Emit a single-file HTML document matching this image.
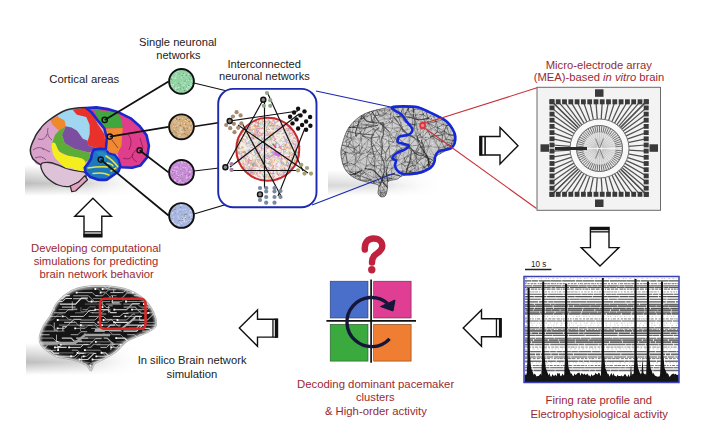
<!DOCTYPE html><html><head><meta charset="utf-8"><style>html,body{margin:0;padding:0;background:#fff;width:723px;height:438px;overflow:hidden}svg{display:block}</style></head><body><svg width="723" height="438" viewBox="0 0 723 438">
<defs>
<radialGradient id="shad" cx="50%" cy="50%" r="50%"><stop offset="0" stop-color="#b8b8b8"/><stop offset="0.6" stop-color="#d4d4d4"/><stop offset="1" stop-color="#ffffff" stop-opacity="0"/></radialGradient>
<linearGradient id="shadL" x1="0" x2="1" y1="0" y2="0"><stop offset="0" stop-color="#ffffff" stop-opacity="0"/><stop offset="0.25" stop-color="#c8c8c8"/><stop offset="1" stop-color="#e8e8e8" stop-opacity="0"/></linearGradient>
<radialGradient id="gbg" cx="0.45" cy="0.4" r="0.6"><stop offset="0" stop-color="#fff" stop-opacity="0.25"/><stop offset="0.7" stop-color="#fff" stop-opacity="0"/><stop offset="1" stop-color="#000" stop-opacity="0.25"/></radialGradient>
<linearGradient id="shadH" x1="0" x2="1" y1="0" y2="0"><stop offset="0" stop-color="#c0c0c0"/><stop offset="0.35" stop-color="#d8d8d8"/><stop offset="1" stop-color="#ffffff" stop-opacity="0"/></linearGradient>
<filter id="blur3" x="-20%" y="-50%" width="140%" height="200%"><feGaussianBlur stdDeviation="2.5"/></filter>
<linearGradient id="shadH2" x1="0" x2="1" y1="0" y2="0"><stop offset="0" stop-color="#d4d4d4"/><stop offset="0.5" stop-color="#dedede"/><stop offset="1" stop-color="#ffffff" stop-opacity="0"/></linearGradient>
<filter id="blur4" x="-20%" y="-80%" width="140%" height="260%"><feGaussianBlur stdDeviation="3.5"/></filter>
<filter id="blur1" x="-10%" y="-10%" width="120%" height="120%"><feGaussianBlur stdDeviation="1.2"/></filter>
<linearGradient id="vg" x1="0" x2="0" y1="0" y2="1"><stop offset="0" stop-color="#fff" stop-opacity="0"/><stop offset="0.6" stop-color="#fff" stop-opacity="1"/><stop offset="1" stop-color="#fff" stop-opacity="0"/></linearGradient>
<linearGradient id="hg" x1="0" x2="1" y1="0" y2="0"><stop offset="0" stop-color="#bdbdbd"/><stop offset="0.5" stop-color="#d6d6d6"/><stop offset="1" stop-color="#ffffff" stop-opacity="0"/></linearGradient>
<mask id="mv" maskContentUnits="objectBoundingBox"><rect width="1" height="1" fill="url(#vg)"/></mask>
</defs>
<rect width="723" height="438" fill="#ffffff"/>
<rect x="25" y="165" width="125" height="31" fill="url(#hg)" mask="url(#mv)"/>
<path d="M30.3,150.0 C30.6,146.4 33.1,141.3 34.8,137.7 C36.5,134.1 38.3,131.4 40.6,128.5 C42.9,125.6 45.9,122.8 48.5,120.5 C51.1,118.2 53.6,116.5 56.5,114.8 C59.4,113.1 62.7,111.4 65.7,110.3 C68.8,109.2 71.4,108.5 74.8,108.0 C78.2,107.5 82.5,107.7 86.1,107.6 C89.7,107.5 92.8,107.0 96.4,107.2 C100.0,107.4 104.0,107.9 107.8,108.8 C111.6,109.7 115.4,110.8 119.2,112.4 C123.0,114.0 127.3,115.9 130.7,118.2 C134.1,120.5 137.2,123.3 139.8,126.2 C142.5,129.1 145.1,132.2 146.6,135.4 C148.1,138.7 148.8,142.0 148.9,145.7 C149.0,149.4 148.5,154.1 147.1,157.4 C145.7,160.7 142.8,163.9 140.3,165.6 C137.8,167.3 135.2,167.4 132.0,167.7 C128.8,168.0 123.3,166.7 121.0,167.5 C118.7,168.3 120.0,170.8 118.4,172.5 C116.8,174.2 113.8,176.4 111.5,178.0 C109.2,179.6 107.2,181.6 104.7,182.0 C102.2,182.4 99.2,181.8 96.4,180.7 C93.7,179.6 90.3,177.0 88.2,175.2 C86.1,173.4 91.7,171.5 84.0,170.0 C76.3,168.5 50.5,167.8 42.0,166.0 C33.5,164.2 35.0,161.7 33.0,159.0 C31.1,156.3 30.0,153.6 30.3,150.0Z" fill="#d8a2ca"/>
<path d="M41.2,164.0 C42.3,162.4 46.3,162.3 49.2,162.5 C52.1,162.7 55.5,164.1 58.4,165.1 C61.3,166.1 63.8,167.6 66.4,168.5 C69.1,169.4 71.4,169.8 74.3,170.4 C77.2,171.0 81.6,171.1 83.6,171.8 C85.6,172.5 86.0,173.3 86.2,174.4 C86.4,175.5 86.2,177.1 84.9,178.4 C83.6,179.7 80.7,181.0 78.3,182.3 C75.9,183.6 73.6,185.9 70.3,186.3 C67.0,186.8 62.1,186.3 58.4,185.0 C54.6,183.7 50.4,180.6 47.8,178.4 C45.2,176.2 43.7,174.2 42.6,171.8 C41.5,169.4 40.1,165.6 41.2,164.0Z" fill="#ddc2d8" stroke="#2a2a2a" stroke-width="1.3"/>
<path d="M70.3,186.0 L71.7,191.6 L75.6,191.0 L87.5,179.7 L84.9,175.7 L78.3,182.3Z" fill="#e4a0bf" stroke="#2a2a2a" stroke-width="1.2" stroke-linejoin="round" />
<path d="M50.3,120.0 L57.7,116.0 L64.5,120.5 L65.7,126.3 L58.8,130.8 L52.5,124.5Z" fill="#f0892c" stroke="none" stroke-width="0" stroke-linejoin="round" />
<path d="M57.7,116.0 C57.9,114.3 63.2,111.3 65.7,110.3 C68.2,109.2 70.7,109.0 72.6,109.7 C74.5,110.5 74.7,113.6 77.0,114.8 C79.3,116.0 84.2,115.3 86.3,117.0 C88.4,118.7 89.1,122.1 89.7,125.0 C90.3,127.9 90.1,131.7 89.7,134.2 C89.3,136.7 88.6,139.2 87.4,140.0 C86.2,140.8 84.5,140.3 82.8,138.8 C81.1,137.3 78.9,132.7 77.0,130.8 C75.1,128.9 73.1,128.0 71.4,127.4 C69.7,126.8 68.0,128.6 66.8,127.4 C65.6,126.2 66.0,122.4 64.5,120.5 C63.0,118.6 57.5,117.7 57.7,116.0Z" fill="#a0d6ef"/>
<path d="M72.6,109.7 L85.1,107.4 L87.4,108.0 L94.2,117.0 L97.7,124.0 L104.5,134.2 L105.7,145.7 L104.5,150.0 L97.7,148.0 L88.5,145.7 L87.4,142.2 L89.7,134.2 L89.7,125.0 L86.3,117.0 L77.0,114.8Z" fill="#e8312b" stroke="none" stroke-width="0" stroke-linejoin="round" />
<path d="M65.7,126.3 L71.4,127.4 L77.0,130.8 L82.8,138.8 L87.4,140.5 L88.5,145.7 L97.7,148.0 L93.0,150.0 L89.3,152.8 L74.2,148.7 L64.7,143.2 L62.0,135.0Z" fill="#7c4e9f" stroke="none" stroke-width="0" stroke-linejoin="round" />
<path d="M55.0,135.0 L58.8,130.8 L65.7,126.3 L62.0,135.0 L64.7,143.2 L74.2,148.7 L89.3,152.8 L92.0,157.0 L90.7,159.7 L85.2,161.7 L81.1,158.3 L67.4,155.5 L59.2,151.4 L55.0,143.2 L51.6,144.6Z" fill="#5bad35" stroke="none" stroke-width="0" stroke-linejoin="round" />
<path d="M51.6,144.6 C51.8,142.5 53.7,142.1 55.0,143.2 C56.3,144.3 57.1,149.3 59.2,151.4 C61.3,153.5 63.8,154.3 67.4,155.5 C71.1,156.7 78.1,157.2 81.1,158.3 C84.1,159.5 84.8,160.4 85.2,162.4 C85.7,164.4 84.9,169.2 83.8,170.6 C82.7,172.0 80.5,171.0 78.4,170.6 C76.4,170.2 73.6,168.3 71.5,167.9 C69.4,167.5 68.0,168.8 66.0,167.9 C64.0,167.0 61.2,164.5 59.2,162.4 C57.2,160.3 55.0,158.5 53.7,155.5 C52.4,152.5 51.4,146.7 51.6,144.6Z" fill="#f5ee1f"/>
<path d="M33,150 Q40,145 44,150" fill="none" stroke="#6a3a60" stroke-width="0.7"/>
<path d="M38,139 Q45,141 47,134" fill="none" stroke="#6a3a60" stroke-width="0.7"/>
<path d="M35,158 Q42,155 46,160" fill="none" stroke="#6a3a60" stroke-width="0.7"/>
<path d="M48,128 Q46,136 52,140" fill="none" stroke="#6a3a60" stroke-width="0.7"/>
<path d="M42,148 L50,152" fill="none" stroke="#6a3a60" stroke-width="0.7"/>
<path d="M86.1,108 L96.4,107.4 L107.8,109.1 L119.2,112.6 L130.7,118.3 L139.8,126.3 L146.6,135.4 L148.9,145.7 L147.1,157.4 L140.3,165.6 L132,167.7 L121,167.2 L117.5,154 L108.8,152.6 L106.7,137.7 L104.4,128.5 L98.7,121.7 L91.8,112.6Z" fill="#e13d8d"/>
<path d="M94.1,109.7 L117.0,112.6 L121.5,119.4 L122.7,127.4 L110.1,128.5 L104.4,127.4 L98.7,120.5Z" fill="#3fa73d" stroke="none" stroke-width="0" stroke-linejoin="round" />
<path d="M105.5,128.5 L122.7,128.0 L121.5,145.7 L119.2,150.0 L117.5,154.0 L108.8,152.6 L106.7,137.7Z" fill="#ef8a30" stroke="none" stroke-width="0" stroke-linejoin="round" />
<path d="M127,133 Q134,140 129,150" fill="none" stroke="#7a1848" stroke-width="0.7"/>
<path d="M136,150 Q128,157 137,162" fill="none" stroke="#7a1848" stroke-width="0.7"/>
<path d="M123,158 Q131,161 133,154" fill="none" stroke="#7a1848" stroke-width="0.7"/>
<path d="M140,138 L143,148" fill="none" stroke="#7a1848" stroke-width="0.7"/>
<path d="M112,140 L118,148" fill="none" stroke="#7a1848" stroke-width="0.7"/>
<path d="M93.9,149.6 C95.3,148.8 98.2,148.5 100.3,148.7 C102.4,148.8 105.3,149.8 106.7,150.5 C108.1,151.2 107.1,152.4 108.5,153.2 C109.9,153.9 113.2,153.9 114.9,155.0 C116.6,156.1 117.6,157.8 118.5,159.6 C119.4,161.4 120.4,164.0 120.4,166.0 C120.4,168.0 119.9,169.8 118.5,171.5 C117.1,173.2 114.1,174.6 112.1,176.0 C110.1,177.4 109.0,179.1 106.7,179.7 C104.4,180.3 101.2,180.1 98.4,179.7 C95.7,179.2 92.3,178.2 90.2,177.0 C88.1,175.8 86.6,173.9 85.7,172.4 C84.8,170.9 84.4,169.2 84.7,167.8 C85.0,166.4 86.4,165.7 87.5,164.2 C88.6,162.7 90.3,160.5 91.1,158.7 C91.8,156.9 91.5,154.7 92.0,153.2 C92.5,151.7 92.5,150.3 93.9,149.6Z" fill="#1d78c0"/>
<path d="M96,152 Q104,150 108,156 L104,162 Z" fill="#2a8ec8" opacity="0.8"/>
<path d="M93,173.5 Q103,172 109,175" fill="none" stroke="#e8e438" stroke-width="1.5" stroke-linecap="round"/>
<path d="M88,168 Q100,166 107.5,167" fill="none" stroke="#e8e438" stroke-width="1.5" stroke-linecap="round"/>
<path d="M106,156 Q113,160 118,167" fill="none" stroke="#e8e438" stroke-width="1.5" stroke-linecap="round"/>
<path d="M107,163 Q112,164 113,166" fill="none" stroke="#e8e438" stroke-width="1.5" stroke-linecap="round"/>
<path d="M111,171 L116,168" fill="none" stroke="#e8e438" stroke-width="1.5" stroke-linecap="round"/>
<path d="M86.1,108 L96.4,107.4 L107.8,109.1 L119.2,112.6 L130.7,118.3 L139.8,126.3 L146.6,135.4 L148.9,145.7 L147.1,157.4 L140.3,165.6 L132,167.7 L121,167.2 L120.4,166 L118.5,171.5 L112.1,176 L106.7,179.7 L98.4,179.7 L90.2,177 L85.7,172.4 L84.7,167.8 L87.5,164.2 L91.1,158.7 L92,153.2 L93.9,149.6 L100.3,148.7 L106,149.2 L106.7,137.7 L104.4,128.5 L98.7,121.7 L91.8,112.6Z" fill="none" stroke="#1a28cc" stroke-width="2.6" stroke-linejoin="round"/>
<path d="M106.7,150.5 L108.5,153.2 L114.9,155 L118.5,159.6 L120.4,166" fill="none" stroke="#1a28cc" stroke-width="2.2"/>
<path d="M86.1,107.6 C80,107.8 70,108.6 65.7,110.3 C60,112.5 52,118 48.5,120.5 C44,124 42,126 40.6,128.5 C37,133 35,136 34.8,137.7 C32,143 30.5,147 30.3,150 C30,154 32,157 33,159 C36,162 39,164 41.4,165.1" fill="none" stroke="#2a2a2a" stroke-width="1.5"/>
<line x1="104.7" y1="119.9" x2="168.5" y2="81.4" stroke="#111" stroke-width="1.8"/>
<line x1="109.8" y1="136.6" x2="168.5" y2="126.8" stroke="#111" stroke-width="1.8"/>
<line x1="139.6" y1="150.3" x2="168.5" y2="172.4" stroke="#111" stroke-width="1.8"/>
<line x1="100.7" y1="159.6" x2="168.5" y2="215.5" stroke="#111" stroke-width="1.8"/>
<circle cx="104.7" cy="119.9" r="2.6" fill="none" stroke="#111" stroke-width="1.4"/>
<circle cx="109.8" cy="136.6" r="2.6" fill="none" stroke="#111" stroke-width="1.4"/>
<circle cx="139.6" cy="150.3" r="2.6" fill="none" stroke="#111" stroke-width="1.4"/>
<circle cx="100.7" cy="159.6" r="2.6" fill="none" stroke="#111" stroke-width="1.4"/>
<line x1="194" y1="83" x2="263.3" y2="99.7" stroke="#111" stroke-width="1.1"/>
<line x1="194" y1="126.5" x2="229.7" y2="121" stroke="#111" stroke-width="1.6"/>
<line x1="194" y1="171" x2="225.4" y2="167.2" stroke="#111" stroke-width="1.1"/>
<line x1="194" y1="214" x2="260" y2="194.4" stroke="#111" stroke-width="1.1"/>
<circle cx="181.5" cy="81.4" r="12.4" fill="#8fd4a2"/>
<path d="M179.5 85.4h1.2v1h-1.2zM179.7 83.5h1.2v1h-1.2zM174.1 85.5h1.2v1h-1.2zM178.3 91.2h1.2v1h-1.2zM170.9 79.7h1.2v1h-1.2zM184.6 80.6h1.2v1h-1.2zM188.9 78.7h1.2v1h-1.2zM180 88.4h1.2v1h-1.2zM182.7 87.4h1.2v1h-1.2zM188.2 85.1h1.2v1h-1.2zM180.6 85.7h1.2v1h-1.2zM178.5 73.7h1.2v1h-1.2zM189.7 75.4h1.2v1h-1.2zM177.9 82.8h1.2v1h-1.2zM170.6 78.8h1.2v1h-1.2zM192.1 83.1h1.2v1h-1.2zM172 82.7h1.2v1h-1.2zM192.6 83h1.2v1h-1.2zM181.8 75.1h1.2v1h-1.2zM182.7 73.1h1.2v1h-1.2zM185.1 71.6h1.2v1h-1.2zM184.1 90.1h1.2v1h-1.2zM185.8 74.7h1.2v1h-1.2zM176.4 89.1h1.2v1h-1.2zM186.7 86.3h1.2v1h-1.2zM183 77.3h1.2v1h-1.2zM192.8 82.4h1.2v1h-1.2z" fill="#555" opacity="0.5"/>
<path d="M191.4 84.5h1.2v1h-1.2zM182.2 84.7h1.2v1h-1.2zM184.6 82.9h1.2v1h-1.2zM189.6 84.5h1.2v1h-1.2zM175.5 75h1.2v1h-1.2zM175.1 78h1.2v1h-1.2zM191.7 84.5h1.2v1h-1.2zM177.8 91.1h1.2v1h-1.2zM188.4 86.6h1.2v1h-1.2zM175.6 87.5h1.2v1h-1.2zM173.2 77.8h1.2v1h-1.2zM178.3 74.6h1.2v1h-1.2zM170.7 83.8h1.2v1h-1.2zM182.1 78.2h1.2v1h-1.2zM173 84.2h1.2v1h-1.2zM187 86.4h1.2v1h-1.2zM186.1 88h1.2v1h-1.2zM171.9 76.6h1.2v1h-1.2zM177.8 87.1h1.2v1h-1.2zM174.7 77.7h1.2v1h-1.2zM190.5 85.3h1.2v1h-1.2zM174.6 72.3h1.2v1h-1.2zM175.1 90.5h1.2v1h-1.2zM183.4 84.8h1.2v1h-1.2zM181.6 88.6h1.2v1h-1.2zM180.8 85.6h1.2v1h-1.2zM185.5 76.8h1.2v1h-1.2zM191 80.6h1.2v1h-1.2zM185.8 80.2h1.2v1h-1.2zM186.9 89h1.2v1h-1.2zM172.7 82.2h1.2v1h-1.2zM175.6 87.7h1.2v1h-1.2zM175.9 73.2h1.2v1h-1.2zM183.6 74.5h1.2v1h-1.2zM175.2 86.3h1.2v1h-1.2zM184.3 82.5h1.2v1h-1.2zM181.7 81.5h1.2v1h-1.2zM175 87.8h1.2v1h-1.2zM175.2 76.7h1.2v1h-1.2zM188.2 72.1h1.2v1h-1.2zM175.1 82.2h1.2v1h-1.2zM186.9 85.4h1.2v1h-1.2zM175.3 88.7h1.2v1h-1.2zM187.8 74.1h1.2v1h-1.2zM170.6 80.1h1.2v1h-1.2zM178.9 86.2h1.2v1h-1.2zM183.2 76.5h1.2v1h-1.2zM180.3 82.9h1.2v1h-1.2zM183.5 73.7h1.2v1h-1.2zM177.5 70.9h1.2v1h-1.2zM185 72.3h1.2v1h-1.2zM188.2 79.5h1.2v1h-1.2zM187.8 86.1h1.2v1h-1.2zM181.5 73.4h1.2v1h-1.2zM173.1 85.1h1.2v1h-1.2zM185.1 70.6h1.2v1h-1.2zM171.8 83.7h1.2v1h-1.2zM180.8 76.7h1.2v1h-1.2zM190.2 82.9h1.2v1h-1.2zM190.8 80.2h1.2v1h-1.2zM186.2 88.5h1.2v1h-1.2zM189.5 87.4h1.2v1h-1.2zM171.7 85.7h1.2v1h-1.2z" fill="#ffffff" opacity="0.5"/>
<circle cx="181.5" cy="81.4" r="12.4" fill="none" stroke="#111" stroke-width="1.9"/>
<circle cx="181.5" cy="126.8" r="12.4" fill="#d4ad7c"/>
<path d="M186.7 127.7h1.2v1h-1.2zM176.1 117.9h1.2v1h-1.2zM171.8 132.1h1.2v1h-1.2zM184.6 130.1h1.2v1h-1.2zM185.2 133.8h1.2v1h-1.2zM183.6 128.8h1.2v1h-1.2zM179.8 136.8h1.2v1h-1.2zM173.1 129.9h1.2v1h-1.2zM175.8 126.5h1.2v1h-1.2zM176.5 130.8h1.2v1h-1.2zM181.7 129.9h1.2v1h-1.2zM185 123.7h1.2v1h-1.2zM183.7 132.9h1.2v1h-1.2zM174.5 131.5h1.2v1h-1.2zM179.8 125.1h1.2v1h-1.2zM183 127.2h1.2v1h-1.2zM181.7 134.5h1.2v1h-1.2zM171.1 123.7h1.2v1h-1.2zM175.7 135.6h1.2v1h-1.2zM179 127.9h1.2v1h-1.2zM187.3 117.8h1.2v1h-1.2zM190.3 125.2h1.2v1h-1.2zM192.5 124.1h1.2v1h-1.2zM175.7 132.2h1.2v1h-1.2zM176.2 118.7h1.2v1h-1.2zM187.3 134.7h1.2v1h-1.2zM187.9 135h1.2v1h-1.2zM188.6 121.1h1.2v1h-1.2zM179 119h1.2v1h-1.2zM185.6 119h1.2v1h-1.2zM183.5 128h1.2v1h-1.2zM173 123.5h1.2v1h-1.2z" fill="#555" opacity="0.5"/>
<path d="M182 135.6h1.2v1h-1.2zM171.4 123.9h1.2v1h-1.2zM187.3 123.1h1.2v1h-1.2zM189.1 127.7h1.2v1h-1.2zM173.6 120.4h1.2v1h-1.2zM173 125.8h1.2v1h-1.2zM183.5 125h1.2v1h-1.2zM179.7 127.4h1.2v1h-1.2zM177.5 123.6h1.2v1h-1.2zM173.5 129.3h1.2v1h-1.2zM189.5 119h1.2v1h-1.2zM191.1 121.7h1.2v1h-1.2zM183.8 123.2h1.2v1h-1.2zM180.2 130.6h1.2v1h-1.2zM190.1 123.4h1.2v1h-1.2zM188.2 135.3h1.2v1h-1.2zM183.6 137.8h1.2v1h-1.2zM183.8 122.8h1.2v1h-1.2zM188.8 126.5h1.2v1h-1.2zM177 131.8h1.2v1h-1.2zM180.1 127.4h1.2v1h-1.2zM175.3 126.1h1.2v1h-1.2zM189.9 134h1.2v1h-1.2zM185.2 126.1h1.2v1h-1.2zM180 137.6h1.2v1h-1.2zM181 130.9h1.2v1h-1.2zM187 119.1h1.2v1h-1.2zM172.8 122.7h1.2v1h-1.2zM179.6 136.9h1.2v1h-1.2zM178.7 128.2h1.2v1h-1.2zM174.7 119.1h1.2v1h-1.2zM177.3 123.4h1.2v1h-1.2zM186.5 120.9h1.2v1h-1.2zM188.9 126.5h1.2v1h-1.2zM181.8 130.6h1.2v1h-1.2zM181.1 131.7h1.2v1h-1.2zM175.7 120.7h1.2v1h-1.2zM179.5 134.7h1.2v1h-1.2zM180.2 137h1.2v1h-1.2zM176.7 125.2h1.2v1h-1.2zM184.7 119.9h1.2v1h-1.2zM179.6 131.8h1.2v1h-1.2zM180.9 122.5h1.2v1h-1.2zM192 125.6h1.2v1h-1.2zM190.4 131.1h1.2v1h-1.2zM179.4 134.3h1.2v1h-1.2zM181.4 127.5h1.2v1h-1.2zM180.5 128.7h1.2v1h-1.2zM182.5 131.6h1.2v1h-1.2zM178.3 122h1.2v1h-1.2zM190.2 132.4h1.2v1h-1.2zM179.6 128.2h1.2v1h-1.2zM178.7 135.5h1.2v1h-1.2zM174.3 122.5h1.2v1h-1.2zM176.5 131h1.2v1h-1.2zM181.7 118.1h1.2v1h-1.2zM177.6 118.1h1.2v1h-1.2zM179.1 129.7h1.2v1h-1.2z" fill="#ffffff" opacity="0.5"/>
<circle cx="181.5" cy="126.8" r="12.4" fill="none" stroke="#111" stroke-width="1.9"/>
<circle cx="181.5" cy="172.4" r="12.4" fill="#c98ad8"/>
<path d="M175.9 171.3h1.2v1h-1.2zM191.4 167.9h1.2v1h-1.2zM171.3 174.1h1.2v1h-1.2zM182.5 182.4h1.2v1h-1.2zM180.8 161.1h1.2v1h-1.2zM179.5 169.9h1.2v1h-1.2zM178.6 180.6h1.2v1h-1.2zM185.9 175.5h1.2v1h-1.2zM179.4 180.4h1.2v1h-1.2zM185.1 183.2h1.2v1h-1.2zM189.1 170.9h1.2v1h-1.2zM173.2 179.6h1.2v1h-1.2zM170.4 170.7h1.2v1h-1.2zM174.2 166.9h1.2v1h-1.2zM188.8 166.1h1.2v1h-1.2zM170.7 172.5h1.2v1h-1.2zM182.2 172.5h1.2v1h-1.2zM185.8 177.6h1.2v1h-1.2zM186.3 177h1.2v1h-1.2zM181.5 161.9h1.2v1h-1.2zM186.2 170.5h1.2v1h-1.2zM186.5 168.8h1.2v1h-1.2zM191.3 177.5h1.2v1h-1.2zM185.2 167.6h1.2v1h-1.2zM184.6 167.1h1.2v1h-1.2zM177.4 181.7h1.2v1h-1.2zM172.2 169.4h1.2v1h-1.2zM181.7 163.2h1.2v1h-1.2zM187 178.1h1.2v1h-1.2zM177.8 175.3h1.2v1h-1.2zM188.7 176.1h1.2v1h-1.2zM174.1 170h1.2v1h-1.2zM189.2 172.2h1.2v1h-1.2zM176.1 170.7h1.2v1h-1.2zM179.6 175.3h1.2v1h-1.2zM174.5 180h1.2v1h-1.2zM189.1 165.9h1.2v1h-1.2zM174.1 179.1h1.2v1h-1.2zM176.7 177.1h1.2v1h-1.2zM172.8 172.5h1.2v1h-1.2zM184.2 162.1h1.2v1h-1.2zM180.7 178.1h1.2v1h-1.2zM176.9 166.4h1.2v1h-1.2zM187.7 163.7h1.2v1h-1.2zM186.7 177.8h1.2v1h-1.2zM189.4 170.8h1.2v1h-1.2zM188.5 163.5h1.2v1h-1.2zM182.6 167.1h1.2v1h-1.2zM178.3 162.3h1.2v1h-1.2zM190.2 177.6h1.2v1h-1.2zM182.6 167h1.2v1h-1.2zM177.6 167.4h1.2v1h-1.2zM175.6 166.4h1.2v1h-1.2zM180.3 168.7h1.2v1h-1.2zM178 183h1.2v1h-1.2zM189.9 172.5h1.2v1h-1.2zM180.3 178.8h1.2v1h-1.2zM176 173.3h1.2v1h-1.2zM180.9 174h1.2v1h-1.2zM188.4 166.3h1.2v1h-1.2zM181.1 181.8h1.2v1h-1.2zM181.8 174.5h1.2v1h-1.2zM180.1 165.6h1.2v1h-1.2zM183.2 169.9h1.2v1h-1.2zM187.8 171.2h1.2v1h-1.2z" fill="#ffffff" opacity="0.5"/>
<path d="M191.8 172.6h1.2v1h-1.2zM179.9 169.9h1.2v1h-1.2zM183.3 169.8h1.2v1h-1.2zM180.9 174.8h1.2v1h-1.2zM176.9 180.5h1.2v1h-1.2zM173.5 173.3h1.2v1h-1.2zM171.7 174.5h1.2v1h-1.2zM189.2 173.3h1.2v1h-1.2zM184.6 174h1.2v1h-1.2zM178.4 165.7h1.2v1h-1.2zM188.1 175.3h1.2v1h-1.2zM181.5 178.3h1.2v1h-1.2zM189.2 165.5h1.2v1h-1.2zM172.8 178.7h1.2v1h-1.2zM188.2 169.4h1.2v1h-1.2zM170.6 173.4h1.2v1h-1.2zM180.3 178.1h1.2v1h-1.2zM187.3 171.5h1.2v1h-1.2zM182.1 180.4h1.2v1h-1.2zM187.2 178.2h1.2v1h-1.2zM172.9 179.4h1.2v1h-1.2zM172.1 171.1h1.2v1h-1.2zM177.4 175.9h1.2v1h-1.2zM188.8 173.8h1.2v1h-1.2zM184.8 182.1h1.2v1h-1.2z" fill="#555" opacity="0.5"/>
<circle cx="181.5" cy="172.4" r="12.4" fill="none" stroke="#111" stroke-width="1.9"/>
<circle cx="181.5" cy="215.5" r="12.4" fill="#a6b6e0"/>
<path d="M182.2 220.9h1.2v1h-1.2zM183.6 220.5h1.2v1h-1.2zM185.9 221.2h1.2v1h-1.2zM190.3 216.8h1.2v1h-1.2zM184.2 216.4h1.2v1h-1.2zM172.3 218.5h1.2v1h-1.2zM180.3 204.1h1.2v1h-1.2zM179.9 205.1h1.2v1h-1.2zM177.9 216.8h1.2v1h-1.2zM180.2 222.2h1.2v1h-1.2zM172.2 211.7h1.2v1h-1.2zM175 223.7h1.2v1h-1.2zM189.7 220.6h1.2v1h-1.2zM173.8 223.4h1.2v1h-1.2zM177.1 224.3h1.2v1h-1.2zM181.7 213.2h1.2v1h-1.2zM171.5 217.8h1.2v1h-1.2zM179.1 221h1.2v1h-1.2zM184.3 214.5h1.2v1h-1.2zM189.1 221.6h1.2v1h-1.2zM188.4 213.5h1.2v1h-1.2zM190.4 210.1h1.2v1h-1.2zM178.4 224.5h1.2v1h-1.2zM176.4 211.4h1.2v1h-1.2zM186 217.9h1.2v1h-1.2zM181.5 218.4h1.2v1h-1.2zM173.1 216.5h1.2v1h-1.2zM192.2 214.2h1.2v1h-1.2zM181.2 218.8h1.2v1h-1.2zM171.4 220.9h1.2v1h-1.2zM183.4 219.2h1.2v1h-1.2zM171.7 213.1h1.2v1h-1.2zM182.7 209.4h1.2v1h-1.2zM181 223.1h1.2v1h-1.2zM182.6 218.2h1.2v1h-1.2zM189.7 215.1h1.2v1h-1.2zM179.3 212.6h1.2v1h-1.2zM185.2 215.3h1.2v1h-1.2zM185.6 211.8h1.2v1h-1.2zM183.5 214.3h1.2v1h-1.2zM190.2 214h1.2v1h-1.2zM174.1 223.2h1.2v1h-1.2zM179.8 208.9h1.2v1h-1.2zM178.6 218.7h1.2v1h-1.2zM178.5 211.3h1.2v1h-1.2zM184.6 208.8h1.2v1h-1.2zM184 221.4h1.2v1h-1.2zM189.4 217.1h1.2v1h-1.2zM184.9 216.9h1.2v1h-1.2zM177.5 226h1.2v1h-1.2zM181.2 204.7h1.2v1h-1.2zM172.2 220.9h1.2v1h-1.2zM177.1 209.8h1.2v1h-1.2zM181.8 216.3h1.2v1h-1.2zM172.3 220.3h1.2v1h-1.2zM175.4 212.2h1.2v1h-1.2zM183.3 217.4h1.2v1h-1.2zM174.5 207h1.2v1h-1.2zM177.1 215.4h1.2v1h-1.2zM184 219.6h1.2v1h-1.2zM187.7 220.6h1.2v1h-1.2zM178.1 225.5h1.2v1h-1.2zM189.4 214.3h1.2v1h-1.2zM174.3 209.8h1.2v1h-1.2zM189 210.4h1.2v1h-1.2zM172.8 221.5h1.2v1h-1.2zM183.7 220.4h1.2v1h-1.2z" fill="#ffffff" opacity="0.5"/>
<path d="M188.5 221.2h1.2v1h-1.2zM183.8 214h1.2v1h-1.2zM179.1 219.9h1.2v1h-1.2zM181.5 213.4h1.2v1h-1.2zM188.7 216.9h1.2v1h-1.2zM181.1 225.4h1.2v1h-1.2zM178.3 220.6h1.2v1h-1.2zM191.1 218.2h1.2v1h-1.2zM179.9 206.8h1.2v1h-1.2zM185.9 213.4h1.2v1h-1.2zM171.6 218h1.2v1h-1.2zM174.6 209h1.2v1h-1.2zM175.1 212.6h1.2v1h-1.2zM181.6 220h1.2v1h-1.2zM181.8 218.1h1.2v1h-1.2zM173.4 209.4h1.2v1h-1.2zM185 214.2h1.2v1h-1.2zM183.7 215.5h1.2v1h-1.2zM179.2 211.6h1.2v1h-1.2zM185.4 218h1.2v1h-1.2zM180 226.8h1.2v1h-1.2zM171.6 210.6h1.2v1h-1.2zM174.7 207.3h1.2v1h-1.2z" fill="#555" opacity="0.5"/>
<circle cx="181.5" cy="215.5" r="12.4" fill="none" stroke="#111" stroke-width="1.9"/>
<rect x="218.2" y="88.9" width="98.3" height="118.3" rx="15" fill="#ffffff" stroke="#1c28b0" stroke-width="1.9"/>
<circle cx="267.8" cy="149.3" r="31" fill="#f5ece6"/>
<path d="M279 144.8L280.2 146M290.9 147.9L290.3 149M292.6 140.3L293.3 142.3M246.2 160.8L246.7 162.5M262.8 119.6L261.1 118.4M270.2 138.1L269.5 137.4M252.8 173.3L251 176.1M259.9 144.9L258.3 148M252 162.9L252.1 164M265.3 144L266.3 147.6M252.5 165.9L253.4 164.5M280.8 172.2L281.8 169.2M256.3 163.6L253.6 162.9M265.6 177.2L263.2 176.9M264.9 171.5L263.5 171.8M272.4 162.8L272.1 161.7M274.6 125L275.6 123.1M251.3 151L253.9 150.4M296.9 147.6L293.4 148.1M281.6 149.9L280.6 150.8M289.7 166.3L287.9 167.2M274.5 124.2L273.1 124.1M282.8 166L282.2 164.9M257.3 147.9L256.1 148.8M253.1 170.1L250.2 172M250.2 151.2L248.5 153.3M272.7 135.5L269.6 136.1M257.4 166L257.6 167M243.6 138.5L241 138.6M246 157.7L246.6 156.8M266.6 174.9L266.5 177.7M283.9 136.3L283.1 138.3" fill="none" stroke="#f08a50" stroke-width="0.6" opacity="0.7" stroke-linecap="round"/>
<path d="M289.9 155.1L293.3 156M250.5 139.4L248.8 141.3M255.6 127.9L254.5 124.5M288.6 137L287.6 138.5M248 151.9L251.2 153.7M253.8 163.3L256.4 164.6M259.3 153.9L262.9 154.2M245.4 139.7L243.8 139.6M282 173.1L280.3 174.6M267.9 169.1L269.2 169.2M249.4 173.5L248.9 170.5M266.9 154.8L269.9 156.9M247.3 128.1L246.4 125.3M295.1 150L294.2 151.3M271.5 125.3L274.2 127.3M295.4 149L296.6 150.6M243.1 156.2L245 156.8M242.8 149.6L242.7 146.2M285.4 153.7L288.9 151.8M252.6 130.7L250.9 128.5M252.9 159.2L252.2 156.5M296.3 155.1L297.2 156.1M271.1 179.2L270.7 177.8M289 132.3L288.9 131.2M249.4 138.1L249.3 134.7M270.7 157.9L270.2 159.9M259.9 123.7L257.9 123.6M275.8 130.8L275.3 128.6M257.5 156.8L260 158.5" fill="none" stroke="#c0c060" stroke-width="0.6" opacity="0.7" stroke-linecap="round"/>
<path d="M251.9 162.4L252.5 159.5M247.3 168.6L248.8 166.5M296.8 155.6L299.6 157.3M256.8 150.9L257.4 152.8M268.7 168.6L270.7 171.5M259.5 167.5L256.2 165.7M266.7 140.5L264.3 139.6M265.8 156.5L264.8 153.2M250.7 138.5L252.2 139.7M265.8 177.1L263.5 176M263.9 165.7L264.5 166.7M253.6 138.2L255.6 139M289.3 144.1L290.9 147M290 155.2L293.5 153.3M262.4 166.3L263.9 166.6M271.2 139.6L271.2 141.7M284.8 132.6L286.6 135M288.4 128.1L291.9 129.8M266.4 127.6L266.5 131.2M254.9 171.4L253.1 174.9M278 122L278.7 121.1M243.1 165L242 163.8M248.9 162L247.3 159.9M292.3 161.2L292.8 164M250.2 127.9L250.9 127M254.8 162.3L255.6 159.9M246.6 145.8L246.6 144.8M289.6 134.5L287.6 133.2M267.5 125.8L268.8 125.4M284.4 133.2L285.3 132.5M266.3 145.5L267.9 146.9M274.3 160.4L274.2 159M259.4 136.5L258 136.7M243.5 163.1L243 160.2M252.9 134.6L251.1 137.9M243 153.2L244.8 151.6M273.7 135.1L272.7 137.2M280.8 165.4L281.3 168M253 168.5L251.2 169.8M264.4 178.1L265.2 174.7M270.8 124.1L270.9 121.7M279.4 160.7L277.1 163.2M255.3 148.5L255.8 150.2M281.9 161.8L282.2 163.2M260.3 162.2L263.6 163M264 137.3L266.2 134.8M262.1 158.6L263.1 159.2M262.9 164.5L261.7 164.5M286.2 144.3L284.3 145.3M248.6 154L246.9 153.9M269.9 126L269.1 122.6M271.3 162.8L269.4 166.1" fill="none" stroke="#c0c060" stroke-width="0.9" opacity="0.7" stroke-linecap="round"/>
<path d="M291.5 152.8L289.3 153.3M258.4 123.2L255.2 121.1M275.8 138.9L275 140.1M241.2 153.2L244.3 152M283.3 125.5L285.2 126.7M252.9 163.4L252.4 165.4M289.7 156L288.9 158.5M289.6 128.8L286.9 130.7M260 171.6L261.2 171.5M250.5 173.5L253.3 172.1M292.3 132.7L289.5 134.1M258.9 120.8L258 123.8M274.4 176.1L273.3 178.2M260.9 165.5L260.3 166.5M296.2 150.6L294.4 151.8M287 147.8L287.8 147.1M264.2 166.5L265.4 165.2M245.5 155.7L245.4 152.1M252.8 172.3L251.5 171.4M268.3 147.3L265.3 145M274.1 140.8L274.3 139.7M242.1 156.3L241.9 157.5M263.5 128.9L262.4 128M263.6 157.7L265.6 161M280.6 148.5L279.4 147.5M253.4 145.9L252.7 144.7M273 154.9L273.4 151.4M275.4 122.3L277.6 121.5M248.6 159.8L251.8 160.9M272.4 168.4L273.5 165.6M291.8 161.4L291.9 162.9M264.6 176L263.6 176.2M296.4 152.1L299.4 154M267.6 158.3L268.1 159.2M248.9 128.6L250.4 125.3M276.1 142.9L274.9 146.6M267 147.9L268.4 146.8M279.2 145.7L280.4 148.1M289.6 164.7L287.3 162.1" fill="none" stroke="#d85858" stroke-width="0.9" opacity="0.7" stroke-linecap="round"/>
<path d="M282 125.8L283.1 126.7M267.5 171.6L267.4 169.5M267.3 146.9L267.2 144.5M295.9 151.5L295 149.2M274.1 173.7L270.3 173.4M257.9 137.6L257 138.3M265.1 156.1L263.5 156.5M265.3 147.8L264 148.1M273.1 119.9L274.7 117.5M256.9 153.7L255.6 154.5M259.4 154.4L259.7 151.7M250.2 163.7L249.6 162.9M255.9 165.9L257.5 166.1M257.2 128.5L255.9 131.9M296.4 150.7L295.2 150.2M281.7 157.9L281.3 160.1M286 147.9L285.3 144.2M268 128.5L269.7 129.6M249.5 170.9L250.5 172M263.9 133.2L261.4 134.4M262.5 163.5L263.6 160.2M274.1 120.2L274.7 123.7M272.9 172.9L273.6 171.5M276.3 125.7L272.4 125.9M268.4 124.2L270 121.5M264.1 126.3L261.1 128.7M262.4 139.5L262.8 138.4M271.1 134.9L274.4 137M284.3 163.5L282.1 161.5M241 158.1L241.3 156M259.9 168.8L258.8 171.5M248.5 172.5L247.5 174.5M284.7 132.7L281.8 133.8M257.4 131.8L257.3 133.3M265 124.7L266.9 127.5M269.3 154.9L266.1 156.9M284 158.2L285.1 158.1M290.8 167.5L292.7 167.2M295.4 154L297 152.1M272.4 135.2L274.1 132.4" fill="none" stroke="#a080e0" stroke-width="0.9" opacity="0.7" stroke-linecap="round"/>
<path d="M249.7 169.8L248.6 169.7M269.1 144.1L269.4 142.1M251.9 129.4L252.6 131.2M276 173.3L279.1 175M248.6 133.7L251 132.2M276.3 143.4L279.7 144.7M288.4 143.2L291.7 143.7M256.8 138.8L258.5 138.9M251.6 170.4L252.2 174.3M271.8 132.9L273.7 132.9M258.5 142.4L258.5 141M254.6 150.2L254.4 152.8M271.3 138.7L268.3 137.7M273.4 149L274.5 148.3M250.7 142.6L252 142.1M275.6 149.3L274.6 150.5M247.9 157.2L248 156.2M262.1 163.7L262.9 162.5M289.6 135.1L285.9 135.1M261.6 165.4L262.3 162.6M271 125.8L270.8 127.4M285.8 141.9L284.4 138.3M257.7 150.1L257.4 148.9M247.5 156.4L244.5 154.7M255.7 133.9L255.5 137.4M269 152.8L266.7 154.2M243.1 131.4L245.3 132.4M274.6 151.7L277.1 152M271.6 137.9L270.3 138.7M270.1 169.9L273.8 169M278 133.9L277.1 132.8M286.1 139L287 142.8M263.5 138.2L264.8 135M257.4 128.4L258.6 126.3M272.1 152L272.3 153.2M254.1 163.2L253.5 167.1M277.6 171.7L277.2 170.7M249 162.6L247.3 163.9M294 143.4L290.6 144.2M239.7 153.1L241.5 155.7" fill="none" stroke="#60b0b0" stroke-width="0.6" opacity="0.7" stroke-linecap="round"/>
<path d="M290.5 162.2L293.4 163.8M261.4 167.5L265.4 166.8M251.6 152.6L249.6 149.9M263.6 177.1L262.1 173.7M271.9 143.5L273.7 145.9M286 157.8L285.2 156.3M268.5 163.6L264.8 162.5M255.6 160.7L255.1 162M238.2 142L239.7 139.2M287.7 128.4L290.4 128.3M275.2 141.6L278.2 143.6M294.3 161.4L294.4 159.8M268.9 164.3L268.4 162.9M246.9 128L249.7 130M263.1 155.4L262.8 158.4M276.5 169.9L276.4 171.8M265.7 124.3L265.4 121.1M269.9 161.8L269.7 163.9M250.5 145.1L253.3 142.6M275.3 153L277.1 154.6M290.6 168.2L293 169.1M259.4 153.3L258.8 155.7M279.6 175.9L280.6 175M238.4 147.3L238.7 148.7M273.8 165.4L273.2 167.5M246.4 153.1L247 154.2M267 147.4L270.3 146M252.7 147.6L250.1 146.9M297.1 155.3L299.9 153M284.5 165.2L282.8 163M254.2 164L250.6 165.1M264.4 141.6L267.6 140.3M252.4 124.1L250.1 124.9" fill="none" stroke="#60b0b0" stroke-width="0.9" opacity="0.7" stroke-linecap="round"/>
<path d="M252.3 127.2L254.8 124.1M268.1 178.3L269.1 178.7M281.6 138.5L279.7 140.1M239 152.1L239.6 154.3M253.9 135L253.3 133.8M242.7 157.3L240.6 159.7M273.8 145.7L274.8 145.8M273.5 134.1L272.8 135.7M244.2 135L243.9 136.4M267.7 176.9L271.5 177.3M253.1 145.1L254.1 146.9M255.2 134.7L256.6 132.7M264.6 173.5L262.2 170.6M268.2 140.2L267.2 139.2M251 153.6L253.5 155.6M283.4 128.3L284 124.7M290.1 128.9L288.7 128.1M289.5 145.2L290.8 148M267.4 172L266.3 171.5M254.1 136.8L253.6 134.7M262.7 128.7L259.6 127.7M263.1 138.3L264.3 137.6M247.9 136.7L251.3 137.5M269.5 126.3L270.5 125.2M266.8 161.2L263 161.7M269.1 148.6L265.8 147.4M259.3 137.9L258.8 135.7M260.1 135.2L260.8 134.2M273.7 156.8L271.5 158.7M263.7 167.7L263.9 169.2M248.7 129.6L246.8 127.2M277.8 127L281 126.8M278.4 155.5L281.4 155.9M258.9 150.5L259.5 153.3M256.6 126.1L256.2 130M264.2 148.3L264.3 149.7M248.8 158.3L249.3 161.3M247.1 155.6L245.9 154.7M266.5 155.2L269.1 157.2M292.1 165L291.2 162.2M275.9 153L272 152M241.2 135.1L242 131.8M257.2 175.7L260.6 177.3M286 158.7L288.4 156.6M258.2 176.6L257.1 172.9M283.2 169.9L283.4 168.2" fill="none" stroke="#e07a8a" stroke-width="0.6" opacity="0.7" stroke-linecap="round"/>
<path d="M278.3 177.6L277.5 181M255.8 135.5L253.2 134.5M270.7 125.8L272.3 123.5M238.9 152.1L238.9 153.6M269.9 159.7L273 160.1M245.9 144.5L246.4 142.9M289.4 156.5L285.9 156.8M292.5 134.5L292.2 133M281.5 124L281.6 122.5M294.2 144.2L291.9 141.7M277.3 129.5L277 132.4M294.2 163L295.4 160.4M241.9 134.5L243.5 135M258.3 160.8L257.2 161.6M277.4 172.4L277.7 174.7M297.9 153.3L298.7 154M284.3 124.3L281.5 126.5M257.4 136.3L258 138.9M258.1 127.8L258.4 128.9M263.2 166.7L266.1 164.3M277.2 125.1L279.4 126.6M273.3 128.9L271.3 128.6M247.1 160.9L248.7 163M255.8 168.7L252.9 169M284.5 156.9L284.6 158.9M291.1 159.9L289.5 160.1M271.8 155.9L273.9 153M264.7 156.9L267 158.4M273.4 129.6L273.8 127.9M254.8 130.3L252.9 129.1M270.5 126L272.8 125.2M265 166.7L266.6 169.2M243.6 166.6L244.7 166.3M290 132.1L289.7 133.5M257.5 126.5L254.2 125.5M288.6 127.2L285.5 124.8M245.7 152.8L244.2 150.8M256.7 134.4L258.1 130.7M287.7 166.7L286.6 163.5M265.3 145.5L264.9 143M258.5 144.1L257.1 144.1" fill="none" stroke="#d85858" stroke-width="0.6" opacity="0.7" stroke-linecap="round"/>
<path d="M257.7 125.5L259.6 126.3M244.6 152.7L244.9 154M257.6 160L259.4 163.4M253.6 155.8L254.8 155.2M284.5 167.8L285.8 171M297.5 153.2L296.4 152.2M253.7 145.5L255.4 147.7M285.9 150.7L285 152.4M246.4 136.5L247.9 139.4M248.2 142.2L249.3 144M278.2 132.9L279.6 134.1M275.4 144.4L271.9 142.9M241.4 159.5L240.1 157.9M293.3 152.6L293.5 154.2M242.4 132.6L243.9 129.6M253 165.6L251.2 163.8M264.1 159.7L262 159.2M268 125L268.8 124.1M255.2 154.4L255.5 152.8M251.4 124.7L250.5 121M243.6 166.4L243.8 165.3M270.4 144.7L271.7 145.7M280.8 155.5L277.4 154.2M297.4 151.7L299.4 152.5M261.2 136.9L262.1 139.1M273.3 144.5L272.2 145.1M258.7 155.8L256.6 158.1M259.4 120.5L257 123.1M286.7 164.5L286.7 162M246 130.2L250 129.8M269.4 134.3L269.9 137.9M269.5 137.7L271.9 138.3M251 171.9L250.9 174.4M279.8 141.3L281.4 140.5M269.2 176.9L269.7 173.5M265.3 174.1L267.4 174.7M266.3 135.5L268.6 135.2M260.5 122.2L260.8 124.9M248.2 169.7L248.6 171.8M277.5 125.1L276.1 128.7M272.4 129.2L274 128.6M247.1 159.4L244.4 157.7M293.7 134.8L293 135.5" fill="none" stroke="#80c080" stroke-width="0.9" opacity="0.7" stroke-linecap="round"/>
<path d="M283.5 173.6L285.4 172.2M267.5 134.9L265.8 133.4M272.7 137.6L275.4 138.7M281.6 176.5L281.7 177.6M290.6 130.8L290.1 129M266.5 167.3L269.7 168.3M277.6 167L276.4 166.3M250.6 171.6L249.7 168.6M258.6 130.2L256.8 132.5M264 166.7L260.7 165.6M261.3 147.4L262.2 148.1M257.2 155.5L259 157.8M287.8 137.6L287.8 138.8M252.3 136.7L254 139.4M261.5 149.8L261 151.1M279.9 129.3L276.9 128.5M262.4 160.9L259.3 159.9M270 122.5L268.5 120.4M238.6 153.5L240 153.1M256.7 121.2L255.1 122.3M259.4 135.7L262.5 135.6M285.3 169.2L284.7 168.1M280.8 131.4L279.2 131.3M281.3 157.8L281.4 156.4M283.1 155.6L284 154.5M246.2 158.5L244.8 157.8M249.5 159.8L247.6 163.1M278.1 147.5L281.6 146.1M270.2 166.3L272 165.7M256.8 173.4L257.4 171.5M273.3 173.4L273.6 171.8M284.6 136.9L283.4 136.4M249.2 166.2L250.2 169.1M264.1 121.2L262.9 121.6M251 130.2L249.1 129.6M257.6 148.7L255.6 149.5M249.5 135.7L249.2 136.9M247 165.8L248.4 163.4M295.1 145.7L294.5 147.4M244 132.2L242.2 131.4M261.8 149L260.8 145.4M285.4 165L288.9 166M273.9 178.2L274.1 179.2" fill="none" stroke="#d070d0" stroke-width="0.9" opacity="0.7" stroke-linecap="round"/>
<path d="M238.5 148.9L236.2 147.3M276.6 142.5L275.7 141.8M247.5 137.6L245.2 140.2M287.4 171.4L286.7 169.1M257.1 143.6L258.6 142.9M247 169L248.3 168.5M253 144L254.2 141.8M241.8 134L239.6 136.2M267.7 155.2L269.8 155.2M284.9 146.3L282 146.7M280 131L279.6 129.4M248.3 132.6L246.9 131.8M246.4 170.2L245.7 172.5M252 139.6L249.9 141.1M258.6 124L257.4 126.7M289.6 168.6L289.4 167.5M242.7 147.9L240.5 149M238.9 141.1L235.9 139.8M239 148.6L240.4 148.6M283.9 130.8L284 132M270.1 152.8L272.2 155.3M288.9 154.4L286.1 153M259.5 160.8L259.3 159M275.1 154.7L274 154.2M285.6 172.5L283.2 172.2M276.3 135.1L278.7 132.7M277.9 161.5L276.3 160.6M249.3 148.5L248.8 151.1M267.9 121.2L268.7 123.5M273.3 175.9L272.5 179.8M277.3 157.3L280.5 159M261.6 144.8L262.7 141.4M246.7 166.3L244.5 163.9M269.1 178.3L269.5 177.3M274.4 174.1L272.5 170.6M294.6 149.6L297.2 147.4M270 121.2L268.5 119.3M238.6 152.1L237.6 152.6M254.2 128.8L256.5 129.1M262.1 165.4L264.1 164.6M288.4 149.2L291.6 148.7M269.8 164.9L271.1 165M263.1 166L265.3 169.1M255 159.3L258 159.5M273.5 121.4L273.2 119.4M286 132.3L286.7 134.9M278 142.2L276.3 141.8M269.2 162L272.4 161.5M267.7 123.6L267.2 127M238.6 152.9L235.2 151.9M240.1 143.5L238.9 146.2M266.9 121.5L268.2 122.9M297.1 152.4L293.6 153.6M245.4 154.9L247.9 154.8M261.8 124L263.1 125.7M269.9 140.2L268.5 141.2" fill="none" stroke="#80c080" stroke-width="0.6" opacity="0.7" stroke-linecap="round"/>
<path d="M265.3 154.6L262.9 156.3M257.7 163.5L259.3 161.8M251.6 129.1L249.8 131.5M252.8 142.1L252.7 143.5M274 132.6L270.9 133.8M290.5 166.4L291.8 166.8M288 161.2L285.7 162.1M246.2 161.8L244.9 159.2M296.1 157.3L294.6 160.7M270.7 169.6L274.5 168.2M272.3 121L273.7 120.4M272.9 165.5L271.9 163.2M242.4 141.4L241.8 140M248.5 134.8L247.9 133.4M270.4 150.4L271.7 149.6M281.7 156.2L279.9 155.6M288.9 139.3L288.3 141.1M285.3 145.7L284.7 144.7M255.5 126L255.3 129.1M261.9 159.6L262.5 163.2M265.6 151.1L266.9 152.2M281.5 171.6L280 168.2M270.9 132.5L270.4 135M260.1 159.9L257.6 159.4M270.3 131.6L267.9 134.4M278.4 174.6L276.9 173.3M254.8 144.2L256.5 141.2M250.8 168.9L248.6 171.2M269.8 177.1L268.4 176M264.9 168.8L266.3 168.7M254 126.5L256.9 126.4M262.3 123.8L262.2 120M269.5 125.9L268.8 127M297.1 141.7L295.2 141.8M255 162.6L252.7 165.5M286.8 147.7L286.1 148.4M244.9 154.9L245.5 151.4M246.2 130.9L244.3 132.7M274.8 159.8L273.6 162.5M265.5 178.5L262.4 179.7M241.6 140.8L243.5 139.4M261.3 150L261.7 149" fill="none" stroke="#e8a850" stroke-width="0.9" opacity="0.7" stroke-linecap="round"/>
<path d="M255.5 123.2L255.9 121.5M286.5 160.4L286.4 162.1M266.2 144.2L265.1 141.5M289.6 154.6L288.8 150.9M257.5 131.4L258.8 132.3M254.9 172.1L254.3 169.5M243.5 167.6L240.6 169.2M254.6 148.9L257.1 149.9M261.3 159.4L262.8 160.4M293.2 153.9L292.4 156M264.2 138.7L262.8 137.8M267 131.9L265.7 130.2M287.2 128.8L285.2 128.5M273.6 135.6L275.3 138M250.5 129.8L250.6 128.3M253.5 127.9L251.3 130.5M271.7 162.5L269.1 163.7M271.6 160.5L268.8 161.7M265.2 124.3L266.2 121.1M262 134.3L263.2 132.2M272.7 132L273.7 135.3M273.3 124.8L275.1 127.2M271.8 123.6L273.1 120.4M238.6 142.3L238.9 143.5M269.7 150.2L271.2 151.1M292.7 164.7L296.6 165.6M284.3 125.9L286.7 122.9M289.7 148.1L286.4 148.3M255.4 137.9L253.9 136.2M280.2 155.7L281.2 157M246.4 160.7L243.2 158.4M277.1 157.3L277.8 159.2M287.4 137.6L284.4 137.7M287 135.8L288.6 136M256 146L257.6 148.2M283.9 131L282.9 129.5M249.7 132.4L247.4 132.3M280.7 147.2L280 148.1M280.8 160.7L279.6 158.1M237.7 146.2L239.8 147.8M279.4 154.5L279.3 157.5M264.7 177.2L267.9 175M279.5 137.2L276.8 136.3M258.8 156.9L258.2 153.4M260.1 170.5L262.5 172.6M252.5 167.4L249.1 169.1M282.7 166.2L283.7 163.7M281.8 128.6L284.9 130.6M290 137.1L290.6 135.5" fill="none" stroke="#e8a850" stroke-width="0.6" opacity="0.7" stroke-linecap="round"/>
<path d="M279.5 172.9L278.7 175.3M281.4 127.8L278.5 129M281.5 149.4L284 149.5M293.2 137.1L295.5 138.5M285.5 130.3L286.9 127.9M288.9 157.6L289.5 156.6M278.7 153.3L281.5 152.2M260 128.7L258 128.5M271.8 156.4L268 157.2M272.9 155.7L270.6 155.5M286.9 129.8L289.4 131.1M268.2 153.6L266.9 154.6M255.5 174.9L254.1 173.1M280.7 174.5L283.2 176M239.9 137.4L237.2 139M283.5 150.8L283.9 151.9M265.9 166.6L264.4 164.4M266.6 130L268.3 129.2M250.7 137.6L253.4 138.3M245.5 134.1L246 133M293.2 138.8L295.2 137.5M238.9 149.2L238.7 145.7M272 177.4L273.3 173.7M257 174.5L255.5 171.6M266.9 144L267.3 145.8M291.1 159.1L290.7 160.2M257.6 126.7L259.2 123.5M281.9 159.6L282.8 159M275 152.7L275.7 155M281.5 169.8L282.8 169.4M286.8 171.2L284.3 168.9M249.4 149.8L247.9 151.9M259.2 132.5L262.4 133.9M280.9 160.6L281.6 164.4M287.8 146.5L289.6 148.5M254 173.8L252.6 174.5M282.7 174.4L284.4 174.7M282.9 125.2L283.4 126.7M259.6 173.8L260.4 171.8M243.7 163.8L242.3 162.9M254.4 134.9L252.8 132.9" fill="none" stroke="#e07a8a" stroke-width="0.9" opacity="0.7" stroke-linecap="round"/>
<path d="M248.4 126.1L251.7 124.5M272.5 130.8L275.7 132.5M277.8 151.4L279.6 150.5M267.2 141.5L267.3 139.9M256.6 151.9L256.5 150.9M284.5 138.4L282 136.8M250 131.1L250.9 130.2M254.5 138.5L254.2 136.1M270.6 137.6L272.4 137.9M273 121.4L273 120.2M245.9 154.8L242.5 155.3M253.8 161L252.7 158.9M291 132.7L290.1 132M245 162.4L245.8 160.8M254.9 138.8L253.1 139.8M265.2 120.3L267.1 121.4M260.9 144.2L260.1 145.4M255.6 144.9L254.6 146M286.5 171L285.4 171M239.6 152L236.8 150.4M261.1 140.5L261.7 139.4M273.4 153.7L274.1 156.8M280.5 149.1L279.3 147.7M284.1 136L283.1 138.1M290.1 168.4L286.8 169.4M295.9 143.8L293.9 144.4M267.4 119.6L267.1 118.4M274.4 157.1L273.3 156.9M261 125.4L260.5 127.6M281.3 170L280.6 171.7M272.6 157.2L276.3 158.4M256.7 174.6L257.4 173.2M274.3 130.5L273.3 128M272.5 127.2L274.8 127.4M296.7 141.9L298.6 145M274 133.9L276.6 133.7M265.5 131.6L266 132.9M291.8 144.6L289.9 144.2M274 171.7L272.6 170.5M249.2 151.4L250.3 149.7M269.5 156.5L273.2 156.2M255.8 160.7L254.3 159.4" fill="none" stroke="#e0b0c0" stroke-width="0.6" opacity="0.7" stroke-linecap="round"/>
<path d="M286 149.6L283.4 149.2M254 146L252.3 145.1M255.8 152.2L256.8 149.5M292.2 145.4L291.2 147.1M288.7 170.9L289 169.8M262.3 146.8L262.6 144.6M283.7 130.8L283.4 129.6M241.9 139.1L241.8 140.7M277.8 129.9L276.8 128.3M279.7 155.2L278.1 154.3M295.3 157.9L296.3 157M288.2 162.5L288.9 164.7M280.5 154.6L282.5 155.8M252 168.5L250.3 171.6M262.7 164L263.6 163.1M243.3 158.1L244.8 156.3M254.6 152.5L255.3 149.4M281.1 169.7L282.6 169M266.5 149.4L269 146.7M287.7 136.1L285.9 134.2M266.2 176.1L265.5 177.1M249 141.5L252.1 140.1M283.7 153.8L284.1 150.7M270.6 152L272.9 152.5M284.9 138.6L287.7 140.6M245.4 141.6L247.6 144.2M259.2 141.7L259.2 144.3" fill="none" stroke="#7aa0e0" stroke-width="0.9" opacity="0.7" stroke-linecap="round"/>
<path d="M249.4 127.6L247.9 128.6M256.3 122.4L255.2 126.1M245.2 169.4L245 167.1M290.3 167.8L290.9 169.8M269.8 157.2L269.8 158.5M273 127L274 125.8M291.7 154.5L294.2 153.1M261.2 178.9L262.2 179.3M253.6 166.3L255.7 164.6M262.1 154.4L260.4 156.5M257.3 153.8L256 150.7M270.7 148.8L272.6 151.4M269.3 170.8L268.2 167.8M267.8 137.3L270.1 137.3M265.3 149.6L267 151.8M249.9 172.8L253.5 172.4M243.9 158.5L244.7 155M268.1 134.1L269.3 133.8M247 134.6L249.8 136.1M269.9 157.8L266.1 158.6M241.1 158.1L239.8 158.6M248.3 160L249.4 157.2M247.4 171.2L248.9 168.6M250.2 162.7L252.9 163.6M259.5 129.9L259.7 128.6M260.3 165.6L260.2 163.5M250.7 127.2L249.9 128.5M241.1 153.7L241.1 154.9M252.6 167.5L251.8 170.6M288 166.2L285.8 166M246.8 164.1L243.7 164.5M249.3 150.7L250.2 150.1M277.9 159.1L281.7 158.9M283.8 174.5L284 171.2M276.7 163.2L275.7 166.3M254 145.9L252.1 143.9M244 142.7L241.1 140.6M297.4 147.5L300.7 146.3M271.6 147.7L272 146.5" fill="none" stroke="#d070d0" stroke-width="0.6" opacity="0.7" stroke-linecap="round"/>
<path d="M293.7 158.8L291.5 157.3M254.9 133.3L254.7 136.4M243.5 147.4L241.3 147.1M274.3 150.1L274.7 148.9M254.6 166.2L252.8 166.2M284.5 170.8L285.9 170.4M297.1 157.7L298.5 156.1M275.8 147.7L275 144.3M244.3 167.3L243.4 168.8M257.2 126.8L258 126.2M268.1 177.4L269.2 176.6M258.1 152.6L255.5 153.5M240.9 151.3L244.6 151.5M272.7 139.8L270.1 139.6M271.2 148.2L273.7 148.1M254.8 129.5L255.2 132.4M258.8 145.9L260.5 148.2M260 170.4L259.9 172.2M248.5 161.7L250.1 162.1M255.3 166.4L255.3 164.9M269.9 140.3L267 138.6M271.2 174.1L269.3 170.9M239.8 159.6L238.7 162.5M294.3 144.5L295.8 144.1M260.1 132.6L257.2 135.2M268.1 133.3L267.6 131.2M244.5 167.5L242.5 169M288.5 165.4L287.5 165.9M270 121.5L269.7 123.2M291.4 157.1L291.5 158.1M286.1 158.6L287.6 159.6M284.6 170.9L284.3 167.3M279.3 147.1L281.2 148M272.6 123.8L271.7 122.9M247 167.2L244.7 170M289.3 166.4L289.7 165.4M286.8 145.3L286.6 143.3M259.4 132L256.8 130.4M254.3 133.1L254.2 136M285.6 159.3L287.7 160.7M250.9 164.2L251.1 162.3M270.1 163.3L268.1 163.8M293.9 153.7L292.7 154.6M284.5 148.8L283.7 146.1M257.8 164.9L255.3 164.8" fill="none" stroke="#f08a50" stroke-width="0.9" opacity="0.7" stroke-linecap="round"/>
<path d="M268.4 156.6L271 156.9M286.6 164.8L282.6 165M261.5 161L263.1 163.6M248.4 152.3L250.5 153.5M282.2 142L285.3 140.9M283.2 172.5L286.5 171.1M245 135.6L246.6 137.2M257.9 129.5L255.8 130.9M258.3 124.7L259.3 126.4M295.9 153.3L296.9 155.1M255.2 170.4L251.9 172.2M281.3 146.6L281.9 150.1M252.7 132.6L249.3 131.9M279.2 127.2L281 124.4M271 122.7L274 124.6M260.3 177.1L259.4 175.7M279.7 162.5L280.7 162M289.5 152.5L290.5 150.8M250.4 144.1L251.9 145M268.1 146.8L271 147.6M290.4 136.2L293.4 134.4M285.8 139.5L285.7 141.7M253.1 165.7L255.7 163.1M293 144.1L296.6 145.3M296.2 143.4L295.2 147.2M253.4 135.2L253.4 138.2M294.9 152.2L292.5 155M258 153.4L260.5 152.6M294.8 140.9L291.3 141.1M255.5 156L256.2 158.4M268.1 134.4L266.6 131M241 161.5L240.4 159.3M262.3 123.8L263.6 125.2M278.6 127.1L281.1 128.5M280.4 163L283.5 163.5M251.2 171.2L251 173.2M254.3 135.2L251.7 135.2M248.4 150.3L246.1 150.3" fill="none" stroke="#7aa0e0" stroke-width="0.6" opacity="0.7" stroke-linecap="round"/>
<path d="M276.3 159.9L274.5 157.6M258.2 148.1L256.6 148.6M271 137.2L272.3 137M277 163.9L275.1 163.9M254.7 160.3L256.5 163.4M269.8 134.7L268.1 134.5M279.3 157L276.6 157.2M292.7 155.1L291.8 154.6M261.8 122L263 118.4M280.5 129.2L280.9 131.3M253 128.9L251.6 131.7M247.5 127.8L248.9 125.5M290.1 138.1L289.5 138.9M290.1 162.3L289.9 165.2M267.5 147.7L269.6 145.1M297.3 144.5L300.3 146.2M263.6 138.4L261.7 140.4M266.7 143L265.4 144.7M256.4 164.5L258.4 166.5M261.2 174.1L259.5 172.7M274 148.6L274.2 147.1M250.8 171.6L252.8 172M268 120.5L268 119.4M282.7 129.3L281.2 130M261.1 166.3L264.5 165.8M245.2 140.7L242.5 137.8M261.6 150.7L260.4 150.5M286.8 142.4L284.3 140.9M271.6 134.4L269.7 131.4M242.1 134.7L240.1 134.1M238.4 154.4L239.6 151.3M277.8 125.9L277.1 127.3M294.4 151L295.5 151.3M289.6 165.5L290.2 163.9M255.1 132.8L254 132.5M246.4 162.1L244.2 164.2M283.6 170.7L281.9 171.7M267.2 147.4L267.5 146.1M284.5 146L283.7 143.6M279.4 167.6L281.4 169M282.4 157.8L280.8 161.2M244.8 142.4L246.4 139.8M271 168.7L273.4 167.9M260.6 134.6L258.9 135.3M257 157.2L257.7 154.3M295.1 143.4L293.7 144.7M288.5 139.3L289.4 136.5M245.8 154.9L248.7 154.4" fill="none" stroke="#e0b0c0" stroke-width="0.9" opacity="0.7" stroke-linecap="round"/>
<path d="M287.1 131.1L288.4 132.1M255.2 136.2L258.5 134.6M244.7 156L241.7 155.6M264.4 150.5L261.1 148.3M252.9 166.7L253.5 163.2M253.4 161.2L254.2 162.7M275.7 167.8L276.2 170.5M281.1 145.8L284.1 143.3M280.8 121.9L279.1 120M271.1 153.2L272.1 151.6M246.7 143.5L250.3 142.8M251 166.4L251.2 168.5M259 157.3L261.5 154.9M291.2 139.2L289.2 140.4M259.2 135L257 134.9M263.5 152.8L264.5 154.3M286 142.1L289.3 142.8M278.8 175.9L277 173M262 171.1L259.9 170.4M275.8 141.7L274.4 140.5M247.4 146.7L249.8 145.5M245.5 152.8L246.6 154.1M268 121.4L265.7 123.4M277.3 130.6L278.3 131.8M259.6 152.7L258.5 149.7M262.1 139.2L264.8 139.2M253.5 138.8L252.1 138.7M296.9 140.5L294.8 138.5M273.3 155L275.5 157.1M276.3 143.3L276.5 146.9M270.3 164.1L271.6 165.2M281.5 123.7L281.7 124.8M294.1 155.6L294.7 157.5M282.3 173.2L283.9 170.6M264 156.5L265.3 157.9" fill="none" stroke="#a080e0" stroke-width="0.6" opacity="0.7" stroke-linecap="round"/>
<path d="M275,150 l6,3 l-2,4 l-5,-2z" fill="#c060e0" opacity="0.8"/>
<path d="M273,144 l3,4" stroke="#d03070" stroke-width="1.2"/>
<circle cx="267.8" cy="149.3" r="31.5" fill="none" stroke="#c8282c" stroke-width="2"/>
<line x1="231" y1="170.5" x2="300" y2="170.5" stroke="#111" stroke-width="1.15"/>
<line x1="263" y1="100" x2="226" y2="167" stroke="#111" stroke-width="1.15"/>
<line x1="230" y1="121" x2="298" y2="111" stroke="#111" stroke-width="1.15"/>
<line x1="305" y1="128" x2="278" y2="196" stroke="#111" stroke-width="1.15"/>
<line x1="242" y1="123" x2="281" y2="196" stroke="#111" stroke-width="1.15"/>
<line x1="264.5" y1="101" x2="264.5" y2="188" stroke="#111" stroke-width="1.15"/>
<line x1="299" y1="114" x2="230" y2="167" stroke="#111" stroke-width="1.15"/>
<line x1="268" y1="94" x2="303" y2="171" stroke="#111" stroke-width="1.15"/>
<line x1="238" y1="125" x2="308" y2="173" stroke="#111" stroke-width="1.15"/>
<circle cx="267" cy="93" r="2.1" fill="#8fa88a"/>
<circle cx="270.2" cy="100.2" r="2.1" fill="#8fa88a"/>
<circle cx="263.8" cy="105.8" r="2.1" fill="#8fa88a"/>
<circle cx="270.2" cy="105.8" r="2.1" fill="#8fa88a"/>
<circle cx="236.6" cy="112.2" r="2.1" fill="#a88a72"/>
<circle cx="232.9" cy="116.5" r="2.1" fill="#a88a72"/>
<circle cx="240.6" cy="115.4" r="2.1" fill="#a88a72"/>
<circle cx="226.2" cy="125" r="2.1" fill="#a88a72"/>
<circle cx="233.9" cy="123.8" r="2.1" fill="#a88a72"/>
<circle cx="241.4" cy="123.4" r="2.1" fill="#a88a72"/>
<circle cx="230.2" cy="128.2" r="2.1" fill="#a88a72"/>
<circle cx="238.2" cy="127.8" r="2.1" fill="#a88a72"/>
<circle cx="234.5" cy="132.2" r="2.1" fill="#a88a72"/>
<circle cx="298.1" cy="108.7" r="2.2" fill="#111"/>
<circle cx="304.5" cy="111.4" r="2.2" fill="#111"/>
<circle cx="294.1" cy="112.5" r="2.2" fill="#111"/>
<circle cx="300.5" cy="115.4" r="2.2" fill="#111"/>
<circle cx="290.1" cy="116.7" r="2.2" fill="#111"/>
<circle cx="310.1" cy="117" r="2.2" fill="#111"/>
<circle cx="296.5" cy="119.4" r="2.2" fill="#111"/>
<circle cx="306.1" cy="121.5" r="2.2" fill="#111"/>
<circle cx="292.5" cy="123.4" r="2.2" fill="#111"/>
<circle cx="302.1" cy="125" r="2.2" fill="#111"/>
<circle cx="310.4" cy="125.8" r="2.2" fill="#111"/>
<circle cx="298.1" cy="128.5" r="2.2" fill="#111"/>
<circle cx="306.1" cy="129.8" r="2.2" fill="#111"/>
<circle cx="231.5" cy="164" r="2.1" fill="#a080a8"/>
<circle cx="231.5" cy="169.9" r="2.1" fill="#a080a8"/>
<circle cx="298" cy="170.4" r="2.1" fill="#a8a070"/>
<circle cx="301.3" cy="164.8" r="2.1" fill="#a8a070"/>
<circle cx="304.5" cy="173.6" r="2.1" fill="#a8a070"/>
<circle cx="307" cy="168" r="2.1" fill="#a8a070"/>
<circle cx="311" cy="173.6" r="2.1" fill="#a8a070"/>
<circle cx="266.2" cy="188" r="2.1" fill="#7888a0"/>
<circle cx="274.5" cy="188" r="2.1" fill="#7888a0"/>
<circle cx="266.2" cy="191.5" r="2.1" fill="#7888a0"/>
<circle cx="274.5" cy="191.5" r="2.1" fill="#7888a0"/>
<circle cx="280.5" cy="191" r="2.1" fill="#7888a0"/>
<circle cx="266.2" cy="197" r="2.1" fill="#7888a0"/>
<circle cx="274.5" cy="197" r="2.1" fill="#7888a0"/>
<circle cx="280.5" cy="197" r="2.1" fill="#7888a0"/>
<circle cx="260" cy="188" r="2.1" fill="#7888a0"/>
<circle cx="266.2" cy="202.7" r="2.1" fill="#7888a0"/>
<circle cx="274.5" cy="202.7" r="2.1" fill="#7888a0"/>
<circle cx="260" cy="200" r="2.1" fill="#7888a0"/>
<circle cx="263.3" cy="99.7" r="2.5" fill="#888" stroke="#111" stroke-width="1.4"/>
<circle cx="229.7" cy="121" r="2.5" fill="#888" stroke="#111" stroke-width="1.4"/>
<circle cx="225.4" cy="167.2" r="2.5" fill="#888" stroke="#111" stroke-width="1.4"/>
<circle cx="260" cy="194.4" r="2.5" fill="#888" stroke="#111" stroke-width="1.4"/>
<rect x="328" y="170" width="120" height="26" fill="url(#hg)" mask="url(#mv)" opacity="0.6"/>
<clipPath id="gbc"><path d="M340.8,152.7 C340.8,148.5 342.0,144.8 343.2,140.8 C344.4,136.8 345.8,132.4 348.0,128.8 C350.2,125.2 353.4,121.8 356.4,119.2 C359.4,116.6 362.4,114.8 366.0,113.2 C369.6,111.6 373.6,110.6 378.0,109.6 C382.4,108.6 386.1,107.5 392.3,107.2 C398.5,106.9 408.2,106.4 415.0,107.5 C421.8,108.6 427.5,111.2 433.2,113.7 C438.9,116.2 445.6,119.0 449.2,122.8 C452.8,126.6 454.2,132.8 455.0,136.6 C455.8,140.4 455.9,143.0 453.8,145.7 C451.7,148.3 445.4,150.6 442.4,152.5 C439.3,154.4 437.0,154.8 435.5,157.1 C434.0,159.4 435.5,163.6 433.2,166.3 C430.9,169.0 426.8,171.6 421.8,173.1 C416.9,174.6 407.6,174.4 403.5,175.4 C399.4,176.4 399.7,178.1 397.1,179.1 C394.5,180.1 389.6,180.0 388.0,181.5 C386.4,183.0 387.9,185.7 387.5,188.0 C387.1,190.3 386.6,194.0 385.5,195.5 C384.4,197.0 382.2,197.2 381.0,196.8 C379.8,196.4 378.4,194.9 378.0,193.0 C377.6,191.1 379.7,187.2 378.5,185.5 C377.3,183.8 374.2,184.0 370.8,183.0 C367.4,182.0 361.6,181.0 358.0,179.5 C354.4,178.0 351.4,176.2 349.0,174.0 C346.6,171.8 344.9,169.6 343.5,166.0 C342.1,162.4 340.9,156.9 340.8,152.7Z"/></clipPath>
<path d="M340.8,152.7 C340.8,148.5 342.0,144.8 343.2,140.8 C344.4,136.8 345.8,132.4 348.0,128.8 C350.2,125.2 353.4,121.8 356.4,119.2 C359.4,116.6 362.4,114.8 366.0,113.2 C369.6,111.6 373.6,110.6 378.0,109.6 C382.4,108.6 386.1,107.5 392.3,107.2 C398.5,106.9 408.2,106.4 415.0,107.5 C421.8,108.6 427.5,111.2 433.2,113.7 C438.9,116.2 445.6,119.0 449.2,122.8 C452.8,126.6 454.2,132.8 455.0,136.6 C455.8,140.4 455.9,143.0 453.8,145.7 C451.7,148.3 445.4,150.6 442.4,152.5 C439.3,154.4 437.0,154.8 435.5,157.1 C434.0,159.4 435.5,163.6 433.2,166.3 C430.9,169.0 426.8,171.6 421.8,173.1 C416.9,174.6 407.6,174.4 403.5,175.4 C399.4,176.4 399.7,178.1 397.1,179.1 C394.5,180.1 389.6,180.0 388.0,181.5 C386.4,183.0 387.9,185.7 387.5,188.0 C387.1,190.3 386.6,194.0 385.5,195.5 C384.4,197.0 382.2,197.2 381.0,196.8 C379.8,196.4 378.4,194.9 378.0,193.0 C377.6,191.1 379.7,187.2 378.5,185.5 C377.3,183.8 374.2,184.0 370.8,183.0 C367.4,182.0 361.6,181.0 358.0,179.5 C354.4,178.0 351.4,176.2 349.0,174.0 C346.6,171.8 344.9,169.6 343.5,166.0 C342.1,162.4 340.9,156.9 340.8,152.7Z" fill="#c4c4c4"/>
<g clip-path="url(#gbc)">
<path d="M462 113.6L463.7 134.6M421.3 147L423.2 145.3M354.8 164.5L350 171.8M373.6 177.8L374 181.6M384.3 118.9L385.4 113.5M384.3 118.9L373.9 122M358 197.9L359.3 193.8M391.3 105.5L393.5 104.5M345.8 141.7L339 144M357.2 161.7L366.3 165.7M389 146.7L396.3 151.3M414 109.4L410.6 114.4M414 109.4L419.9 101.4M416.5 153.7L414.6 153.3M448 144.8L446.1 148.5M422.1 109.7L415.5 115M380.2 169.5L382.6 176.4M345.5 178.7L342.8 178.9M415.4 125.2L416.3 124.1M463.7 134.6L462.9 102.9M337.6 131.3L338.1 127.7M340.6 122.6L338.1 119.3M340.6 122.6L349.3 123.9M451.5 143L447.8 142.5M451.5 143L451.9 146.7M401.2 178.5L407.7 179M373.8 144.9L366 149.1M380.1 203.4L363.8 198.3M380.1 203.4L386.9 199.5M366 149.1L359.7 152.7M366 149.1L362 146.8M351.5 180.1L355.4 176.4M457.7 194.6L453.3 204.8M341.2 190.9L336.5 186.8M407.7 179L402.7 182.7M422.9 114.4L417.7 120.2M414.3 188.8L411 194.2M453.6 120.3L448.2 122.1M409.5 201.2L411 194.2M433.3 171.3L430.2 182.3M454.3 136.1L453.7 135M418.9 202L416.9 203.4M428.4 123.3L428 130.8M348.5 138.4L351.6 139.1M416.1 135.9L419.2 134.8M414.1 127.5L412.4 124.6M400.7 113.7L399.8 115.6M337.8 169.8L340.5 166.1M376.4 109L368.9 110M399.3 193.2L396.6 196.1M340.7 150.3L340.1 156M356.9 152.8L354.3 148.5M340.6 110.9L332.6 110.3M414.4 184.6L417.9 174.7M392.5 128.4L401.3 128.4M335.9 113.3L336.4 119M364.2 196.2L359.3 193.8M421.1 128.3L416.3 124.1M447.8 142.5L453.5 140.7M398 197.8L397 197.6M354.7 154.4L347.4 162.9M405 121.9L401.9 126.8M375.1 195L368.2 196.3M375.1 195L381 192.4M331 160.6L335 159.4M400.1 154.3L404.5 157.8M452.7 124.7L455.8 121.2M420.3 147.1L418.7 145.2M342.2 164.3L340.5 166.1M399.9 201.5L407.7 195.6M443.8 147L444.5 147.2M446.6 156.3L447.1 159.6M453.3 204.8L460.6 192.3M453.3 204.8L451.9 198.9M440.6 153.8L435.6 158.1M420.9 178.5L421.4 173.2M340.5 166.1L339.8 158.4M411.7 174.6L410 171.3M412.4 124.6L403.2 131M352.3 139.1L351.6 139.1M443 102.7L443.2 101.7M353.7 147.2L354.3 148.5M379.9 182.8L382.6 176.4M391.7 178.4L402.3 171.3M412.3 116L415.2 117.8M374.3 190.7L381 192.4M354.3 198.4L354.4 195.9M386.9 199.5L390.9 197.9M365.1 105.8L362.6 111.1M391.7 168.5L402.3 171.3M422.3 137.4L430.7 137.4M442.9 124.4L444.3 131.1M334.7 145.8L332.1 143.9M404.5 157.8L402.8 151.1M396.6 196.1L397 197.6M384 124.4L373.9 122M390 156.6L385.8 153.5M454.1 182.7L455.9 191.1M454.1 182.7L459 178.1M457.9 133.9L462.7 132.9M412.5 163.2L415.7 165.4M340.1 156L337.9 157.9M401.4 148.2L398 151.9M456.3 135.7L461.8 139.6" fill="none" stroke="#666" stroke-width="0.5" opacity="0.8" />
<path d="M462 113.6L462.7 132.9M438.8 163.5L440.4 174.1M371.3 100.7L373.1 101M438.9 156.7L441.3 157.2M389.8 109.8L385.4 113.5M389.8 109.8L390.7 114.5M345.8 141.7L347.3 146.5M444.8 192L448.8 187.8M355.3 191.9L348.5 190.8M414 109.4L422.1 109.7M389.9 144.9L388.5 140.9M396.8 141.5L397.3 138.4M448.8 187.8L445.8 179.7M448.8 187.8L440.4 190.1M460.2 136L461.8 139.6M427.7 108.8L432.9 106.8M385.4 113.5L390.7 114.5M368.8 191.5L362.5 183.6M397.5 101.7L393.5 104.5M422.1 109.7L425.7 110.6M371.9 121.3L373.5 121.6M422.6 147.7L424.1 153.1M422.6 147.7L422 148.7M360.5 132.4L366.9 124.8M360.5 132.4L350.9 138.3M419.3 159.9L424.1 153.1M414.6 153.3L415.5 158.9M337.6 131.3L349.9 127.4M451.5 143L451.2 145.6M451.5 143L453.5 140.7M342.5 116L338.1 119.3M401.2 178.5L402.7 182.7M373.9 190.4L374.3 190.7M384.4 176.3L391.7 178.4M384.4 176.3L391.7 168.5M439.2 158.3L435.6 158.1M381.8 165L374.5 166M373.1 101L372.5 105.8M415.4 139L409.3 146.1M415.4 139L421.3 143.3M341.2 190.9L345.6 197.4M407.7 179L409.5 172.7M409.5 172.7L411.7 174.6M374 181.6L371 179.8M423.8 130.7L419.2 134.8M432.3 184.2L426.9 185.7M368.5 151.6L370.1 152.4M391.4 193.7L390.9 197.9M428.4 123.3L424.7 122.3M428.4 123.3L435.3 126.3M437.7 127.6L436 121.8M376.2 176.6L374.5 166M417.4 129.6L416.1 135.9M399.2 200.2L399.9 201.5M416.1 135.9L416.7 138M400.7 113.7L393.3 109.3M421.9 151.9L424.1 153.1M361.1 154.4L359.7 152.7M399.3 193.2L407.9 194M434.4 102.1L435.1 108.9M356.9 152.8L359.7 152.7M392.2 201.5L386.9 199.5M392.5 128.4L401.9 126.8M376.5 161.1L374.4 161.1M335.9 113.3L332.6 110.3M401.1 151.3L398 151.9M398 197.8L407.7 195.6M444.9 156.2L447.1 159.6M375.1 195L374.3 190.7M457.4 160.8L446.6 156.3M350 171.8L341.6 168.3M386.8 105.6L384.2 110.2M400.1 154.3L398 151.9M349.9 127.4L349.3 123.9M345.4 152.1L343.1 158.9M335 159.4L337.9 157.9M420.9 195.5L417.9 197M390.1 160.9L386.6 160.9M436.4 198.3L435.8 197M385.2 152.9L385.8 153.5M426.9 204.9L453.3 204.8M409.3 146.1L401.4 148.2M342.2 164.3L343.1 158.9M443.8 147L446.1 148.5M412.1 161.7L404.8 162M350.9 138.3L346.9 136.5M410.6 114.4L412.3 116M416.9 203.4L410.8 203.5M433.9 127.8L435.3 126.3M407.3 102.4L408.9 111.9M446.8 120.2L456.8 113.3M390.1 118.9L390.7 114.5M370.9 114.2L361.9 118.8M401.5 163.6L391.7 168.5M401.5 163.6L404.8 162M335.4 197.3L333.1 189M431.8 197.5L431.5 199.3M445.8 179.7L454.1 182.7M334.7 145.8L331.2 150.2M359.3 145.2L354.3 148.5M432.7 160.3L424 167.3M457.9 133.9L456.3 135.7M455.9 191.1L460.6 192.3M412.5 163.2L413.6 160.3M453.5 140.7L456.3 135.7" fill="none" stroke="#111" stroke-width="0.5" opacity="0.8" />
<path d="M462 113.6L462.9 102.9M447.9 121.2L446.8 120.2M373.6 177.8L374.5 166M389.8 109.8L386.8 105.6M389.8 109.8L393.3 109.3M358 197.9L354.3 198.4M457.4 165.7L457.1 169.4M389 146.7L381.4 147M414 109.4L408.9 111.9M396.8 141.5L393.3 142.3M368.8 191.5L375.1 195M368.8 191.5L366.1 195.8M397.5 101.7L407.3 102.4M367.1 156.3L368.5 151.6M397.1 192L393.4 193.3M397.1 192L399.8 186.2M397.1 192L396.6 196.1M419.3 159.9L421.9 151.9M382 204.9L358.3 203.2M382 204.9L386.9 199.5M397.3 131.4L394.5 137.4M340.4 176.9L337.3 178.2M351.5 180.1L345.8 178.5M457.7 194.6L460.6 192.3M359.8 121.9L363.3 120.7M397.2 145.7L393.3 142.3M417.6 162.8L418.4 168M423.8 130.7L428 130.8M423.8 130.7L422.3 137.4M422.9 114.4L417 118.5M422.9 114.4L425.7 110.6M432.3 184.2L425.8 191.4M349.8 143.5L348.5 138.4M409.5 201.2L407.7 195.6M385.8 167.5L391.7 168.5M437.7 127.6L433.9 127.8M417.4 129.6L421.1 128.3M361.8 126L358.2 125.1M363.3 120.7L361.2 124M399.3 193.2L407.7 195.6M380.8 131.9L379.3 136.7M360.3 180.3L355.4 176.4M414.4 184.6L410.5 185.6M354 121.4L353.6 112.6M345.6 197.4L343.2 200.6M447.4 168.9L444.1 176.4M345.8 178.5L350 171.8M336.4 128.2L335.9 131.9M370.2 164L366.3 165.7M425.8 191.4L420.9 195.5M390.1 160.9L391.7 168.5M350.1 202.9L354.3 198.4M390 192L386.9 199.5M350.9 138.3L351.6 139.1M440.6 153.8L446.1 148.5M370.1 152.4L374.7 156.2M340.5 166.1L341.6 168.3M438.9 147.7L441.8 141.8M383.7 181.9L391.3 190M435.6 158.1L432.7 160.3M458.5 189.5L456.2 183.5M458.5 189.5L461.5 187.7M412.4 124.6L401.9 126.8M435.1 108.9L440.6 108.9M379.7 154L374.7 156.2M398.4 116.6L393.6 116.5M404.8 165.9L412.5 163.2M365.1 105.8L372.5 105.8M390.7 114.5L393.6 116.5M414.8 172.8L418.4 168M335.4 197.3L333.3 201M402.7 114L408.9 111.9M363.6 171.4L356 171.6M406.5 102.9L408.9 111.9M384 124.4L385.2 127.1M418.4 168L415.7 165.4M408.3 155.7L413.6 160.3M426.2 156.9L424 167.3M455.9 191.1L456.2 183.5M453.5 140.7L461.8 139.6M340.1 156L343.1 158.9M425.8 140.2L421.3 143.3M445.7 106L444.1 106.1" fill="none" stroke="#666" stroke-width="0.6" opacity="0.8" />
<path d="M462 113.6L456.8 113.3M438.8 163.5L439.2 158.3M438.8 163.5L447.1 159.6M423.8 102.1L423.9 100.8M423.8 102.1L419.9 101.4M384.3 118.9L390.1 118.9M357.2 161.7L361.1 154.4M388.8 136.4L389.5 134M391.3 138L389.5 134M339 144L337.6 131.3M369.4 112.3L370.9 114.2M389 146.7L390 156.6M437.4 131.9L442.6 134.8M346 106.6L346.8 108.3M460.2 136L456.3 135.7M427.7 108.8L432.5 114.1M427.7 108.8L428.1 106.9M434.6 161.9L433.3 171.3M353.4 126.7L349.9 127.4M397.5 101.7L423.9 100.8M448 144.8L451.5 143M422.1 109.7L428.1 106.9M360.5 132.4L361.8 126M432.6 198.3L436.4 198.3M419.3 159.9L426.2 156.9M414.6 153.3L409.3 146.1M414.6 153.3L415.9 153.2M382 204.9L380.1 203.4M419.3 185.4L414.4 184.6M397.3 131.4L392.5 128.4M340.4 176.9L342.8 178.9M373.8 144.9L368.5 139.2M373.8 144.9L376.4 142.9M373.9 190.4L375.1 195M384.4 176.3L382.6 176.4M366.9 124.8L361.2 124M366.9 124.8L362.4 135.8M394.5 137.4L389.5 134M341.2 190.9L341.7 197.1M409.5 172.7L402.3 171.3M415.1 168L415.7 165.4M397.2 145.7L396.3 151.3M417.6 162.8L413.6 160.3M393.4 193.3L391.3 190M409.5 201.2L410.8 203.5M371 179.8L360.3 180.3M399.2 200.2L398 197.8M416.1 135.9L414.1 127.5M397.3 138.4L395.7 138M397.3 138.4L399.7 131M399.8 186.2L402.7 182.7M400.7 113.7L398.4 116.6M361.1 154.4L356.9 152.8M394.3 104.7L396.7 107.7M377.2 151L375.1 154.6M377.2 151L381.4 147M399.8 115.6L402.7 114M380.8 131.9L384 124.4M380.8 131.9L384.2 130.1M436 121.8L442.2 119.7M461.1 172.4L463.8 180.5M355.7 158.7L354.7 154.4M416.7 138L422.3 137.4M340.6 110.9L335.9 113.3M340.6 110.9L342.3 111.5M355.4 176.4L359.1 176.1M335.9 113.3L339.6 112.4M385.4 159.4L386.6 160.9M392.3 121.8L401.9 126.8M392.3 121.8L393.6 116.5M421.1 128.3L424.7 122.3M395.7 138L393.3 142.3M348.4 181L342.8 178.9M384.5 192L386.9 199.5M398 197.8L396.6 196.1M367.5 108.9L372.5 105.8M354.7 154.4L345.4 152.1M336.4 128.2L330.3 122.6M336.4 128.2L338.1 127.7M400.1 154.3L402.8 151.1M349.9 127.4L346.9 136.5M441.4 191.9L440.4 190.1M423.9 100.8L419.9 101.4M399.9 201.5L388.7 204.5M447.7 102L462.9 102.9M424.7 122.3L427.9 118.2M390 192L391.3 190M350.9 138.3L352.3 139.1M453.3 204.8L444.5 203.5M441.3 182.7L437.7 186.8M421.4 173.2L425.7 178.4M421.4 173.2L426.6 175M407.3 102.4L404.6 103.2M406.5 190.9L407.9 194M383.7 181.9L382.6 176.4M446.9 200.9L447.1 201.4M443 102.7L444.1 106.1M335.9 131.9L332.1 143.9M404.8 162L404.5 157.8M414.1 187.1L410.5 185.6M449.3 134.7L444.2 133.6M446.1 148.5L444.5 147.2M339.8 158.4L337.9 157.9M425.8 140.2L430.7 137.4M445.7 106L456.8 113.3M376.4 142.9L381.4 147M347.3 146.5L354.3 148.5M460.6 192.3L461.5 187.7" fill="none" stroke="#444" stroke-width="0.8" opacity="0.8" />
<path d="M462 113.6L455.8 121.2M354.8 164.5L355.7 158.7M447.9 121.2L453.6 120.3M454.2 171.2L444.1 176.4M438.9 156.7L439.2 158.3M330.9 195.4L330.2 125M388.8 136.4L391.3 138M355.3 191.9L361 181.8M355.3 191.9L353.6 181.6M437.4 131.9L433.9 127.8M414 109.4L407.3 102.4M361.3 173.6L364.8 172.4M416.5 153.7L416.6 158.5M416.6 158.5L414.6 153.3M427.7 108.8L433.2 113.7M448 144.8L451.2 145.6M428.3 173.3L424 167.3M416 204.2L388.7 204.5M371.9 121.3L375.5 115.7M371.9 121.3L373.9 122M380.2 169.5L384.4 176.3M345.5 178.7L345.8 178.5M382 204.9L355.4 203.3M380.1 203.4L358.3 203.2M366.9 124.8L373.7 128.8M397.4 160.1L390.1 160.9M397.4 160.1L396 157.1M359.8 121.9L361.9 118.8M415.1 168L410 171.3M422.9 114.4L415.5 115M432.3 184.2L437.7 186.8M414.3 188.8L414.1 187.1M368.5 151.6L361.1 154.4M371 179.8L371.1 186.1M454.3 136.1L449.3 134.7M428.4 123.3L436 121.8M398.6 144.9L401.4 148.2M397.3 138.4L403 131.2M399.8 186.2L401.4 188.8M335.7 144.2L334.7 145.8M453.1 125.6L446.4 125.5M446.2 139.2L441.8 141.8M394.3 104.7L393.5 104.5M458.7 166.3L461.1 172.4M340.7 150.3L334.7 145.8M376.5 161.1L374.7 156.2M355.4 176.4L353.6 181.6M401.1 151.3L400.1 154.3M392.3 121.8L385.2 127.1M446.4 125.5L452.7 124.7M463.2 152.3L458.7 146.4M408.9 189.1L406.5 190.9M408.9 189.1L407.9 194M336.4 119L338.1 119.3M415.5 115L415.2 117.8M345.8 178.5L341.6 168.3M375.1 154.6L370.1 152.4M457.4 160.8L450.4 168.1M331 160.6L330.2 125M345.4 152.1L340.1 156M335 159.4L340.5 166.1M420.3 147.1L415.9 153.2M451.9 146.7L446.1 148.5M379.3 136.7L373.7 128.8M460.7 144.6L461.8 139.6M359.1 176.1L360.4 175.9M436.4 198.3L426.9 204.9M436.4 198.3L444.5 203.5M409.3 146.1L418.7 145.2M359.3 193.8L362.5 183.6M342.2 164.3L339.8 158.4M353.7 152.5L354.3 148.5M373.5 121.6L373.9 122M350.1 202.9L355.2 201M350.1 202.9L348.3 199.8M428 130.8L422.3 137.4M453.7 135L449.3 134.7M410.6 114.4L408.9 111.9M355.2 201L354.3 198.4M410.8 203.5L388.7 204.5M396 157.1L390 156.6M438.9 147.7L435.6 158.1M438.9 147.7L440.7 149.8M383.7 181.9L391.7 178.4M373.7 128.8L362.4 135.8M381.6 160.3L379.7 154M348.3 199.8L343.2 200.6M443 102.7L445.7 106M403.2 131L401.9 126.8M404.8 162L408.3 155.7M404.8 162L412.5 163.2M458.7 146.4L462.2 157M393.3 109.3L396.7 107.7M462.7 132.9L455.8 121.2M359.7 152.7L354.3 148.5M445.7 106L445.1 108.8M362.6 111.1L361.1 110.4M456.2 183.5L461.5 187.7" fill="none" stroke="#111" stroke-width="0.6" opacity="0.8" />
<path d="M355 174.1L351.5 180.1M421.3 147L421.3 143.3M371.3 100.7L439.2 100.5M454.2 171.2L457.1 169.4M330.9 195.4L333.1 189M457.4 165.7L458.7 166.3M345.8 141.7L349.8 143.5M357.2 161.7L355.7 158.7M388.8 136.4L380.8 131.9M444.8 192L440.4 190.1M369.4 112.3L368.9 110M437.4 131.9L440.5 132M460.2 136L457.9 133.9M373.8 187.2L374 181.6M368.8 191.5L364.2 196.2M434.6 161.9L424 167.3M412.6 165.2L412.5 163.2M367.1 156.3L366.3 165.7M422.1 109.7L419.9 101.4M416 204.2L410.8 203.5M380.2 169.5L376.2 176.6M422.6 147.7L423.2 145.3M422.6 147.7L422.3 146.9M388.5 140.9L379.3 136.7M463.7 134.6L463.8 180.5M419.3 185.4L414.1 187.1M337.6 131.3L336.4 128.2M340.6 122.6L349.9 127.4M340.6 122.6L345.8 119.6M397.3 131.4L401.3 128.4M366 149.1L368.5 151.6M432.5 114.1L433.2 113.7M432.9 106.8L434.4 102.1M381.8 165L376.5 161.1M423.2 145.3L428.8 146.3M397.4 160.1L391.7 168.5M424.1 196.7L420.9 195.5M341.2 190.9L342.8 178.9M409.5 172.7L406.4 169.1M423.8 130.7L424.7 122.3M422.9 114.4L424.7 122.3M432.3 184.2L439.1 182.9M414.3 188.8L408.9 189.1M409.5 201.2L417.9 197M371 179.8L361 181.8M385.8 167.5L390.1 160.9M433.3 171.3L440.4 174.1M437.7 127.6L435.3 126.3M376.4 109L372.5 105.8M436 121.8L441.5 113.5M434.4 102.1L423.9 100.8M360.3 180.3L359.1 176.1M416.7 138L421.3 143.3M340.6 110.9L332.2 105.2M376.5 161.1L381.6 160.3M401.4 188.8L406.5 190.9M364.2 196.2L363.8 198.3M463.2 152.3L462.2 157M408.9 189.1L414.1 187.1M348.4 181L349.2 183M384.5 192L390 192M348.6 109.7L345.8 119.6M447.4 168.9L450.4 168.1M415.5 115L410.6 114.4M422 148.7L420.3 147.1M428.8 146.3L425.8 140.2M336.4 128.2L333.3 131M339 125.2L338.1 119.3M349.9 127.4L338.1 127.7M425.8 191.4L431.8 197.5M379.3 136.7L376.4 142.9M436 196.1L436.4 198.3M436 196.1L435.8 197M433.2 113.7L441.5 113.5M443.8 147L438.9 147.7M412.1 161.7L413.6 160.3M336.5 186.8L342.8 178.9M440.6 153.8L438.9 147.7M383.7 181.9L379.9 182.8M425.7 178.4L426.6 175M412.4 124.6L412.3 116M446.9 200.9L444.1 197.8M352.3 139.1L361.2 138.8M373.7 125.2L384 124.4M332.6 110.3L332.2 105.2M386.9 199.5L388.7 204.5M365.1 105.8L361.1 110.4M426 155.7L426.2 156.9M414.8 172.8L417.9 174.7M330.2 125L333.3 131M439.2 100.5L462.9 102.9M384 124.4L384.2 130.1M384.2 130.1L385.2 127.1M361.2 138.8L362 146.8M374.4 161.1L374.7 156.2M432.3 136.4L432 136.1M437.7 186.8L440.4 190.1" fill="none" stroke="#444" stroke-width="0.6" opacity="0.8" />
<path d="M355 174.1L355.4 176.4M383 115.3L380.2 116M421.3 147L422 148.7M354.8 164.5L347.1 165.5M354.8 164.5L347.4 162.9M380.2 116L383 116.4M330.9 195.4L331 160.6M330.9 195.4L335.4 197.3M369.4 112.3L367.5 108.9M389 146.7L385.8 153.5M346 106.6L350.4 105.4M361.3 173.6L359.1 176.1M355.8 100.6L365.1 105.8M355.8 100.6L361.1 110.4M448.8 187.8L455.9 191.1M460.2 136L463.7 134.6M368.8 191.5L373.9 190.4M353.4 126.7L350.9 138.3M397.5 101.7L419.9 101.4M425.8 183.8L426.6 184.9M448 144.8L443.8 147M380.2 169.5L385.8 167.5M380.2 169.5L374.5 166M432.6 198.3L431.8 197.5M415.4 125.2L412.4 124.6M397.4 153.7L398 151.9M419.3 185.4L420.9 195.5M397.3 131.4L395.7 138M340.4 176.9L345.8 178.5M373.8 144.9L381.4 147M366 149.1L368.5 139.2M432.5 114.1L425.7 110.6M371 138.1L368.5 139.2M381.8 165L386.6 160.9M424.1 196.7L431.8 197.5M341.2 190.9L349.2 183M417.6 162.8L412.5 163.2M417.6 162.8L424 167.3M417.6 162.8L415.7 165.4M358.3 203.2L355.4 203.3M374 181.6L376.3 185.6M422.9 114.4L427.9 118.2M354.8 195.3L359.3 193.8M463.4 141.8L461.8 139.6M368.5 139.2L362 146.8M418.9 202L417.9 197M428.4 123.3L431 128.7M361 181.8L353.6 181.6M437.7 127.6L442.9 124.4M437.7 127.6L444.3 131.1M341.7 197.1L345.6 197.4M399.8 186.2L391.7 178.4M335.7 144.2L335.9 131.9M354.5 152.4L356.9 152.8M354.5 152.4L353.7 152.5M453.1 125.6L453.7 135M364.8 172.4L366.3 165.7M446.2 139.2L447.8 142.5M446.2 139.2L449.3 134.7M337.8 169.8L338.6 170.3M458.7 166.3L462.2 157M392.2 201.5L388.7 204.5M360.3 180.3L360.4 175.9M416.7 138L418.3 135.7M392.5 128.4L389.5 134M333.8 166.8L340.5 166.1M463.2 152.3L460.7 144.6M345.6 197.4L354.4 195.9M336.4 119L330.3 122.6M428.8 146.3L426 155.7M350 171.8L356 171.6M370.2 164L372.7 158.7M370.2 164L374.4 161.1M353.6 112.6L361.9 118.8M425.8 191.4L426.9 185.7M420.3 147.1L421.3 143.3M451.9 146.7L462.2 157M426.9 204.9L425.5 199.9M440.5 132L444.2 133.6M453.7 135L457.9 133.9M438.9 147.7L432.3 136.4M463.8 180.5L460.6 192.3M412.4 124.6L415.2 117.8M407.9 194L407.7 195.6M404.6 103.2L396.7 107.7M341.6 168.3L347.1 165.5M443 102.7L440.6 108.9M371.1 186.1L362.5 183.6M353.7 147.2L359.3 145.2M401.5 163.6L402.3 171.3M362.4 135.8L361.2 138.8M330.3 122.6L332.2 105.2M339.8 158.4L343.1 158.9M390.9 197.9L397 197.6M456.2 183.5L459 178.1M456.8 113.3L455.8 121.2" fill="none" stroke="#111" stroke-width="0.4" opacity="0.8" />
<path d="M355 174.1L350 171.8M355 174.1L359.1 176.1M355 174.1L356 171.6M391.3 105.5L386.8 105.6M345.8 141.7L348.5 138.4M339 144L347.3 146.5M369.4 112.3L362.6 111.1M346 106.6L340.6 110.9M346 106.6L342.3 111.5M396.8 141.5L397.2 145.7M396.8 141.5L395.7 138M416.6 158.5L419.3 159.9M412.6 165.2L415.1 168M412.6 165.2L406.4 169.1M412.6 165.2L415.7 165.4M353.4 126.7L358.2 125.1M332.7 204.5L343.2 200.6M416 204.2L416.9 203.4M371.9 121.3L370.9 114.2M388.5 140.9L393.3 142.3M432.6 198.3L435.8 197M414.6 153.3L418.7 145.2M428.7 103.9L432.9 106.8M340.4 176.9L341.6 168.3M340.4 176.9L333.7 175.8M353.3 121.7L354 121.4M342.5 116L342.3 111.5M401.2 178.5L399.8 186.2M378.8 114.9L376.4 109M378.8 114.9L375.5 115.7M373.8 144.9L368.5 151.6M373.8 144.9L377.2 151M346.8 108.3L350.4 105.4M380.1 203.4L375.1 195M380.1 203.4L368.2 196.3M380.1 203.4L381 192.4M351.5 180.1L349.2 183M371 138.1L379.3 136.7M366.9 124.8L373.7 125.2M423.2 145.3L422.3 146.9M415.5 158.9L417.6 162.8M341.2 190.9L339.5 191.1M409.5 172.7L410 171.3M374 181.6L371.1 186.1M354.8 195.3L354.4 195.9M463.4 141.8L463.2 152.3M463.4 141.8L460.7 144.6M333 131.2L332.1 143.9M349.8 143.5L347.3 146.5M368.5 139.2L362.4 135.8M399.2 200.2L392.2 201.5M453.1 125.6L462.7 132.9M400.7 113.7L404.6 103.2M400.7 113.7L402.7 114M446.2 139.2L453.5 140.7M337.8 169.8L333.8 166.8M376.4 109L370.9 114.2M408.7 135.1L403 131.2M396.3 151.3L390 156.6M356.9 152.8L354.7 154.4M392.2 201.5L399.9 201.5M340.6 110.9L339.6 112.4M401.3 128.4L399.7 131M333.8 166.8L333.7 175.8M451.2 145.6L451.9 146.7M348.4 181L345.8 178.5M348.6 109.7L350.4 105.4M385.1 178.8L382.6 176.4M405 121.9L412.4 124.6M374.5 166L370.2 164M345.4 152.1L347.4 162.9M451.9 146.7L446.6 156.3M439.1 182.9L437.7 186.8M436 196.1L444.1 197.8M436 196.1L437.7 186.8M436 196.1L440.4 190.1M460.7 144.6L453.5 140.7M385.2 152.9L381.4 147M447.7 102L443 102.7M447.7 102L445.7 106M447.7 102L443.2 101.7M363.8 198.3L366.1 195.8M428 130.8L430.7 137.4M445.1 203L453.3 204.8M336.5 186.8L333.1 189M446.8 120.2L445.1 108.8M444.6 132.1L444.3 131.1M412.4 124.6L416.3 124.1M386.6 160.9L390 156.6M338.1 119.3L339.6 112.4M390.1 118.9L393.6 116.5M422.3 137.4L419.2 134.8M414.8 172.8L410 171.3M335.4 197.3L343.2 200.6M441.8 141.8L432.3 136.4M454.1 182.7L456.2 183.5M449.3 134.7L444.3 131.1M349.2 183L348.5 190.8M340.1 156L339.8 158.4M432.3 136.4L442.6 134.8M432.3 136.4L430.7 137.4M343.2 200.6L333.3 201M432 136.1L430.7 137.4" fill="none" stroke="#111" stroke-width="0.8" opacity="0.8" />
<path d="M383 115.3L384.2 113.2M421.3 147L422.6 147.7M354.8 164.5L356 171.6M371.3 100.7L355.8 100.6M389.8 109.8L391.3 105.5M358 197.9L354.4 195.9M457.4 165.7L454.1 169.9M444.8 192L441.4 191.9M369.4 112.3L376.4 109M389.9 144.9L393.3 142.3M396.8 141.5L398.6 144.9M361.3 173.6L360.4 175.9M416.5 153.7L419.3 159.9M383 116.4L385.4 113.5M373.8 187.2L374.3 190.7M434.6 161.9L439.2 158.3M397.5 101.7L394.3 104.7M397.5 101.7L396.7 107.7M448 144.8L447.8 142.5M448 144.8L444.5 147.2M332.7 204.5L333.3 201M428.3 173.3L426.6 175M432.6 198.3L431.5 199.3M414.6 153.3L413.6 160.3M463.7 134.6L463.2 152.3M463.7 134.6L461.8 139.6M419.3 185.4L425.8 191.4M397.3 131.4L399.7 131M353.3 121.7L353.6 112.6M373.1 101L386.8 105.6M397.4 160.1L401.5 163.6M359.8 121.9L361.2 124M424.1 196.7L425.8 191.4M358.3 203.2L357.9 203M423.8 130.7L421.1 128.3M454.3 136.1L456.3 135.7M399.8 186.2L391.3 190M453.1 125.6L455.8 121.2M361.8 126L361.2 124M421.9 151.9L420.3 147.1M399.3 193.2L401.4 188.8M399.8 115.6L398.4 116.6M436 121.8L442.9 124.4M461.1 172.4L462.2 157M360.3 180.3L353.6 181.6M392.5 128.4L392.3 121.8M338.6 170.3L341.6 168.3M401.1 151.3L401.4 148.2M385.4 159.4L381.6 160.3M385.4 159.4L390 156.6M392.3 121.8L398.4 116.6M446.4 125.5L448.2 122.1M333.8 166.8L335 159.4M463.2 152.3L463.8 180.5M384.5 192L383.7 181.9M384.5 192L381 192.4M384.5 192L391.3 190M379.1 110.3L386.8 105.6M428.8 146.3L435.6 158.1M375.1 154.6L374.7 156.2M457.4 160.8L447.1 159.6M336.4 128.2L339 125.2M440.4 174.1L444.1 176.4M440.4 174.1L441.3 182.7M390.1 160.9L390 156.6M342.2 164.3L341.6 168.3M446.6 156.3L446.1 148.5M350.1 202.9L343.2 200.6M412.1 161.7L412.5 163.2M445.1 203L446.9 200.9M336.5 186.8L339.5 191.1M336.5 186.8L333.7 175.8M420.9 178.5L425.7 178.4M406.4 169.1L402.3 171.3M438.9 147.7L430.7 137.4M444.6 132.1L444.2 133.6M404.6 103.2L408.9 111.9M379.9 182.8L381 192.4M342.8 178.9L349.2 183M431.8 197.5L435.8 197M426.9 185.7L426.6 184.9M462.9 102.9L456.8 113.3M416.3 124.1L417.7 120.2M445.1 108.8L456.8 113.3" fill="none" stroke="#444" stroke-width="0.4" opacity="0.8" />
<path d="M383 115.3L383 116.4M438.8 163.5L434.6 161.9M380.2 116L384.3 118.9M373.6 177.8L371 179.8M454.2 171.2L450.4 168.1M454.2 171.2L459 178.1M438.9 156.7L435.6 158.1M384.3 118.9L383 116.4M384.3 118.9L384 124.4M358 197.9L355.2 201M457.4 165.7L457.4 160.8M345.8 141.7L346.9 136.5M357.2 161.7L363.6 171.4M388.8 136.4L379.3 136.7M339 144L335.9 131.9M437.4 131.9L431 128.7M361.3 173.6L363.6 171.4M416.5 153.7L421.9 151.9M427.7 108.8L425.7 110.6M368.8 191.5L368.2 196.3M434.6 161.9L432.7 160.3M412.6 165.2L404.8 165.9M353.4 126.7L354 121.4M353.4 126.7L349.3 123.9M425.8 183.8L419.3 185.4M425.8 183.8L425.7 178.4M367.1 156.3L361.1 154.4M397.1 192L391.3 190M428.3 173.3L430.2 182.3M371.9 121.3L363.3 120.7M419.3 185.4L414.3 188.8M419.3 185.4L420.9 178.5M340.6 122.6L342.5 116M353.3 121.7L349.3 123.9M401.2 178.5L391.7 178.4M384.4 176.3L385.8 167.5M457.7 194.6L451.9 198.9M366.9 124.8L363.3 120.7M423.2 145.3L421.3 143.3M415.4 139L416.1 135.9M415.5 158.9L413.6 160.3M415.1 168L418.4 168M374 181.6L376.2 176.6M414.3 188.8L420.9 195.5M368.5 139.2L361.2 138.8M409.5 201.2L416.9 203.4M348.5 138.4L350.9 138.3M354.5 152.4L354.7 154.4M453.1 125.6L449.3 134.7M364.8 172.4L363.6 171.4M363.3 120.7L370.9 114.2M363.3 120.7L361.9 118.8M399.3 193.2L406.5 190.9M408.7 135.1L403.2 131M340.7 150.3L342.5 150.1M355.7 158.7L347.4 162.9M414.4 184.6L411.7 174.6M442.2 119.7L441.5 113.5M442.2 119.7L446.8 120.2M442.2 119.7L442.9 124.4M354 121.4L361.9 118.8M335.9 113.3L330.3 122.6M345.6 197.4L348.5 190.8M444.9 156.2L446.6 156.3M361.2 124L358.2 125.1M405 121.9L398.4 116.6M400.1 154.3L396 157.1M389.5 134L385.2 127.1M345.4 152.1L347.3 146.5M425.8 191.4L436 196.1M436 196.1L431.8 197.5M423.9 100.8L439.2 100.5M426.9 204.9L444.5 203.5M426.9 204.9L431.5 199.3M426.9 204.9L388.7 204.5M444.1 176.4L441.3 182.7M447.7 102L439.2 100.5M443.8 147L440.7 149.8M428 130.8L432 136.1M357.9 203L355.4 203.3M441.3 182.7L445.8 179.7M421.4 173.2L418.4 168M337.3 178.2L333.7 175.8M407.3 102.4L406.5 102.9M446.8 120.2L442.9 124.4M379.7 154L385.8 153.5M379.7 154L381.4 147M391.7 178.4L391.3 190M404.8 165.9L404.8 162M404.8 165.9L402.3 171.3M417.9 197L411 194.2M330.2 125L332.1 143.9M439.2 100.5L440.6 108.9M347.4 162.9L343.1 158.9M461 174.1L459 178.1M402.8 151.1L408.3 154.7M361.9 118.8L361.1 110.4M410.5 185.6L402.7 182.7" fill="none" stroke="#666" stroke-width="0.4" opacity="0.8" />
<path d="M383 115.3L385.4 113.5M438.8 163.5L433.3 171.3M438.8 163.5L441.3 157.2M423.8 102.1L428.1 106.9M371.3 100.7L365.1 105.8M454.2 171.2L454.1 169.9M330.9 195.4L333.7 175.8M391.3 105.5L394.3 104.7M391.3 138L394.5 137.4M391.3 138L393.3 142.3M339 144L342.5 150.1M339 144L334.7 145.8M369.4 112.3L361.9 118.8M389 146.7L389.9 144.9M389 146.7L385.2 152.9M355.3 191.9L350.1 189.5M355.3 191.9L362.5 183.6M437.4 131.9L432.3 136.4M448.8 187.8L454.1 182.7M367.1 156.3L370.1 152.4M428.3 173.3L421.4 173.2M345.5 178.7L340.4 176.9M397.4 153.7L400.1 154.3M401.2 178.5L402.3 171.3M351.5 180.1L353.6 181.6M432.9 106.8L428.1 106.9M371 138.1L362.4 135.8M439.2 158.3L441.3 157.2M415.4 139L416.7 138M424.1 196.7L418.9 202M453.6 120.3L446.8 120.2M349.8 143.5L353.7 147.2M371 179.8L360.4 175.9M433.3 171.3L424 167.3M376.2 176.6L379.9 182.8M348.5 138.4L346.9 136.5M398.6 144.9L409.3 146.1M341.7 197.1L339.5 191.1M394.3 104.7L393.3 109.3M377.2 151L379.7 154M396.3 151.3L401.4 148.2M392.2 201.5L390.9 197.9M401.1 151.3L402.8 151.1M385.4 159.4L385.8 153.5M401.3 128.4L403.2 131M392.3 121.8L390.1 118.9M446.4 125.5L442.9 124.4M446.4 125.5L444.3 131.1M333.8 166.8L331 160.6M451.2 145.6L446.1 148.5M408.9 189.1L411 194.2M408.9 189.1L402.7 182.7M353.6 181.6L350.1 189.5M342.5 150.1L345.4 152.1M447.4 168.9L447.1 159.6M393.5 104.5L386.8 105.6M331 160.6L331.2 150.2M374.5 166L374.4 161.1M339 125.2L338.1 127.7M353.6 112.6L350.4 105.4M335 159.4L331.2 150.2M441.4 191.9L436 196.1M451.9 146.7L458.7 146.4M379.3 136.7L381.4 147M390.1 160.9L396 157.1M409.3 146.1L402.8 151.1M342.2 164.3L347.1 165.5M342.2 164.3L347.4 162.9M399.9 201.5L410.8 203.5M399.9 201.5L407.8 201.7M350.1 202.9L355.4 203.3M427.9 118.2L425.7 110.6M445.1 203L444.5 203.5M441.5 113.5L435.1 108.9M441.3 182.7L440.4 190.1M463.8 180.5L461.5 187.7M425.7 178.4L430.2 182.3M458.5 189.5L455.9 191.1M348.3 199.8L354.4 195.9M447.1 201.4L451.9 198.9M398.4 116.6L401.9 126.8M401.5 163.6L404.8 165.9M426 155.7L432.7 160.3M422.3 137.4L421.3 143.3M354.4 195.9L348.5 190.8M458.7 146.4L453.5 140.7M330.2 125L331.2 150.2M350.1 189.5L348.5 190.8M441.8 141.8L442.6 134.8M402.8 151.1L401.4 148.2M426.9 185.7L430.2 182.3M446.1 148.5L440.7 149.8M359.7 152.7L362 146.8M407.7 195.6L411 194.2M440.6 108.9L445.1 108.8M444.2 133.6L442.6 134.8M445.1 108.8L444.1 106.1" fill="none" stroke="#2a2a2a" stroke-width="0.8" opacity="0.8" />
<path d="M383 115.3L378.8 114.9M380.2 116L378.8 114.9M371.3 100.7L397.5 101.7M371.3 100.7L423.9 100.8M371.3 100.7L372.5 105.8M454.2 171.2L445.8 179.7M454.2 171.2L454.1 182.7M330.9 195.4L332.7 204.5M384.2 113.2L385.4 113.5M444.8 192L444.1 197.8M389 146.7L388.5 140.9M389.9 144.9L397.2 145.7M416.5 153.7L415.9 153.2M355.8 100.6L350.4 105.4M448.8 187.8L451.9 198.9M427.7 108.8L422.1 109.7M368.8 191.5L371.1 186.1M412.6 165.2L410 171.3M353.4 126.7L353.3 121.7M397.5 101.7L373.1 101M397.5 101.7L386.8 105.6M388.5 140.9L381.4 147M360.5 132.4L352.3 139.1M415.4 125.2L417.4 129.6M337.6 131.3L346.9 136.5M397.3 131.4L397.3 138.4M342.5 116L348.6 109.7M342.5 116L339.6 112.4M378.8 114.9L379.1 110.3M373.9 190.4L371.1 186.1M384.4 176.3L385.1 178.8M426.5 185.2L426.9 185.7M426.5 185.2L426.6 184.9M432.9 106.8L435.1 108.9M371 138.1L376.4 142.9M366.9 124.8L361.8 126M381.8 165L385.8 167.5M381.8 165L381.6 160.3M397.2 145.7L398.6 144.9M432.3 184.2L436 196.1M333 131.2L330.2 125M453.6 120.3L456.8 113.3M391.4 193.7L391.3 190M418.9 202L425.5 199.9M437.7 127.6L440.5 132M417.4 129.6L414.1 127.5M417.4 129.6L419.2 134.8M416.1 135.9L410.2 135.5M398.6 144.9L397.3 138.4M364.8 172.4L374.5 166M376.4 109L379.1 110.3M408.7 135.1L409.3 146.1M340.7 150.3L331.2 150.2M436 121.8L435.3 126.3M434.4 102.1L439.2 100.5M396.3 151.3L398 151.9M461.1 172.4L461 174.1M375.5 115.7L373.5 121.6M375.5 115.7L373.9 122M403 131.2L399.7 131M376.3 185.6L379.9 182.8M376.5 161.1L374.5 166M424.1 153.1L422 148.7M353.6 181.6L349.2 183M384.5 192L379.9 182.8M448.2 122.1L452.7 124.7M448.2 122.1L446.8 120.2M415.5 115L417 118.5M415.5 115L412.3 116M405 121.9L410.6 114.4M353.6 112.6L345.8 119.6M353.6 112.6L361.1 110.4M335 159.4L339.8 158.4M441.4 191.9L444.1 197.8M440.4 174.1L430.2 182.3M436.4 198.3L431.5 199.3M445.1 203L444.1 197.8M357.9 203L355.2 201M441.5 113.5L446.8 120.2M441.5 113.5L440.6 108.9M441.5 113.5L445.1 108.8M440.6 153.8L440.7 149.8M416.9 203.4L417.9 197M406.4 169.1L404.8 165.9M407.3 102.4L419.9 101.4M463.8 180.5L459 178.1M411.7 174.6L414.8 172.8M373.7 128.8L373.7 125.2M418.3 135.7L419.2 134.8M407.9 194L411 194.2M352.3 139.1L359.3 145.2M450.4 168.1L447.1 159.6M401.5 163.6L404.5 157.8M335.9 131.9L333.3 131M418.7 145.2L421.3 143.3M331.2 150.2L337.9 157.9M393.3 109.3L393.6 116.5M418.4 168L424 167.3M444.1 197.8L444.5 203.5M408.3 155.7L408.3 154.7M453.5 140.7L449.3 134.7" fill="none" stroke="#2a2a2a" stroke-width="0.4" opacity="0.8" />
<path d="M421.3 147L420.3 147.1M421.3 147L422.3 146.9M380.2 116L375.5 115.7M447.9 121.2L448.2 122.1M438.9 156.7L440.6 153.8M358 197.9L358.3 203.2M358 197.9L364.2 196.2M358 197.9L363.8 198.3M358 197.9L357.9 203M384.2 113.2L379.1 110.3M388.8 136.4L384.2 130.1M389 146.7L397.2 145.7M355.3 191.9L359.3 193.8M414 109.4L415.5 115M346 106.6L355.8 100.6M346 106.6L332.2 105.2M416.5 153.7L420.3 147.1M397.5 101.7L404.6 103.2M425.8 183.8L430.2 182.3M397.1 192L399.3 193.2M332.7 204.5L350.1 202.9M419.3 159.9L424 167.3M414.6 153.3L408.3 154.7M428.7 103.9L423.9 100.8M397.4 153.7L396.3 151.3M340.6 122.6L339 125.2M397.3 131.4L389.5 134M340.4 176.9L338.6 170.3M342.5 116L345.8 119.6M432.5 114.1L427.9 118.2M373.1 101L376.4 109M415.4 139L418.7 145.2M359.8 121.9L354 121.4M394.5 137.4L393.3 142.3M358.3 203.2L363.8 198.3M393.4 193.3L396.6 196.1M393.4 193.3L390.9 197.9M414.3 188.8L417.9 197M349.8 143.5L351.6 139.1M428.4 123.3L427.9 118.2M428.4 123.3L433.9 127.8M361 181.8L360.3 180.3M341.7 197.1L343.2 200.6M397.3 138.4L408.7 135.1M335.7 144.2L332.1 143.9M414.1 127.5L408.7 135.1M354.5 152.4L354.3 148.5M453.1 125.6L457.9 133.9M400.7 113.7L396.7 107.7M399.3 193.2L398 197.8M458.7 166.3L457.1 169.4M380.8 131.9L373.7 125.2M396.3 151.3L396 157.1M376.3 185.6L381 192.4M354 121.4L358.2 125.1M457.1 169.4L454.1 169.9M421.1 128.3L419.2 134.8M424.1 153.1L426 155.7M444.9 156.2L446.1 148.5M348.6 109.7L353.6 112.6M374.5 166L366.3 165.7M439.1 182.9L440.4 174.1M460.7 144.6L458.7 146.4M444.1 176.4L445.8 179.7M424.7 122.3L417.7 120.2M390 192L390.9 197.9M440.5 132L444.6 132.1M411.7 174.6L417.9 174.7M450.4 168.1L454.1 169.9M373.7 125.2L373.9 122M339.5 191.1L333.1 189M330.2 125L330.3 122.6M439.2 100.5L443.2 101.7M372.7 158.7L374.7 156.2M347.1 165.5L347.4 162.9M404.5 157.8L408.3 154.7M444.1 197.8L451.9 198.9M359.3 145.2L361.2 138.8M359.3 145.2L359.7 152.7M415.2 117.8L417.7 120.2M430.2 182.3L426.6 184.9M440.6 108.9L444.1 106.1" fill="none" stroke="#2a2a2a" stroke-width="0.5" opacity="0.8" />
<path d="M438.8 163.5L447.4 168.9M354.8 164.5L357.2 161.7M423.8 102.1L422.1 109.7M389.8 109.8L384.2 110.2M391.3 138L388.5 140.9M355.3 191.9L354.8 195.3M437.4 131.9L437.7 127.6M437.4 131.9L432 136.1M361.3 173.6L356 171.6M355.8 100.6L439.2 100.5M373.8 187.2L373.9 190.4M373.8 187.2L376.3 185.6M397.1 192L401.4 188.8M332.7 204.5L355.4 203.3M416 204.2L426.9 204.9M360.5 132.4L362.4 135.8M360.5 132.4L361.2 138.8M345.5 178.7L348.4 181M419.3 159.9L417.6 162.8M463.7 134.6L462.7 132.9M428.7 103.9L434.4 102.1M397.4 153.7L396 157.1M337.6 131.3L335.9 131.9M346.8 108.3L348.6 109.7M366 149.1L361.1 154.4M351.5 180.1L348.4 181M432.5 114.1L436 121.8M426.5 185.2L425.8 191.4M432.9 106.8L433.2 113.7M423.2 145.3L425.8 140.2M415.4 139L410.2 135.5M397.4 160.1L400.1 154.3M359.8 121.9L358.2 125.1M394.5 137.4L395.7 138M407.7 179L410.5 185.6M415.1 168L414.8 172.8M397.2 145.7L401.4 148.2M393.4 193.3L391.4 193.7M374 181.6L379.9 182.8M423.8 130.7L428.4 123.3M432.3 184.2L430.2 182.3M354.8 195.3L348.5 190.8M333 131.2L333.3 131M391.4 193.7L390 192M454.3 136.1L453.5 140.7M418.9 202L420.9 195.5M417.4 129.6L416.3 124.1M364.8 172.4L360.4 175.9M421.9 151.9L422 148.7M446.2 139.2L444.2 133.6M377.2 151L370.1 152.4M458.7 166.3L457.4 160.8M380.8 131.9L373.7 128.8M436 121.8L427.9 118.2M403 131.2L403.2 131M414.4 184.6L420.9 178.5M376.3 185.6L374.3 190.7M392.3 121.8L384 124.4M446.4 125.5L449.3 134.7M379.1 110.3L384.2 110.2M348.6 109.7L342.3 111.5M447.4 168.9L440.4 174.1M385.1 178.8L391.7 178.4M331 160.6L333.7 175.8M339 125.2L349.9 127.4M350.4 105.4L361.1 110.4M409.3 146.1L410.2 135.5M443.8 147L441.8 141.8M428 130.8L431 128.7M412.1 161.7L408.3 155.7M440.5 132L444.3 131.1M445.1 203L447.1 201.4M440.6 153.8L441.3 157.2M463.8 180.5L461 174.1M463.8 180.5L462.2 157M381.6 160.3L386.6 160.9M348.3 199.8L354.3 198.4M391.7 178.4L391.7 168.5M447.1 159.6L441.3 157.2M386.9 199.5L381 192.4M390.7 114.5L393.3 109.3M431.8 197.5L425.5 199.9M407.8 201.7L407.7 195.6M417.9 174.7L418.4 168M404.5 157.8L408.3 155.7M331.2 150.2L340.1 156M426.2 156.9L432.7 160.3" fill="none" stroke="#2a2a2a" stroke-width="0.6" opacity="0.8" />
<path d="M354.8 164.5L363.6 171.4M380.2 116L373.9 122M454.2 171.2L461 174.1M330.9 195.4L333.3 201M384.2 113.2L384.2 110.2M391.3 105.5L393.3 109.3M457.4 165.7L450.4 168.1M357.2 161.7L367.1 156.3M444.8 192L451.9 198.9M460.2 136L462.7 132.9M416.6 158.5L415.5 158.9M416.6 158.5L417.6 162.8M385.4 113.5L384.2 110.2M434.6 161.9L435.6 158.1M332.7 204.5L382 204.9M428.3 173.3L433.3 171.3M371.9 121.3L366.9 124.8M422.6 147.7L428.8 146.3M419.3 159.9L426 155.7M415.4 125.2L414.1 127.5M414.6 153.3L408.3 155.7M382 204.9L388.7 204.5M419.3 185.4L426.5 185.2M373.8 144.9L371 138.1M346.8 108.3L342.3 111.5M351.5 180.1L350 171.8M457.7 194.6L455.9 191.1M424.1 196.7L425.5 199.9M407.7 179L414.4 184.6M407.7 179L402.3 171.3M453.6 120.3L452.7 124.7M371 179.8L362.5 183.6M385.8 167.5L386.6 160.9M399.2 200.2L397 197.6M398.6 144.9L408.7 135.1M414.1 127.5L410.2 135.5M361.1 154.4L355.7 158.7M376.4 109L375.5 115.7M399.8 115.6L405 121.9M408.7 135.1L410.2 135.5M434.4 102.1L440.6 108.9M392.5 128.4L385.2 127.1M376.5 161.1L379.7 154M401.4 188.8L408.9 189.1M401.4 188.8L402.7 182.7M385.4 159.4L379.7 154M401.3 128.4L401.9 126.8M447.8 142.5L443.8 147M367.5 108.9L365.1 105.8M367.5 108.9L362.6 111.1M345.6 197.4L348.3 199.8M444.9 156.2L440.6 153.8M444.9 156.2L441.3 157.2M354.7 154.4L353.7 152.5M342.5 150.1L340.1 156M342.5 150.1L347.3 146.5M385.1 178.8L383.7 181.9M405 121.9L412.3 116M457.4 160.8L451.9 146.7M350 171.8L347.1 165.5M336.4 128.2L330.2 125M339 125.2L330.3 122.6M349.9 127.4L350.9 138.3M389.5 134L384.2 130.1M359.1 176.1L356 171.6M433.2 113.7L435.1 108.9M409.3 146.1L408.3 154.7M447.7 102L456.8 113.3M424.7 122.3L416.3 124.1M440.5 132L442.6 134.8M336.5 186.8L337.3 178.2M417 118.5L415.2 117.8M417 118.5L417.7 120.2M410.6 114.4L402.7 114M355.2 201L355.4 203.3M410.8 203.5L407.8 201.7M421.4 173.2L417.9 174.7M337.3 178.2L342.8 178.9M406.4 169.1L410 171.3M444.6 132.1L449.3 134.7M463.8 180.5L456.2 183.5M418.3 135.7L422.3 137.4M366.3 165.7L363.6 171.4M446.9 200.9L451.9 198.9M404.6 103.2L402.7 114M404.6 103.2L406.5 102.9M443 102.7L439.2 100.5M398.4 116.6L393.3 109.3M390.1 118.9L384 124.4M332.6 110.3L330.3 122.6M372.5 105.8L368.9 110M339.5 191.1L335.4 197.3M418.7 145.2L415.9 153.2M331.2 150.2L332.1 143.9M396.6 196.1L390.9 197.9M359.3 145.2L362 146.8M333.7 175.8L333.1 189" fill="none" stroke="#666" stroke-width="0.8" opacity="0.8" />
<path d="M423.8 102.1L428.7 103.9M373.6 177.8L376.2 176.6M373.6 177.8L364.8 172.4M454.2 171.2L447.4 168.9M358 197.9L354.8 195.3M384.2 113.2L378.8 114.9M388.8 136.4L388.5 140.9M339 144L335.7 144.2M339 144L340.7 150.3M339 144L346.9 136.5M355.8 100.6L332.2 105.2M448.8 187.8L441.3 182.7M385.4 113.5L390.1 118.9M373.8 187.2L371.1 186.1M368.8 191.5L359.3 193.8M353.4 126.7L360.5 132.4M425.8 183.8L426.5 185.2M425.8 183.8L420.9 178.5M367.1 156.3L370.2 164M367.1 156.3L372.7 158.7M422.1 109.7L422.9 114.4M371.9 121.3L373.7 125.2M380.2 169.5L381.8 165M360.5 132.4L358.2 125.1M463.7 134.6L463.4 141.8M382 204.9L426.9 204.9M428.7 103.9L428.1 106.9M451.5 143L458.7 146.4M353.3 121.7L345.8 119.6M373.8 144.9L370.1 152.4M371 138.1L373.7 128.8M397.4 160.1L404.5 157.8M341.2 190.9L348.5 190.8M407.7 179L411.7 174.6M333 131.2L335.9 131.9M453.6 120.3L455.8 121.2M349.8 143.5L352.3 139.1M409.5 201.2L407.8 201.7M371 179.8L364.8 172.4M418.9 202L426.9 204.9M361 181.8L362.5 183.6M376.2 176.6L382.6 176.4M399.2 200.2L407.7 195.6M416.1 135.9L418.3 135.7M341.7 197.1L335.4 197.3M414.1 127.5L403.2 131M453.1 125.6L452.7 124.7M446.2 139.2L442.6 134.8M337.8 169.8L341.6 168.3M337.8 169.8L333.7 175.8M376.4 109L386.8 105.6M436 121.8L433.2 113.7M356.9 152.8L355.7 158.7M461.1 172.4L457.1 169.4M392.2 201.5L397 197.6M375.5 115.7L370.9 114.2M403 131.2L401.3 128.4M414.4 184.6L414.1 187.1M338.6 170.3L333.7 175.8M335.9 113.3L338.1 119.3M457.1 169.4L461 174.1M364.2 196.2L366.1 195.8M424.1 153.1L428.8 146.3M408.9 189.1L410.5 185.6M447.8 142.5L441.8 141.8M367.5 108.9L368.9 110M336.4 119L339 125.2M448.2 122.1L442.9 124.4M405 121.9L402.7 114M428.8 146.3L438.9 147.7M428.8 146.3L430.7 137.4M375.1 154.6L379.7 154M457.4 160.8L462.2 157M345.4 152.1L353.7 152.5M345.8 119.6L349.3 123.9M439.1 182.9L441.3 182.7M439.1 182.9L430.2 182.3M436.4 198.3L444.1 197.8M385.2 152.9L379.7 154M426.9 204.9L416.9 203.4M363.8 198.3L368.2 196.3M353.7 152.5L347.3 146.5M366.1 195.8L368.2 196.3M453.7 135L456.3 135.7M453.3 204.8L447.1 201.4M433.9 127.8L431 128.7M420.9 178.5L417.9 174.7M342.3 111.5L339.6 112.4M370.1 152.4L372.7 158.7M421.4 173.2L424 167.3M435.6 158.1L426 155.7M458.5 189.5L460.6 192.3M352.3 139.1L353.7 147.2M353.7 147.2L347.3 146.5M431 128.7L432 136.1M422.3 137.4L425.8 140.2M350.1 189.5L349.2 183M372.7 158.7L374.4 161.1M415.2 117.8L416.3 124.1M455.9 191.1L451.9 198.9M431.5 199.3L425.5 199.9M430.2 182.3L426.6 175M361.9 118.8L362.6 111.1" fill="none" stroke="#444" stroke-width="0.5" opacity="0.8" />
<path d="M423.0,173.8 L415.1,177.0 L408.9,181.8 L403.9,182.6 L396.4,184.8 L387.9,186.5" fill="none" stroke="#111" stroke-width="1.1" opacity="0.75"/>
<path d="M379.2,127.5 L375.1,130.9 L371.2,138.2 L371.4,144.3 L373.0,150.8 L373.8,157.0" fill="none" stroke="#111" stroke-width="1.1" opacity="0.75"/>
<path d="M450.7,128.2 L455.9,125.5 L464.0,125.7 L469.3,127.0 L474.0,125.8 L478.3,123.3" fill="none" stroke="#111" stroke-width="1.3" opacity="0.75"/>
<path d="M386.2,175.1 L392.9,174.2 L399.7,175.8 L403.5,179.0 L407.6,181.8 L411.3,183.4" fill="none" stroke="#111" stroke-width="1.1" opacity="0.75"/>
<path d="M364.9,168.4 L373.3,170.1 L377.5,174.2 L381.7,178.6 L383.6,183.1 L387.8,187.7" fill="none" stroke="#111" stroke-width="1.3" opacity="0.75"/>
<path d="M362.0,170.2 L354.9,174.0 L347.3,175.9 L340.1,180.7 L335.8,185.8 L333.3,189.9" fill="none" stroke="#111" stroke-width="1.3" opacity="0.75"/>
<path d="M387.8,165.7 L386.2,171.7 L386.7,176.0 L387.9,181.7 L388.6,186.0 L392.4,190.2" fill="none" stroke="#111" stroke-width="1.1" opacity="0.75"/>
<path d="M374.2,134.8 L367.6,134.5 L361.6,133.9 L353.7,132.6 L347.2,131.3 L342.3,131.3" fill="none" stroke="#111" stroke-width="0.9" opacity="0.75"/>
<path d="M355.3,112.9 L359.5,114.1 L363.3,117.7 L367.2,121.5 L375.8,123.2 L382.9,123.0" fill="none" stroke="#111" stroke-width="1.3" opacity="0.75"/>
<path d="M429.2,118.0 L423.5,119.3 L417.3,119.5 L410.2,117.4 L402.0,116.3 L396.5,116.8" fill="none" stroke="#111" stroke-width="1.3" opacity="0.75"/>
<path d="M430.0,178.2 L430.3,183.2 L433.6,187.4 L437.8,194.8 L442.3,197.7 L445.8,203.7" fill="none" stroke="#111" stroke-width="1.1" opacity="0.75"/>
<path d="M404.1,119.9 L405.5,113.1 L409.3,107.3 L412.8,103.1 L413.8,96.3 L413.4,88.5" fill="none" stroke="#111" stroke-width="1.1" opacity="0.75"/>
<path d="M389.9,132.3 L383.6,126.5 L378.6,121.6 L375.1,116.3 L370.9,110.2 L366.8,102.3" fill="none" stroke="#111" stroke-width="1.1" opacity="0.75"/>
<path d="M381.3,154.9 L382.4,146.2 L381.6,139.1 L383.5,134.6 L383.1,126.6 L383.2,122.2" fill="none" stroke="#111" stroke-width="1.3" opacity="0.75"/>
<path d="M430.6,163.2 L428.6,158.8 L423.1,155.2 L418.8,155.2 L414.7,152.8 L410.5,147.4" fill="none" stroke="#111" stroke-width="1.1" opacity="0.75"/>
<path d="M421.2,140.1 L423.9,146.8 L424.3,152.8 L427.1,157.3 L429.5,164.8 L433.1,172.4" fill="none" stroke="#111" stroke-width="1.1" opacity="0.75"/>
<path d="M359.2,113.7 L355.1,116.8 L349.4,122.5 L343.9,124.2 L340.7,127.9 L338.1,132.0" fill="none" stroke="#111" stroke-width="0.9" opacity="0.75"/>
<path d="M405.7,175.2 L407.6,167.0 L409.4,163.1 L410.8,156.4 L411.4,151.3 L408.0,143.7" fill="none" stroke="#111" stroke-width="1.3" opacity="0.75"/>
<path d="M414.3,126.3 L415.1,122.3 L413.2,114.9 L413.5,110.4 L412.2,102.2 L409.3,97.0" fill="none" stroke="#111" stroke-width="1.1" opacity="0.75"/>
<path d="M451.5,179.6 L457.6,175.5 L463.7,174.9 L471.1,178.0 L476.8,178.9 L481.3,180.6" fill="none" stroke="#111" stroke-width="1.1" opacity="0.75"/>
<path d="M429.3,113.0 L424.2,108.8 L419.9,106.6 L413.3,101.7 L408.0,97.8 L400.1,93.8" fill="none" stroke="#111" stroke-width="0.9" opacity="0.75"/>
<path d="M381.1,155.5 L384.1,163.3 L384.3,171.9 L382.8,176.7 L380.5,184.5 L377.3,188.6" fill="none" stroke="#111" stroke-width="1.1" opacity="0.75"/>
<path d="M424.0,172.3 L416.9,172.8 L411.5,172.8 L403.6,176.0 L400.4,178.8 L396.7,182.8" fill="none" stroke="#111" stroke-width="1.3" opacity="0.75"/>
<path d="M428.5,167.6 L428.5,158.7 L424.0,151.3 L419.5,144.8 L418.0,140.6 L417.1,136.2" fill="none" stroke="#111" stroke-width="1.3" opacity="0.75"/>
<path d="M377.9,125.4 L370.6,126.4 L364.7,128.2 L356.8,127.7 L352.2,127.2 L346.8,127.9" fill="none" stroke="#111" stroke-width="1.1" opacity="0.75"/>
<path d="M419.9,141.4 L415.6,138.1 L408.3,134.9 L402.1,128.6 L398.7,123.0 L394.0,117.1" fill="none" stroke="#111" stroke-width="1.3" opacity="0.75"/>
<path d="M366.5,108.1 L363.6,116.1 L359.3,119.9 L358.0,124.5 L355.4,132.7 L356.6,137.0" fill="none" stroke="#111" stroke-width="1.1" opacity="0.75"/>
<path d="M427.3,155.5 L420.2,153.3 L412.1,149.9 L406.8,147.5 L402.5,141.9 L397.0,137.1" fill="none" stroke="#111" stroke-width="0.9" opacity="0.75"/>
<path d="M350.1 182.8h0.8v0.8h-0.8zM415.7 197.9h0.8v0.8h-0.8zM442 176h0.8v0.8h-0.8zM409.1 141.6h0.8v0.8h-0.8zM407.4 148.2h0.8v0.8h-0.8zM410.1 168.7h0.8v0.8h-0.8zM455.6 140.8h0.8v0.8h-0.8zM416.5 145.5h0.8v0.8h-0.8zM414.2 114.8h0.8v0.8h-0.8zM391.4 191.2h0.8v0.8h-0.8zM434 117.9h0.8v0.8h-0.8zM416.9 155.5h0.8v0.8h-0.8zM383.5 142.1h0.8v0.8h-0.8zM367.2 111.1h0.8v0.8h-0.8zM425.3 154.5h0.8v0.8h-0.8zM446.3 189h0.8v0.8h-0.8zM364.9 170.7h0.8v0.8h-0.8zM414.4 107.9h0.8v0.8h-0.8zM437.5 196.2h0.8v0.8h-0.8zM348.5 151.5h0.8v0.8h-0.8zM416.9 197h0.8v0.8h-0.8zM406.6 194.9h0.8v0.8h-0.8zM340.2 133.5h0.8v0.8h-0.8zM443.5 180.3h0.8v0.8h-0.8zM440.2 172.7h0.8v0.8h-0.8zM376.5 124.3h0.8v0.8h-0.8zM433.5 185.6h0.8v0.8h-0.8zM404 122.5h0.8v0.8h-0.8zM392.2 156.1h0.8v0.8h-0.8zM399 187.2h0.8v0.8h-0.8zM453.8 110.2h0.8v0.8h-0.8zM376.4 160.6h0.8v0.8h-0.8zM422.8 112.4h0.8v0.8h-0.8zM348.3 127h0.8v0.8h-0.8zM448.8 124.2h0.8v0.8h-0.8zM348.6 152.1h0.8v0.8h-0.8zM423.3 130.4h0.8v0.8h-0.8zM423.8 144.9h0.8v0.8h-0.8zM344.2 171.9h0.8v0.8h-0.8zM423.9 126.1h0.8v0.8h-0.8zM346.8 190h0.8v0.8h-0.8zM340.9 119.9h0.8v0.8h-0.8zM367.2 126.4h0.8v0.8h-0.8zM423.4 127.7h0.8v0.8h-0.8zM349.3 128.4h0.8v0.8h-0.8zM456.2 194.8h0.8v0.8h-0.8zM428.4 156.7h0.8v0.8h-0.8zM378 148.1h0.8v0.8h-0.8zM396.3 106.5h0.8v0.8h-0.8zM354.4 183.2h0.8v0.8h-0.8zM456.8 162.6h0.8v0.8h-0.8zM413.6 120.6h0.8v0.8h-0.8zM397.6 115h0.8v0.8h-0.8zM420.1 161h0.8v0.8h-0.8zM374.7 143.3h0.8v0.8h-0.8zM355.3 167.7h0.8v0.8h-0.8zM348.5 166.7h0.8v0.8h-0.8zM416 173.2h0.8v0.8h-0.8zM348.8 110.5h0.8v0.8h-0.8zM398.4 196.4h0.8v0.8h-0.8zM351.2 151h0.8v0.8h-0.8zM452.5 126.5h0.8v0.8h-0.8zM414.6 146.2h0.8v0.8h-0.8zM367.9 187.6h0.8v0.8h-0.8zM380.4 159.6h0.8v0.8h-0.8zM404.2 115.8h0.8v0.8h-0.8zM342.6 125.6h0.8v0.8h-0.8zM424.4 124h0.8v0.8h-0.8zM361.1 175.8h0.8v0.8h-0.8zM447.5 132.9h0.8v0.8h-0.8zM432 175.8h0.8v0.8h-0.8zM395 142.2h0.8v0.8h-0.8zM443.4 126.8h0.8v0.8h-0.8zM346 168h0.8v0.8h-0.8zM379.5 111.7h0.8v0.8h-0.8zM369.8 196.7h0.8v0.8h-0.8zM455.4 172.3h0.8v0.8h-0.8zM374.6 107.8h0.8v0.8h-0.8zM377.6 192.2h0.8v0.8h-0.8zM424 131.4h0.8v0.8h-0.8zM424.6 157.7h0.8v0.8h-0.8zM418.2 136h0.8v0.8h-0.8zM351.2 141.4h0.8v0.8h-0.8zM455.9 145.1h0.8v0.8h-0.8zM370 188.2h0.8v0.8h-0.8zM396.2 151.7h0.8v0.8h-0.8zM401.5 188.8h0.8v0.8h-0.8zM456.6 132.9h0.8v0.8h-0.8zM399.3 154.3h0.8v0.8h-0.8zM364.7 151.7h0.8v0.8h-0.8zM423.4 170h0.8v0.8h-0.8zM404.1 179.2h0.8v0.8h-0.8zM388.6 123.8h0.8v0.8h-0.8zM429.9 137.5h0.8v0.8h-0.8zM422.5 196.4h0.8v0.8h-0.8zM369.4 120.2h0.8v0.8h-0.8zM441.1 191.5h0.8v0.8h-0.8zM376.8 162.6h0.8v0.8h-0.8zM354.2 122h0.8v0.8h-0.8zM423.3 130.4h0.8v0.8h-0.8zM368.8 185.4h0.8v0.8h-0.8zM353.7 152.9h0.8v0.8h-0.8zM382.9 196.2h0.8v0.8h-0.8zM338.5 105.8h0.8v0.8h-0.8zM374.1 141.9h0.8v0.8h-0.8zM424 153.6h0.8v0.8h-0.8zM379.6 132.7h0.8v0.8h-0.8zM437.2 187.6h0.8v0.8h-0.8zM355 128.2h0.8v0.8h-0.8zM374 143.8h0.8v0.8h-0.8zM434.7 193.1h0.8v0.8h-0.8zM375.9 116.1h0.8v0.8h-0.8zM395.3 189.2h0.8v0.8h-0.8zM419.1 138.9h0.8v0.8h-0.8zM445.4 112.1h0.8v0.8h-0.8zM438.8 178.8h0.8v0.8h-0.8zM390.5 111.6h0.8v0.8h-0.8zM344.1 140.4h0.8v0.8h-0.8zM451.6 169.3h0.8v0.8h-0.8zM390.6 119.4h0.8v0.8h-0.8zM379.4 134.9h0.8v0.8h-0.8zM398.7 169.5h0.8v0.8h-0.8zM418.7 159.3h0.8v0.8h-0.8zM357 138.7h0.8v0.8h-0.8zM409.2 192.1h0.8v0.8h-0.8zM370.4 113.3h0.8v0.8h-0.8zM440.7 191.2h0.8v0.8h-0.8zM409.2 127.8h0.8v0.8h-0.8zM433.7 188.5h0.8v0.8h-0.8zM405.9 178.8h0.8v0.8h-0.8zM390.7 169.1h0.8v0.8h-0.8zM390.3 153.4h0.8v0.8h-0.8zM445.6 169.3h0.8v0.8h-0.8zM393.6 128.8h0.8v0.8h-0.8zM429.5 181.1h0.8v0.8h-0.8zM389.2 130.2h0.8v0.8h-0.8zM374 172.8h0.8v0.8h-0.8zM360.5 140.9h0.8v0.8h-0.8zM408.3 118.5h0.8v0.8h-0.8zM428.6 106.4h0.8v0.8h-0.8zM360 144.2h0.8v0.8h-0.8zM372.3 168.5h0.8v0.8h-0.8zM431 194h0.8v0.8h-0.8zM402.6 125.1h0.8v0.8h-0.8zM454.8 175.4h0.8v0.8h-0.8zM339.2 110.9h0.8v0.8h-0.8zM378.2 192.6h0.8v0.8h-0.8zM448.9 114.1h0.8v0.8h-0.8zM409.9 149.3h0.8v0.8h-0.8zM392.7 117.3h0.8v0.8h-0.8zM404 175.8h0.8v0.8h-0.8zM378.9 123.7h0.8v0.8h-0.8zM350.8 183.4h0.8v0.8h-0.8zM406.7 123.8h0.8v0.8h-0.8zM357.8 159.7h0.8v0.8h-0.8zM378.5 123.3h0.8v0.8h-0.8zM351.3 127.4h0.8v0.8h-0.8zM387.4 166.2h0.8v0.8h-0.8zM355.3 128.5h0.8v0.8h-0.8zM434.7 128h0.8v0.8h-0.8zM396.6 132.3h0.8v0.8h-0.8zM342.9 158.7h0.8v0.8h-0.8zM410.1 191h0.8v0.8h-0.8zM395.3 106.1h0.8v0.8h-0.8zM356.1 151.5h0.8v0.8h-0.8zM415.9 108.7h0.8v0.8h-0.8zM370.5 112.3h0.8v0.8h-0.8zM381.8 187.9h0.8v0.8h-0.8zM411.7 148.4h0.8v0.8h-0.8zM441.3 157h0.8v0.8h-0.8zM451.8 125.4h0.8v0.8h-0.8zM431.3 131.2h0.8v0.8h-0.8zM411 125.3h0.8v0.8h-0.8zM442.7 188.6h0.8v0.8h-0.8zM431.9 143.1h0.8v0.8h-0.8zM419.4 119.7h0.8v0.8h-0.8zM450.1 179.4h0.8v0.8h-0.8zM402.6 116.6h0.8v0.8h-0.8zM406.3 162.5h0.8v0.8h-0.8zM397.6 142.5h0.8v0.8h-0.8zM342.1 123.7h0.8v0.8h-0.8zM420.1 194.4h0.8v0.8h-0.8zM418.1 179.7h0.8v0.8h-0.8zM362.6 116.6h0.8v0.8h-0.8zM456.7 141.8h0.8v0.8h-0.8zM366.6 136.7h0.8v0.8h-0.8zM362.6 108.6h0.8v0.8h-0.8zM446.8 134.4h0.8v0.8h-0.8zM431.6 187.3h0.8v0.8h-0.8zM409.4 181.7h0.8v0.8h-0.8zM455.4 179h0.8v0.8h-0.8zM356.1 111.7h0.8v0.8h-0.8zM402.6 123h0.8v0.8h-0.8zM446 146.5h0.8v0.8h-0.8zM404.3 126.3h0.8v0.8h-0.8zM358.5 165.1h0.8v0.8h-0.8zM400.9 126.2h0.8v0.8h-0.8zM421.6 148.4h0.8v0.8h-0.8zM351.3 111.7h0.8v0.8h-0.8zM356.1 138.3h0.8v0.8h-0.8zM356.2 124.1h0.8v0.8h-0.8zM386.2 106.2h0.8v0.8h-0.8zM450.3 126.1h0.8v0.8h-0.8zM424.9 197.3h0.8v0.8h-0.8zM390.1 193.9h0.8v0.8h-0.8zM360.8 158.7h0.8v0.8h-0.8zM396.7 154.1h0.8v0.8h-0.8zM435.6 168.2h0.8v0.8h-0.8zM383.8 187.8h0.8v0.8h-0.8zM413.3 196.1h0.8v0.8h-0.8zM339.3 155.7h0.8v0.8h-0.8zM404.5 164.3h0.8v0.8h-0.8zM439.7 127.1h0.8v0.8h-0.8zM368.8 172.6h0.8v0.8h-0.8zM415.9 137.6h0.8v0.8h-0.8zM432.7 189.5h0.8v0.8h-0.8zM373.5 160.6h0.8v0.8h-0.8zM443.7 173.7h0.8v0.8h-0.8zM373.4 154.7h0.8v0.8h-0.8zM388.7 182h0.8v0.8h-0.8zM411.4 153.4h0.8v0.8h-0.8zM448.8 194h0.8v0.8h-0.8zM390.5 140.2h0.8v0.8h-0.8zM352.5 139.2h0.8v0.8h-0.8zM413.8 166.7h0.8v0.8h-0.8zM353.4 187.3h0.8v0.8h-0.8zM339.1 150.9h0.8v0.8h-0.8zM427.6 143.4h0.8v0.8h-0.8zM364.9 126.2h0.8v0.8h-0.8zM401 132.3h0.8v0.8h-0.8zM389.7 120.8h0.8v0.8h-0.8zM360 130h0.8v0.8h-0.8zM376.8 166.9h0.8v0.8h-0.8zM450 157.4h0.8v0.8h-0.8zM403.2 197.9h0.8v0.8h-0.8zM400.9 116h0.8v0.8h-0.8zM348.4 185.9h0.8v0.8h-0.8zM392.6 152.6h0.8v0.8h-0.8zM454.3 142.1h0.8v0.8h-0.8zM392.9 124h0.8v0.8h-0.8zM366.8 168h0.8v0.8h-0.8zM404.2 135.3h0.8v0.8h-0.8zM401.6 132.8h0.8v0.8h-0.8zM393.8 155.9h0.8v0.8h-0.8zM452.6 128.7h0.8v0.8h-0.8zM387.4 139.1h0.8v0.8h-0.8zM446.9 177.4h0.8v0.8h-0.8zM377.9 116.1h0.8v0.8h-0.8zM344.9 191.4h0.8v0.8h-0.8zM428.9 151.1h0.8v0.8h-0.8zM362.5 147.9h0.8v0.8h-0.8zM412.9 158.7h0.8v0.8h-0.8zM345.5 170.8h0.8v0.8h-0.8zM444.1 123.5h0.8v0.8h-0.8zM398 191.6h0.8v0.8h-0.8zM356.1 171.6h0.8v0.8h-0.8zM402.5 187.1h0.8v0.8h-0.8zM397.2 180.7h0.8v0.8h-0.8zM434.3 128.3h0.8v0.8h-0.8zM378.8 150.6h0.8v0.8h-0.8zM348.6 138.3h0.8v0.8h-0.8zM428.9 176.4h0.8v0.8h-0.8zM395.6 121.5h0.8v0.8h-0.8zM358 194.1h0.8v0.8h-0.8zM435.6 185.9h0.8v0.8h-0.8zM388.7 126.1h0.8v0.8h-0.8zM381.8 187h0.8v0.8h-0.8zM441.2 165.2h0.8v0.8h-0.8zM404.1 155.8h0.8v0.8h-0.8zM428 132.4h0.8v0.8h-0.8zM365.3 151.9h0.8v0.8h-0.8zM449.4 115.2h0.8v0.8h-0.8zM359.2 119h0.8v0.8h-0.8zM450.3 194.9h0.8v0.8h-0.8zM372.7 197.8h0.8v0.8h-0.8zM435.4 167.6h0.8v0.8h-0.8zM385.3 140.2h0.8v0.8h-0.8zM422.6 108.3h0.8v0.8h-0.8zM404.5 167h0.8v0.8h-0.8zM426.8 138.3h0.8v0.8h-0.8zM403 124.5h0.8v0.8h-0.8zM408.2 127.8h0.8v0.8h-0.8zM455.6 177.8h0.8v0.8h-0.8zM367.4 163.2h0.8v0.8h-0.8zM422.6 160.4h0.8v0.8h-0.8zM428.9 134.9h0.8v0.8h-0.8zM403.3 177h0.8v0.8h-0.8zM427.7 120h0.8v0.8h-0.8zM397.4 112.3h0.8v0.8h-0.8zM435 114.7h0.8v0.8h-0.8zM431 173.9h0.8v0.8h-0.8zM373.4 183.9h0.8v0.8h-0.8zM340.6 159h0.8v0.8h-0.8zM383.2 110.8h0.8v0.8h-0.8zM354.6 157.4h0.8v0.8h-0.8zM429.4 160h0.8v0.8h-0.8zM350.4 142.6h0.8v0.8h-0.8zM341 170.3h0.8v0.8h-0.8zM406.2 152h0.8v0.8h-0.8zM426.5 110.6h0.8v0.8h-0.8zM448.1 123.7h0.8v0.8h-0.8zM374.2 111.6h0.8v0.8h-0.8zM444.3 162.4h0.8v0.8h-0.8zM419.2 148.3h0.8v0.8h-0.8zM345.4 120.2h0.8v0.8h-0.8zM377.5 140.5h0.8v0.8h-0.8zM393.4 143.7h0.8v0.8h-0.8zM373.6 137.9h0.8v0.8h-0.8zM400.4 142.1h0.8v0.8h-0.8zM441.2 117h0.8v0.8h-0.8zM366 148.3h0.8v0.8h-0.8zM395.8 148.2h0.8v0.8h-0.8zM396.3 178.4h0.8v0.8h-0.8zM361.2 113.5h0.8v0.8h-0.8zM419.2 166.2h0.8v0.8h-0.8zM431.2 107.3h0.8v0.8h-0.8zM453 105.7h0.8v0.8h-0.8zM444.9 170.6h0.8v0.8h-0.8zM356.6 114.5h0.8v0.8h-0.8zM361.6 120.4h0.8v0.8h-0.8zM373.8 196.8h0.8v0.8h-0.8zM445 122.6h0.8v0.8h-0.8zM444.4 113h0.8v0.8h-0.8zM339.5 169.6h0.8v0.8h-0.8zM454.5 160.9h0.8v0.8h-0.8zM427.7 179.3h0.8v0.8h-0.8zM413.7 118.6h0.8v0.8h-0.8zM387.9 169.6h0.8v0.8h-0.8zM414.9 163.5h0.8v0.8h-0.8zM361.1 178.3h0.8v0.8h-0.8zM372.1 107.4h0.8v0.8h-0.8zM390.5 166.5h0.8v0.8h-0.8zM376.3 134.8h0.8v0.8h-0.8zM444.6 149.2h0.8v0.8h-0.8zM351.8 117.5h0.8v0.8h-0.8zM449.2 176.6h0.8v0.8h-0.8zM408.7 171.1h0.8v0.8h-0.8zM393.6 186.3h0.8v0.8h-0.8zM433.1 148.3h0.8v0.8h-0.8zM345 126.8h0.8v0.8h-0.8zM405.6 193.7h0.8v0.8h-0.8zM426.5 120h0.8v0.8h-0.8zM373.8 132.9h0.8v0.8h-0.8zM410.5 179.3h0.8v0.8h-0.8zM419.3 167.4h0.8v0.8h-0.8zM395.1 167.7h0.8v0.8h-0.8zM418.7 170.1h0.8v0.8h-0.8zM356.9 123.4h0.8v0.8h-0.8zM343.6 116.7h0.8v0.8h-0.8zM390.7 182.3h0.8v0.8h-0.8zM380 153h0.8v0.8h-0.8zM439.2 189.4h0.8v0.8h-0.8zM400.8 192.4h0.8v0.8h-0.8zM421 165.3h0.8v0.8h-0.8zM439 147.7h0.8v0.8h-0.8zM432.5 140.1h0.8v0.8h-0.8zM392.8 196.6h0.8v0.8h-0.8zM344.9 132.5h0.8v0.8h-0.8zM366.5 184.1h0.8v0.8h-0.8zM447.5 162.1h0.8v0.8h-0.8zM407.1 123.1h0.8v0.8h-0.8zM399.3 159.9h0.8v0.8h-0.8zM394.4 158.6h0.8v0.8h-0.8zM419.5 179.1h0.8v0.8h-0.8zM420.9 144.4h0.8v0.8h-0.8zM355.3 119.5h0.8v0.8h-0.8zM452.9 193.3h0.8v0.8h-0.8zM352.3 123h0.8v0.8h-0.8zM408.2 190.5h0.8v0.8h-0.8zM398.6 144.8h0.8v0.8h-0.8zM429.2 136.6h0.8v0.8h-0.8zM440.3 105.5h0.8v0.8h-0.8zM389.1 171.1h0.8v0.8h-0.8zM368.9 187.2h0.8v0.8h-0.8zM446.9 162.3h0.8v0.8h-0.8zM449.4 190.9h0.8v0.8h-0.8zM432.7 125.7h0.8v0.8h-0.8zM377.7 170h0.8v0.8h-0.8zM418.9 145.3h0.8v0.8h-0.8zM351.3 158.3h0.8v0.8h-0.8zM415.4 106.8h0.8v0.8h-0.8zM411.9 178.6h0.8v0.8h-0.8zM415.1 137.5h0.8v0.8h-0.8zM393.6 172.5h0.8v0.8h-0.8zM361.5 136.8h0.8v0.8h-0.8zM347.9 178.3h0.8v0.8h-0.8zM372.6 155.2h0.8v0.8h-0.8zM428.3 187.9h0.8v0.8h-0.8zM384.6 122.4h0.8v0.8h-0.8zM368.3 193.8h0.8v0.8h-0.8zM424.7 109.3h0.8v0.8h-0.8zM452 132.6h0.8v0.8h-0.8zM404.4 141.6h0.8v0.8h-0.8zM454.6 121.1h0.8v0.8h-0.8zM408.7 129.3h0.8v0.8h-0.8zM391.6 177.1h0.8v0.8h-0.8zM443.8 126.7h0.8v0.8h-0.8zM408.6 127h0.8v0.8h-0.8zM386.4 106.8h0.8v0.8h-0.8zM371.1 155.6h0.8v0.8h-0.8zM377.8 173.2h0.8v0.8h-0.8zM369.1 193.2h0.8v0.8h-0.8zM424.9 141.4h0.8v0.8h-0.8zM382.1 173.2h0.8v0.8h-0.8zM344.6 127.8h0.8v0.8h-0.8zM360.5 155.6h0.8v0.8h-0.8zM341.2 186.9h0.8v0.8h-0.8zM409.6 124.6h0.8v0.8h-0.8zM406.7 124.3h0.8v0.8h-0.8zM348.3 196.3h0.8v0.8h-0.8zM373 178.6h0.8v0.8h-0.8zM386.2 139.8h0.8v0.8h-0.8zM449.5 148.9h0.8v0.8h-0.8zM408.2 154h0.8v0.8h-0.8zM378.4 109.5h0.8v0.8h-0.8zM340.1 148h0.8v0.8h-0.8zM452.3 120.1h0.8v0.8h-0.8zM366.1 105.4h0.8v0.8h-0.8zM420.9 117.9h0.8v0.8h-0.8zM379.8 157.3h0.8v0.8h-0.8zM375.9 153.7h0.8v0.8h-0.8zM439.1 192.5h0.8v0.8h-0.8zM411.9 187.5h0.8v0.8h-0.8zM382.2 185.1h0.8v0.8h-0.8zM352.4 115.7h0.8v0.8h-0.8zM400.1 146.4h0.8v0.8h-0.8zM386.9 170.7h0.8v0.8h-0.8zM356.3 135.7h0.8v0.8h-0.8zM431.7 118h0.8v0.8h-0.8zM450.1 154.6h0.8v0.8h-0.8zM443.4 184.9h0.8v0.8h-0.8zM349 112.4h0.8v0.8h-0.8zM402 139.5h0.8v0.8h-0.8zM387.4 121h0.8v0.8h-0.8zM347.6 172.3h0.8v0.8h-0.8zM424.5 130.1h0.8v0.8h-0.8zM345.1 143.1h0.8v0.8h-0.8zM341.9 138.8h0.8v0.8h-0.8zM390.6 143.2h0.8v0.8h-0.8zM427.6 168.8h0.8v0.8h-0.8zM451.3 147.5h0.8v0.8h-0.8zM392.8 140.1h0.8v0.8h-0.8zM414.2 197.3h0.8v0.8h-0.8zM435.5 122.3h0.8v0.8h-0.8zM348.5 137.6h0.8v0.8h-0.8zM415.4 166.6h0.8v0.8h-0.8zM418.1 113.9h0.8v0.8h-0.8zM351.2 163.9h0.8v0.8h-0.8zM364.6 157.9h0.8v0.8h-0.8zM376 175.9h0.8v0.8h-0.8zM397.6 122.5h0.8v0.8h-0.8zM387.8 123.6h0.8v0.8h-0.8zM415.4 192.7h0.8v0.8h-0.8zM351.7 154.9h0.8v0.8h-0.8zM348.3 118.6h0.8v0.8h-0.8zM427.2 126.8h0.8v0.8h-0.8zM430.6 171.3h0.8v0.8h-0.8zM448.6 146.6h0.8v0.8h-0.8zM424 117h0.8v0.8h-0.8zM370.9 187.4h0.8v0.8h-0.8zM367.7 114.4h0.8v0.8h-0.8zM442.2 127.2h0.8v0.8h-0.8zM441.7 150.4h0.8v0.8h-0.8zM370.8 130.8h0.8v0.8h-0.8zM397.1 177.9h0.8v0.8h-0.8zM348.8 123.6h0.8v0.8h-0.8zM361.4 177.5h0.8v0.8h-0.8zM347 177.2h0.8v0.8h-0.8zM361.9 116.9h0.8v0.8h-0.8zM380.3 137.5h0.8v0.8h-0.8zM409 197.4h0.8v0.8h-0.8zM399.5 161.8h0.8v0.8h-0.8zM401 169.1h0.8v0.8h-0.8zM346.4 190.6h0.8v0.8h-0.8zM455.6 128h0.8v0.8h-0.8zM402.4 132.8h0.8v0.8h-0.8zM377.1 118.4h0.8v0.8h-0.8zM367 180.6h0.8v0.8h-0.8zM356.9 143.7h0.8v0.8h-0.8zM419.2 162.1h0.8v0.8h-0.8zM370.7 106.1h0.8v0.8h-0.8zM442.7 142.9h0.8v0.8h-0.8zM404.9 191.6h0.8v0.8h-0.8zM419.6 177.2h0.8v0.8h-0.8zM348.8 159.8h0.8v0.8h-0.8zM383.8 191h0.8v0.8h-0.8zM415.1 137.1h0.8v0.8h-0.8zM447.1 109.9h0.8v0.8h-0.8zM354.1 135.4h0.8v0.8h-0.8zM398.7 130h0.8v0.8h-0.8zM432.5 146.5h0.8v0.8h-0.8zM371.2 128.4h0.8v0.8h-0.8zM383.5 197.6h0.8v0.8h-0.8zM429 107.3h0.8v0.8h-0.8zM357.5 190.9h0.8v0.8h-0.8zM411.9 144.7h0.8v0.8h-0.8z" fill="#fff" opacity="0.7"/>
<path d="M420.2 134h0.8v0.8h-0.8zM386.1 140.6h0.8v0.8h-0.8zM390 157.3h0.8v0.8h-0.8zM378.9 135.3h0.8v0.8h-0.8zM414 118.4h0.8v0.8h-0.8zM374.1 154.8h0.8v0.8h-0.8zM351 163h0.8v0.8h-0.8zM430.7 183.5h0.8v0.8h-0.8zM366.7 165.7h0.8v0.8h-0.8zM358.7 126.6h0.8v0.8h-0.8zM349.6 137.4h0.8v0.8h-0.8zM360.1 172.3h0.8v0.8h-0.8zM382.1 186.9h0.8v0.8h-0.8zM361.7 148.3h0.8v0.8h-0.8zM421.4 128.6h0.8v0.8h-0.8zM389.2 121.1h0.8v0.8h-0.8zM406.6 125.3h0.8v0.8h-0.8zM347.9 118.2h0.8v0.8h-0.8zM367.2 111.1h0.8v0.8h-0.8zM435.4 168.8h0.8v0.8h-0.8zM413.9 193.2h0.8v0.8h-0.8zM411.5 110.6h0.8v0.8h-0.8zM450.6 193.1h0.8v0.8h-0.8zM426.8 164h0.8v0.8h-0.8zM354.6 186.8h0.8v0.8h-0.8zM426.7 184h0.8v0.8h-0.8zM454.3 193h0.8v0.8h-0.8zM413.4 190h0.8v0.8h-0.8zM341.3 190h0.8v0.8h-0.8zM345.1 127.2h0.8v0.8h-0.8zM401.2 122.4h0.8v0.8h-0.8zM365.2 173.9h0.8v0.8h-0.8zM396.6 114.3h0.8v0.8h-0.8zM402.6 178.6h0.8v0.8h-0.8zM427.2 121.6h0.8v0.8h-0.8zM429.3 167.7h0.8v0.8h-0.8zM365.8 151.2h0.8v0.8h-0.8zM411.3 159h0.8v0.8h-0.8zM431.2 118.1h0.8v0.8h-0.8zM435.9 168.2h0.8v0.8h-0.8zM434.1 185.5h0.8v0.8h-0.8zM411.5 135.5h0.8v0.8h-0.8zM451.3 121.1h0.8v0.8h-0.8zM388 142.7h0.8v0.8h-0.8zM436.6 127.6h0.8v0.8h-0.8zM344.6 183.7h0.8v0.8h-0.8zM403.1 193h0.8v0.8h-0.8zM451.8 173.9h0.8v0.8h-0.8zM396.8 107h0.8v0.8h-0.8zM403.9 158.4h0.8v0.8h-0.8zM376.2 165.7h0.8v0.8h-0.8zM338.6 167.7h0.8v0.8h-0.8zM388.8 134.9h0.8v0.8h-0.8zM362.7 135.8h0.8v0.8h-0.8zM456.3 120.4h0.8v0.8h-0.8zM391.3 124.7h0.8v0.8h-0.8zM444.1 148.9h0.8v0.8h-0.8zM358.3 178.2h0.8v0.8h-0.8zM364.7 109.5h0.8v0.8h-0.8zM422.5 105.6h0.8v0.8h-0.8zM430.2 137h0.8v0.8h-0.8zM383 142.5h0.8v0.8h-0.8zM373.2 196.9h0.8v0.8h-0.8zM438 192.2h0.8v0.8h-0.8zM383 192.8h0.8v0.8h-0.8zM451.8 164.1h0.8v0.8h-0.8zM421.5 173.2h0.8v0.8h-0.8zM366.9 115.9h0.8v0.8h-0.8zM382.3 136.6h0.8v0.8h-0.8zM345.8 124.1h0.8v0.8h-0.8zM338.5 138h0.8v0.8h-0.8zM453.5 113.3h0.8v0.8h-0.8zM398.3 197.1h0.8v0.8h-0.8zM368.4 172.2h0.8v0.8h-0.8zM395.9 191.1h0.8v0.8h-0.8zM343.6 163.9h0.8v0.8h-0.8zM418.3 153h0.8v0.8h-0.8zM426.9 165.3h0.8v0.8h-0.8zM381.3 138.4h0.8v0.8h-0.8zM428.8 170.5h0.8v0.8h-0.8zM369.1 187.5h0.8v0.8h-0.8zM407.4 106.2h0.8v0.8h-0.8zM395.4 137.2h0.8v0.8h-0.8zM456.3 169.4h0.8v0.8h-0.8zM413.2 110.8h0.8v0.8h-0.8zM395 105.3h0.8v0.8h-0.8zM353.4 187.4h0.8v0.8h-0.8zM372.9 160.6h0.8v0.8h-0.8zM352.7 186.1h0.8v0.8h-0.8zM366 107.6h0.8v0.8h-0.8zM348.9 188.7h0.8v0.8h-0.8zM347.4 133.1h0.8v0.8h-0.8zM371.6 168.4h0.8v0.8h-0.8zM446.5 164.4h0.8v0.8h-0.8zM342.4 117.9h0.8v0.8h-0.8zM369.8 154h0.8v0.8h-0.8zM339.8 184.5h0.8v0.8h-0.8zM447.2 157.7h0.8v0.8h-0.8zM394.9 146.5h0.8v0.8h-0.8zM339.4 145.9h0.8v0.8h-0.8zM405.5 191.9h0.8v0.8h-0.8zM402.6 197.6h0.8v0.8h-0.8zM361.3 152.4h0.8v0.8h-0.8zM419.3 107.3h0.8v0.8h-0.8zM375.7 181.5h0.8v0.8h-0.8zM374.9 185.5h0.8v0.8h-0.8zM348.8 140.9h0.8v0.8h-0.8zM455.8 118.3h0.8v0.8h-0.8zM418 135.5h0.8v0.8h-0.8zM398.8 151h0.8v0.8h-0.8zM432.9 158.1h0.8v0.8h-0.8zM424.6 181.6h0.8v0.8h-0.8zM420.1 134.6h0.8v0.8h-0.8zM397.3 151.4h0.8v0.8h-0.8zM456.2 111h0.8v0.8h-0.8zM358.9 179.7h0.8v0.8h-0.8zM339.8 185.9h0.8v0.8h-0.8zM449.6 106.8h0.8v0.8h-0.8zM388.2 163.6h0.8v0.8h-0.8zM388.2 148.1h0.8v0.8h-0.8zM455.7 187.2h0.8v0.8h-0.8zM423.1 114.1h0.8v0.8h-0.8zM434.7 177.3h0.8v0.8h-0.8zM434.1 162.4h0.8v0.8h-0.8zM414.1 197.5h0.8v0.8h-0.8zM388.4 180.2h0.8v0.8h-0.8zM441.7 150.4h0.8v0.8h-0.8zM379.5 150.3h0.8v0.8h-0.8zM374 193.5h0.8v0.8h-0.8zM451.1 180.9h0.8v0.8h-0.8zM395.6 156.1h0.8v0.8h-0.8zM432.7 178h0.8v0.8h-0.8zM441.8 173.5h0.8v0.8h-0.8zM430.4 153.4h0.8v0.8h-0.8zM446.6 127.8h0.8v0.8h-0.8zM344.3 153.8h0.8v0.8h-0.8zM424.6 115h0.8v0.8h-0.8zM425 189.4h0.8v0.8h-0.8zM369.7 146.9h0.8v0.8h-0.8zM456.9 156.1h0.8v0.8h-0.8zM407.5 140.8h0.8v0.8h-0.8zM422.1 168.5h0.8v0.8h-0.8zM355.9 115h0.8v0.8h-0.8zM413.8 134.5h0.8v0.8h-0.8zM407.5 143.8h0.8v0.8h-0.8zM433.5 154h0.8v0.8h-0.8zM437.5 167.2h0.8v0.8h-0.8zM389.1 191.9h0.8v0.8h-0.8zM444.8 192.2h0.8v0.8h-0.8zM370 172h0.8v0.8h-0.8zM362 147.2h0.8v0.8h-0.8zM437.3 160.7h0.8v0.8h-0.8zM340 123h0.8v0.8h-0.8zM395.5 141.7h0.8v0.8h-0.8zM387.3 158.9h0.8v0.8h-0.8zM423.6 139h0.8v0.8h-0.8zM427.3 173.6h0.8v0.8h-0.8zM454.5 141.7h0.8v0.8h-0.8zM432.8 192.9h0.8v0.8h-0.8zM438.6 148.9h0.8v0.8h-0.8zM385.6 192.8h0.8v0.8h-0.8zM366.8 152.3h0.8v0.8h-0.8zM341.6 187.8h0.8v0.8h-0.8zM426 160.4h0.8v0.8h-0.8zM452.5 113.6h0.8v0.8h-0.8zM420.5 123.9h0.8v0.8h-0.8zM386.7 135h0.8v0.8h-0.8zM425.5 137.1h0.8v0.8h-0.8zM355.8 135.3h0.8v0.8h-0.8zM377 115h0.8v0.8h-0.8zM383.1 188.7h0.8v0.8h-0.8zM409.9 172.4h0.8v0.8h-0.8zM400.3 150.6h0.8v0.8h-0.8zM455.7 189h0.8v0.8h-0.8zM383.9 186.3h0.8v0.8h-0.8zM425.4 138.8h0.8v0.8h-0.8zM344.1 174.4h0.8v0.8h-0.8zM408.8 176.8h0.8v0.8h-0.8zM398.4 139.7h0.8v0.8h-0.8zM375.9 167.4h0.8v0.8h-0.8zM359.1 169.4h0.8v0.8h-0.8zM354.7 147.6h0.8v0.8h-0.8zM355.4 134.7h0.8v0.8h-0.8zM430.5 145.3h0.8v0.8h-0.8zM436.2 140.6h0.8v0.8h-0.8zM438 195.1h0.8v0.8h-0.8zM365.3 109.2h0.8v0.8h-0.8zM450.4 156.7h0.8v0.8h-0.8zM417.4 140.9h0.8v0.8h-0.8zM348.9 194.1h0.8v0.8h-0.8zM347.5 192.1h0.8v0.8h-0.8zM427.3 121.1h0.8v0.8h-0.8zM368.8 113.3h0.8v0.8h-0.8zM393.5 182h0.8v0.8h-0.8zM410 106.9h0.8v0.8h-0.8zM403.1 170.2h0.8v0.8h-0.8zM434.5 176.1h0.8v0.8h-0.8zM421.4 122.6h0.8v0.8h-0.8zM423 113h0.8v0.8h-0.8zM422.7 165.7h0.8v0.8h-0.8zM407.1 123.8h0.8v0.8h-0.8zM409.5 123.9h0.8v0.8h-0.8zM451.5 159.3h0.8v0.8h-0.8zM367.9 133.8h0.8v0.8h-0.8zM432.5 138h0.8v0.8h-0.8zM342.2 181.1h0.8v0.8h-0.8zM446.6 193.7h0.8v0.8h-0.8zM391.7 123.4h0.8v0.8h-0.8zM379.3 141.6h0.8v0.8h-0.8zM415.9 177.2h0.8v0.8h-0.8zM442.4 116.9h0.8v0.8h-0.8zM405.1 184.5h0.8v0.8h-0.8zM453.3 143.2h0.8v0.8h-0.8zM353 119.8h0.8v0.8h-0.8zM426.7 177h0.8v0.8h-0.8zM456.5 130.5h0.8v0.8h-0.8zM373.1 105.1h0.8v0.8h-0.8zM348.4 129.2h0.8v0.8h-0.8zM409.1 171.1h0.8v0.8h-0.8zM373.2 117.5h0.8v0.8h-0.8zM385.7 120.9h0.8v0.8h-0.8zM441.3 124.5h0.8v0.8h-0.8zM348.1 145.7h0.8v0.8h-0.8zM377.1 139.6h0.8v0.8h-0.8zM429.1 151.4h0.8v0.8h-0.8zM371.6 119.4h0.8v0.8h-0.8zM402.8 154.4h0.8v0.8h-0.8zM391.3 133.9h0.8v0.8h-0.8zM365.2 182h0.8v0.8h-0.8zM388 121.7h0.8v0.8h-0.8zM385.8 139h0.8v0.8h-0.8zM363.7 117h0.8v0.8h-0.8zM349.5 181.6h0.8v0.8h-0.8zM364.5 129.6h0.8v0.8h-0.8zM451.4 176.7h0.8v0.8h-0.8zM431.5 172.6h0.8v0.8h-0.8zM433.8 174.1h0.8v0.8h-0.8zM356.1 147.5h0.8v0.8h-0.8zM449.2 154.9h0.8v0.8h-0.8zM399.3 188.5h0.8v0.8h-0.8zM403.4 181.7h0.8v0.8h-0.8z" fill="#111" opacity="0.7"/>
<path d="M392.6 142h0.8v0.8h-0.8zM418.2 148h0.8v0.8h-0.8zM388.2 196.3h0.8v0.8h-0.8zM350.9 168.9h0.8v0.8h-0.8zM348.7 153.4h0.8v0.8h-0.8zM381.8 137.6h0.8v0.8h-0.8zM437.9 135.6h0.8v0.8h-0.8zM378 159.9h0.8v0.8h-0.8zM431.7 125.8h0.8v0.8h-0.8zM354.7 109h0.8v0.8h-0.8zM371.9 120.8h0.8v0.8h-0.8zM338.6 190.8h0.8v0.8h-0.8zM410.3 144.6h0.8v0.8h-0.8zM432 173.3h0.8v0.8h-0.8zM345.5 140.2h0.8v0.8h-0.8zM386.2 156.6h0.8v0.8h-0.8zM358.7 139.9h0.8v0.8h-0.8zM368.6 154h0.8v0.8h-0.8zM352.2 108.9h0.8v0.8h-0.8zM451.8 112.4h0.8v0.8h-0.8zM401.6 189.1h0.8v0.8h-0.8zM436.9 155.3h0.8v0.8h-0.8zM396.3 141.7h0.8v0.8h-0.8zM452.9 167.7h0.8v0.8h-0.8zM394.9 135.7h0.8v0.8h-0.8zM371.2 116.2h0.8v0.8h-0.8zM403.7 162.6h0.8v0.8h-0.8zM425.9 180.1h0.8v0.8h-0.8zM428.6 176.5h0.8v0.8h-0.8zM438.8 140.9h0.8v0.8h-0.8zM427.9 117.1h0.8v0.8h-0.8zM388.1 186.2h0.8v0.8h-0.8zM409.6 195.5h0.8v0.8h-0.8zM384.6 158.6h0.8v0.8h-0.8zM381.7 110.6h0.8v0.8h-0.8zM399.3 146.3h0.8v0.8h-0.8zM379.9 166.5h0.8v0.8h-0.8zM414.6 161.3h0.8v0.8h-0.8zM434.3 176h0.8v0.8h-0.8zM446.3 108.7h0.8v0.8h-0.8zM386.6 150.9h0.8v0.8h-0.8zM415.9 117h0.8v0.8h-0.8zM431.1 189.9h0.8v0.8h-0.8zM360.8 138.9h0.8v0.8h-0.8zM410 114.8h0.8v0.8h-0.8zM390.6 168.6h0.8v0.8h-0.8zM408.9 154.4h0.8v0.8h-0.8zM360.9 159.8h0.8v0.8h-0.8zM393.7 130.6h0.8v0.8h-0.8zM345.2 108.6h0.8v0.8h-0.8zM382.6 137.1h0.8v0.8h-0.8zM401.2 135.6h0.8v0.8h-0.8zM374.9 197h0.8v0.8h-0.8zM445.8 108.6h0.8v0.8h-0.8zM416.3 169.6h0.8v0.8h-0.8zM353.6 121.4h0.8v0.8h-0.8zM345.2 192.1h0.8v0.8h-0.8zM352.6 193.9h0.8v0.8h-0.8zM446.5 127.8h0.8v0.8h-0.8zM448.1 190.3h0.8v0.8h-0.8zM447.2 145.1h0.8v0.8h-0.8zM386.5 185.1h0.8v0.8h-0.8zM367.5 175.7h0.8v0.8h-0.8zM416.8 132.7h0.8v0.8h-0.8zM385 138.6h0.8v0.8h-0.8zM367.7 187.6h0.8v0.8h-0.8zM448.4 123.9h0.8v0.8h-0.8zM402.8 164h0.8v0.8h-0.8zM364.8 143.8h0.8v0.8h-0.8zM369.7 143.9h0.8v0.8h-0.8zM438.5 128.1h0.8v0.8h-0.8zM443.1 194.1h0.8v0.8h-0.8zM418.2 142.7h0.8v0.8h-0.8zM436.6 145.9h0.8v0.8h-0.8zM449.1 162h0.8v0.8h-0.8zM424.5 125.3h0.8v0.8h-0.8zM385.6 157h0.8v0.8h-0.8zM440.7 190.3h0.8v0.8h-0.8zM428.1 132.2h0.8v0.8h-0.8zM406.4 151.7h0.8v0.8h-0.8zM441.9 168.9h0.8v0.8h-0.8zM373.1 133.7h0.8v0.8h-0.8zM361.2 193.4h0.8v0.8h-0.8zM455.6 109.7h0.8v0.8h-0.8zM359.2 112.4h0.8v0.8h-0.8zM432.1 111.4h0.8v0.8h-0.8zM399.3 136.3h0.8v0.8h-0.8zM439.3 120.5h0.8v0.8h-0.8zM431.9 116h0.8v0.8h-0.8zM390.5 143.2h0.8v0.8h-0.8zM418.5 140.5h0.8v0.8h-0.8zM372.3 147.4h0.8v0.8h-0.8zM413.4 184.3h0.8v0.8h-0.8zM348.9 186.7h0.8v0.8h-0.8zM420.2 182.9h0.8v0.8h-0.8zM453.8 183.8h0.8v0.8h-0.8zM398.5 160.5h0.8v0.8h-0.8zM457 114.3h0.8v0.8h-0.8zM365 125.5h0.8v0.8h-0.8zM404.4 152.4h0.8v0.8h-0.8zM424.7 123.6h0.8v0.8h-0.8zM364.5 195.2h0.8v0.8h-0.8zM397.2 131.1h0.8v0.8h-0.8zM367.7 146.3h0.8v0.8h-0.8zM356 153.6h0.8v0.8h-0.8zM347.7 107.9h0.8v0.8h-0.8zM448.8 190.4h0.8v0.8h-0.8zM431.9 135.3h0.8v0.8h-0.8zM387.8 130.6h0.8v0.8h-0.8zM427.2 164.2h0.8v0.8h-0.8zM421 182.3h0.8v0.8h-0.8zM352.4 169.6h0.8v0.8h-0.8zM451.8 125.2h0.8v0.8h-0.8zM351.3 123.5h0.8v0.8h-0.8zM438.6 139.1h0.8v0.8h-0.8zM393.2 177.4h0.8v0.8h-0.8zM402.6 185.1h0.8v0.8h-0.8zM356.6 134.7h0.8v0.8h-0.8zM366.4 177.6h0.8v0.8h-0.8zM426.4 120.8h0.8v0.8h-0.8zM375.1 113.8h0.8v0.8h-0.8zM449.5 167.6h0.8v0.8h-0.8zM376.1 121.9h0.8v0.8h-0.8zM339.8 181h0.8v0.8h-0.8zM348.9 163.7h0.8v0.8h-0.8zM444.9 196.8h0.8v0.8h-0.8zM416.2 152h0.8v0.8h-0.8zM425.9 156.2h0.8v0.8h-0.8zM344.4 120.6h0.8v0.8h-0.8zM434.3 173.7h0.8v0.8h-0.8zM423.7 148.8h0.8v0.8h-0.8zM423.9 120.6h0.8v0.8h-0.8zM381.9 192.2h0.8v0.8h-0.8zM356 150.6h0.8v0.8h-0.8zM414.8 163.8h0.8v0.8h-0.8zM407.4 128.7h0.8v0.8h-0.8zM427.1 112.3h0.8v0.8h-0.8zM381.1 146.3h0.8v0.8h-0.8zM342 175.1h0.8v0.8h-0.8zM360.1 161.7h0.8v0.8h-0.8zM344.2 193.7h0.8v0.8h-0.8zM355.1 165.8h0.8v0.8h-0.8zM447.2 177.5h0.8v0.8h-0.8zM392.1 118h0.8v0.8h-0.8zM350.6 110.7h0.8v0.8h-0.8zM446.9 190h0.8v0.8h-0.8zM452.4 192.1h0.8v0.8h-0.8zM360.4 140.7h0.8v0.8h-0.8zM430.2 109h0.8v0.8h-0.8zM378.6 163h0.8v0.8h-0.8zM439.2 126h0.8v0.8h-0.8zM456.2 115.6h0.8v0.8h-0.8zM397.9 108.5h0.8v0.8h-0.8zM372.6 193h0.8v0.8h-0.8zM409.1 140.6h0.8v0.8h-0.8zM411 153.1h0.8v0.8h-0.8zM373.6 183.4h0.8v0.8h-0.8zM338.2 119.7h0.8v0.8h-0.8zM351.8 150.9h0.8v0.8h-0.8zM376.2 107.5h0.8v0.8h-0.8zM345.8 109.4h0.8v0.8h-0.8zM375.2 142.2h0.8v0.8h-0.8zM373.8 109.5h0.8v0.8h-0.8zM425 137.3h0.8v0.8h-0.8zM392.8 158.1h0.8v0.8h-0.8zM357.8 189.3h0.8v0.8h-0.8zM437.1 158.2h0.8v0.8h-0.8zM416.1 163.1h0.8v0.8h-0.8zM341.6 170.6h0.8v0.8h-0.8zM425.1 139.9h0.8v0.8h-0.8zM365.2 186.1h0.8v0.8h-0.8zM360.8 168.8h0.8v0.8h-0.8zM395.7 120.7h0.8v0.8h-0.8zM366.9 127.4h0.8v0.8h-0.8zM352.5 188.5h0.8v0.8h-0.8zM433.5 119.4h0.8v0.8h-0.8zM408.3 106.7h0.8v0.8h-0.8zM435.7 121.7h0.8v0.8h-0.8zM439.4 112.4h0.8v0.8h-0.8zM385.4 114.3h0.8v0.8h-0.8zM353.5 138.7h0.8v0.8h-0.8zM441.6 107.5h0.8v0.8h-0.8zM440.5 188.3h0.8v0.8h-0.8zM433.8 139.2h0.8v0.8h-0.8zM390 155.3h0.8v0.8h-0.8zM358.6 119.2h0.8v0.8h-0.8zM381.8 190.1h0.8v0.8h-0.8zM372 137.3h0.8v0.8h-0.8zM389.5 110.7h0.8v0.8h-0.8zM343.3 118.5h0.8v0.8h-0.8zM450.1 121.5h0.8v0.8h-0.8zM360.9 155.5h0.8v0.8h-0.8zM438.7 197.7h0.8v0.8h-0.8zM397.1 156.7h0.8v0.8h-0.8zM399.3 159.8h0.8v0.8h-0.8zM420.6 174.7h0.8v0.8h-0.8zM345.5 135.5h0.8v0.8h-0.8zM417.7 133.2h0.8v0.8h-0.8zM427.8 160.3h0.8v0.8h-0.8zM422.6 108.1h0.8v0.8h-0.8zM384.9 173.4h0.8v0.8h-0.8zM430 116.3h0.8v0.8h-0.8zM402.9 120.5h0.8v0.8h-0.8zM339.4 111h0.8v0.8h-0.8zM417.1 197.7h0.8v0.8h-0.8zM348.6 142.2h0.8v0.8h-0.8zM385.3 156.1h0.8v0.8h-0.8zM342.8 124.1h0.8v0.8h-0.8zM360.1 137.2h0.8v0.8h-0.8zM450.8 126.2h0.8v0.8h-0.8zM403 192.8h0.8v0.8h-0.8zM427.4 131.8h0.8v0.8h-0.8zM456.3 151.2h0.8v0.8h-0.8zM367.8 180.3h0.8v0.8h-0.8zM345.8 153.5h0.8v0.8h-0.8zM456.8 134.8h0.8v0.8h-0.8zM406.1 119.5h0.8v0.8h-0.8zM420.5 157.2h0.8v0.8h-0.8zM374.1 124.8h0.8v0.8h-0.8zM424.6 105.8h0.8v0.8h-0.8zM366.9 137.1h0.8v0.8h-0.8zM364.1 143.4h0.8v0.8h-0.8zM388.4 165.1h0.8v0.8h-0.8zM383.2 168.9h0.8v0.8h-0.8zM404.5 193.7h0.8v0.8h-0.8zM409.7 131.5h0.8v0.8h-0.8zM347 186.2h0.8v0.8h-0.8zM436.7 109.7h0.8v0.8h-0.8zM397.1 169.7h0.8v0.8h-0.8zM373.5 151.3h0.8v0.8h-0.8zM447.5 183.6h0.8v0.8h-0.8zM402.8 111.6h0.8v0.8h-0.8zM340.3 182.4h0.8v0.8h-0.8z" fill="#444" opacity="0.7"/>
<path d="M351.1 156.2h0.8v0.8h-0.8zM379 166.9h0.8v0.8h-0.8zM446.8 139h0.8v0.8h-0.8zM451.8 147.9h0.8v0.8h-0.8zM339.5 141.8h0.8v0.8h-0.8zM357.9 153.8h0.8v0.8h-0.8zM400.6 151.4h0.8v0.8h-0.8zM364.9 171.9h0.8v0.8h-0.8zM440.7 131h0.8v0.8h-0.8zM389.8 105.8h0.8v0.8h-0.8zM384.8 132.7h0.8v0.8h-0.8zM348.4 185.7h0.8v0.8h-0.8zM363.1 174.2h0.8v0.8h-0.8zM374.2 132.4h0.8v0.8h-0.8zM343.4 190.9h0.8v0.8h-0.8zM356.6 193.6h0.8v0.8h-0.8zM354.5 132.3h0.8v0.8h-0.8zM347.4 131.6h0.8v0.8h-0.8zM370.3 132h0.8v0.8h-0.8zM448.6 110h0.8v0.8h-0.8zM344.7 113h0.8v0.8h-0.8zM411.8 173.1h0.8v0.8h-0.8zM416.9 120.1h0.8v0.8h-0.8zM372.7 179.5h0.8v0.8h-0.8zM366 144.7h0.8v0.8h-0.8zM407.6 158.6h0.8v0.8h-0.8zM454.6 189.2h0.8v0.8h-0.8zM452.3 132.2h0.8v0.8h-0.8zM358.3 130.6h0.8v0.8h-0.8zM397.7 183.2h0.8v0.8h-0.8zM376.2 174.6h0.8v0.8h-0.8zM361.6 167.3h0.8v0.8h-0.8zM448.5 105.1h0.8v0.8h-0.8zM421.9 189.4h0.8v0.8h-0.8zM446.5 113.4h0.8v0.8h-0.8zM440 172.5h0.8v0.8h-0.8zM357.2 140.7h0.8v0.8h-0.8zM443.2 169.9h0.8v0.8h-0.8zM428.7 136.3h0.8v0.8h-0.8zM449.3 191.4h0.8v0.8h-0.8zM417.6 107.7h0.8v0.8h-0.8zM452.8 117.5h0.8v0.8h-0.8zM439.9 154.5h0.8v0.8h-0.8zM375.7 131.1h0.8v0.8h-0.8zM343.9 193.2h0.8v0.8h-0.8zM359.9 187.8h0.8v0.8h-0.8zM421.9 189.6h0.8v0.8h-0.8zM417.2 177.4h0.8v0.8h-0.8zM376.6 161.1h0.8v0.8h-0.8zM415.5 151.2h0.8v0.8h-0.8zM434.5 117.9h0.8v0.8h-0.8zM343.3 131.4h0.8v0.8h-0.8zM411.8 156.2h0.8v0.8h-0.8zM395.3 144.4h0.8v0.8h-0.8zM430.2 170.6h0.8v0.8h-0.8zM437.1 177.9h0.8v0.8h-0.8zM377.3 114.6h0.8v0.8h-0.8zM401.7 131.4h0.8v0.8h-0.8zM413.5 169h0.8v0.8h-0.8zM399.1 123.3h0.8v0.8h-0.8zM390.7 105.2h0.8v0.8h-0.8zM338.3 163.7h0.8v0.8h-0.8zM385 128.9h0.8v0.8h-0.8zM371.6 147.1h0.8v0.8h-0.8zM368 177.8h0.8v0.8h-0.8zM348.3 118.1h0.8v0.8h-0.8zM441.1 181.4h0.8v0.8h-0.8zM432.4 115.9h0.8v0.8h-0.8zM362.8 122h0.8v0.8h-0.8zM374.7 123.5h0.8v0.8h-0.8zM426.2 179.1h0.8v0.8h-0.8zM379.3 121.9h0.8v0.8h-0.8zM368.9 123.5h0.8v0.8h-0.8zM362.7 154.9h0.8v0.8h-0.8zM427.9 174.2h0.8v0.8h-0.8zM455.4 139.2h0.8v0.8h-0.8zM417.5 167.7h0.8v0.8h-0.8zM426.6 157.7h0.8v0.8h-0.8zM361.6 190.8h0.8v0.8h-0.8zM444.7 159.2h0.8v0.8h-0.8zM348.7 107.8h0.8v0.8h-0.8zM404 128.1h0.8v0.8h-0.8zM395.6 155.5h0.8v0.8h-0.8zM391.3 191.8h0.8v0.8h-0.8zM360.9 151.6h0.8v0.8h-0.8zM424.9 183.3h0.8v0.8h-0.8zM422.3 156.7h0.8v0.8h-0.8zM409.3 125.5h0.8v0.8h-0.8zM434.2 124.8h0.8v0.8h-0.8zM409.4 187.6h0.8v0.8h-0.8zM393.1 128h0.8v0.8h-0.8zM422.5 141.2h0.8v0.8h-0.8zM376.4 159.4h0.8v0.8h-0.8zM367.2 138.8h0.8v0.8h-0.8zM354.9 124.2h0.8v0.8h-0.8zM342.2 160.4h0.8v0.8h-0.8zM392.4 184.3h0.8v0.8h-0.8zM439.2 119.9h0.8v0.8h-0.8zM351.8 149.1h0.8v0.8h-0.8zM454 158.2h0.8v0.8h-0.8zM433.6 196.8h0.8v0.8h-0.8zM376.4 115.9h0.8v0.8h-0.8zM413.1 129.3h0.8v0.8h-0.8zM415.3 160.9h0.8v0.8h-0.8zM344.8 114.8h0.8v0.8h-0.8zM369 192.2h0.8v0.8h-0.8zM401.7 183.2h0.8v0.8h-0.8zM382.8 162.7h0.8v0.8h-0.8zM409.8 143.3h0.8v0.8h-0.8zM399.6 109.1h0.8v0.8h-0.8zM354.5 171.2h0.8v0.8h-0.8zM446.7 197.4h0.8v0.8h-0.8zM360.9 127.7h0.8v0.8h-0.8zM446.9 115.6h0.8v0.8h-0.8zM447.6 132h0.8v0.8h-0.8zM404.1 173.2h0.8v0.8h-0.8zM353.5 109.8h0.8v0.8h-0.8zM419.1 166.4h0.8v0.8h-0.8zM415.7 137.6h0.8v0.8h-0.8zM443.9 113.8h0.8v0.8h-0.8zM443.1 136h0.8v0.8h-0.8zM423 191.8h0.8v0.8h-0.8zM341.9 194.6h0.8v0.8h-0.8zM445.6 172.5h0.8v0.8h-0.8zM401.8 187.5h0.8v0.8h-0.8zM412.7 113.1h0.8v0.8h-0.8zM377.3 185.9h0.8v0.8h-0.8zM404.9 177h0.8v0.8h-0.8zM399.9 146.1h0.8v0.8h-0.8zM355.7 176.5h0.8v0.8h-0.8zM427.5 125h0.8v0.8h-0.8zM402.5 142.2h0.8v0.8h-0.8zM432.6 145.2h0.8v0.8h-0.8zM449.9 142.7h0.8v0.8h-0.8zM448.5 109.9h0.8v0.8h-0.8zM410.5 118.6h0.8v0.8h-0.8zM426.5 135.1h0.8v0.8h-0.8zM380.2 143.5h0.8v0.8h-0.8zM376.5 171.3h0.8v0.8h-0.8zM416 106.6h0.8v0.8h-0.8zM344.6 187.5h0.8v0.8h-0.8zM369.7 112.5h0.8v0.8h-0.8zM411.8 112.6h0.8v0.8h-0.8zM361.1 142.3h0.8v0.8h-0.8zM399.7 145.1h0.8v0.8h-0.8zM405.8 111.1h0.8v0.8h-0.8zM360.5 145.2h0.8v0.8h-0.8zM412.5 160.5h0.8v0.8h-0.8zM428.7 171.4h0.8v0.8h-0.8zM399 122.4h0.8v0.8h-0.8zM409.2 187.7h0.8v0.8h-0.8zM448.2 122.3h0.8v0.8h-0.8zM373.9 125.2h0.8v0.8h-0.8zM362.1 111.3h0.8v0.8h-0.8zM394.6 144.7h0.8v0.8h-0.8zM360.7 125.9h0.8v0.8h-0.8zM353.8 139.7h0.8v0.8h-0.8zM437.7 122.8h0.8v0.8h-0.8zM392 155.5h0.8v0.8h-0.8zM434 119.6h0.8v0.8h-0.8zM437 140.3h0.8v0.8h-0.8zM427.8 107.4h0.8v0.8h-0.8zM344.8 122.7h0.8v0.8h-0.8zM383 181.1h0.8v0.8h-0.8zM377.1 123.1h0.8v0.8h-0.8zM389.3 113.4h0.8v0.8h-0.8zM448.4 125.2h0.8v0.8h-0.8zM357 128.7h0.8v0.8h-0.8zM350.1 194.4h0.8v0.8h-0.8zM405.3 116h0.8v0.8h-0.8zM344.5 128.5h0.8v0.8h-0.8zM344.9 144.1h0.8v0.8h-0.8zM341.9 135.1h0.8v0.8h-0.8zM408.9 130.9h0.8v0.8h-0.8zM429.7 195.2h0.8v0.8h-0.8zM436.2 154.1h0.8v0.8h-0.8zM417.2 160.8h0.8v0.8h-0.8zM391 124.7h0.8v0.8h-0.8zM346.3 166.7h0.8v0.8h-0.8zM451.4 140.4h0.8v0.8h-0.8zM435.6 136.4h0.8v0.8h-0.8zM446.8 183.5h0.8v0.8h-0.8zM432.7 133.7h0.8v0.8h-0.8zM384 173h0.8v0.8h-0.8zM389.8 146h0.8v0.8h-0.8zM409.9 192.4h0.8v0.8h-0.8zM401.6 108.1h0.8v0.8h-0.8zM364 181.9h0.8v0.8h-0.8zM408.7 106.2h0.8v0.8h-0.8zM375.3 134.7h0.8v0.8h-0.8zM354 135.1h0.8v0.8h-0.8zM344.6 116.9h0.8v0.8h-0.8zM444.3 165.2h0.8v0.8h-0.8zM388.9 136.6h0.8v0.8h-0.8zM401 183h0.8v0.8h-0.8zM376.9 145.3h0.8v0.8h-0.8zM349.6 184.6h0.8v0.8h-0.8zM342.4 105.4h0.8v0.8h-0.8zM418.1 142.8h0.8v0.8h-0.8zM385.9 195.5h0.8v0.8h-0.8zM424 133.9h0.8v0.8h-0.8zM448.2 118.4h0.8v0.8h-0.8zM349.9 152.8h0.8v0.8h-0.8zM411.6 180.6h0.8v0.8h-0.8zM447.6 140.9h0.8v0.8h-0.8zM341 130.8h0.8v0.8h-0.8zM346.8 109.6h0.8v0.8h-0.8zM380.5 188.1h0.8v0.8h-0.8zM420.4 140.7h0.8v0.8h-0.8zM341.7 169h0.8v0.8h-0.8zM365.6 197.4h0.8v0.8h-0.8zM441.5 155.1h0.8v0.8h-0.8zM398 193.9h0.8v0.8h-0.8zM392.9 148.3h0.8v0.8h-0.8zM389.1 191.3h0.8v0.8h-0.8zM356.7 150.2h0.8v0.8h-0.8zM377.6 179.2h0.8v0.8h-0.8zM359.6 166h0.8v0.8h-0.8zM456.8 116.2h0.8v0.8h-0.8zM387.2 195h0.8v0.8h-0.8zM418.4 151.2h0.8v0.8h-0.8zM397.2 183.9h0.8v0.8h-0.8zM375.8 129.7h0.8v0.8h-0.8zM396.6 194.9h0.8v0.8h-0.8zM343.4 113.4h0.8v0.8h-0.8zM449.6 128.7h0.8v0.8h-0.8zM450.5 115.5h0.8v0.8h-0.8zM389.2 171.5h0.8v0.8h-0.8zM395.4 175.6h0.8v0.8h-0.8zM403 169.8h0.8v0.8h-0.8z" fill="#ddd" opacity="0.7"/>
<rect x="330" y="100" width="140" height="100" fill="url(#gbg)"/>
</g>
<path d="M340.8,152.7 C340.8,148.5 342.0,144.8 343.2,140.8 C344.4,136.8 345.8,132.4 348.0,128.8 C350.2,125.2 353.4,121.8 356.4,119.2 C359.4,116.6 362.4,114.8 366.0,113.2 C369.6,111.6 373.6,110.6 378.0,109.6 C382.4,108.6 386.1,107.5 392.3,107.2 C398.5,106.9 408.2,106.4 415.0,107.5 C421.8,108.6 427.5,111.2 433.2,113.7 C438.9,116.2 445.6,119.0 449.2,122.8 C452.8,126.6 454.2,132.8 455.0,136.6 C455.8,140.4 455.9,143.0 453.8,145.7 C451.7,148.3 445.4,150.6 442.4,152.5 C439.3,154.4 437.0,154.8 435.5,157.1 C434.0,159.4 435.5,163.6 433.2,166.3 C430.9,169.0 426.8,171.6 421.8,173.1 C416.9,174.6 407.6,174.4 403.5,175.4 C399.4,176.4 399.7,178.1 397.1,179.1 C394.5,180.1 389.6,180.0 388.0,181.5 C386.4,183.0 387.9,185.7 387.5,188.0 C387.1,190.3 386.6,194.0 385.5,195.5 C384.4,197.0 382.2,197.2 381.0,196.8 C379.8,196.4 378.4,194.9 378.0,193.0 C377.6,191.1 379.7,187.2 378.5,185.5 C377.3,183.8 374.2,184.0 370.8,183.0 C367.4,182.0 361.6,181.0 358.0,179.5 C354.4,178.0 351.4,176.2 349.0,174.0 C346.6,171.8 344.9,169.6 343.5,166.0 C342.1,162.4 340.9,156.9 340.8,152.7Z" fill="none" stroke="#444" stroke-width="0.7"/>
<line x1="316" y1="91" x2="393" y2="107.5" stroke="#1c28b0" stroke-width="1.2"/>
<line x1="312" y1="205" x2="395" y2="173" stroke="#1c28b0" stroke-width="1.2"/>
<path d="M392.3,107.3 C393.8,106.7 399.0,106.4 403.3,106.4 C407.6,106.4 413.6,106.4 417.9,107.3 C422.1,108.2 425.4,110.4 428.8,111.9 C432.2,113.4 434.9,114.7 438.0,116.4 C441.1,118.1 444.7,119.8 447.1,121.9 C449.5,124.0 451.2,126.8 452.6,129.2 C454.0,131.6 455.0,134.1 455.3,136.5 C455.6,138.9 455.1,141.8 454.4,143.8 C453.6,145.8 452.6,147.3 450.8,148.4 C449.0,149.5 445.5,149.6 443.4,150.2 C441.3,150.8 439.4,151.0 438.0,152.1 C436.6,153.2 435.8,154.9 435.2,156.6 C434.6,158.3 435.1,160.3 434.3,162.1 C433.6,163.9 432.8,165.9 430.7,167.6 C428.6,169.3 424.6,171.0 421.5,172.1 C418.4,173.2 415.4,173.7 412.4,174.0 C409.4,174.3 405.7,174.5 403.3,174.0 C400.9,173.5 399.2,172.6 397.8,171.2 C396.4,169.8 395.3,167.6 395.0,165.8 C394.7,164.0 396.4,161.5 396.0,160.3 C395.6,159.1 392.2,159.6 392.3,158.4 C392.4,157.2 394.8,154.5 396.9,153.0 C399.0,151.5 403.1,150.5 405.1,149.3 C407.1,148.1 409.0,146.6 408.7,145.7 C408.4,144.8 405.1,144.4 403.3,143.8 C401.5,143.2 398.4,143.2 397.8,142.0 C397.2,140.8 397.8,137.7 399.6,136.5 C401.4,135.3 406.6,135.9 408.7,134.7 C410.8,133.5 412.7,131.3 412.4,129.2 C412.1,127.1 408.7,124.3 406.9,121.9 C405.1,119.5 403.5,116.6 401.4,114.6 C399.3,112.6 395.6,111.2 394.1,110.0 C392.6,108.8 390.8,107.9 392.3,107.3Z" fill="none" stroke="#1428d8" stroke-width="2.6" stroke-linejoin="round"/>
<line x1="424" y1="123.5" x2="537" y2="87.8" stroke="#c8323a" stroke-width="1.1"/>
<line x1="424" y1="127.5" x2="536.5" y2="208.5" stroke="#c8323a" stroke-width="1.1"/>
<circle cx="422.6" cy="125.5" r="2.6" fill="#f08080" stroke="#e0303a" stroke-width="1.6"/>
<path d="M480,136.5 L500,136.5 L500,127.4 L518,145.7 L500,164 L500,155 L480,155 Z" fill="#fff" stroke="#111" stroke-width="1.4" stroke-linejoin="miter"/>
<rect x="479.4" y="136" width="3" height="19.5" fill="#111"/><rect x="484.3" y="136.5" width="1.6" height="18.5" fill="#111"/>
<path d="M501,318.8 L481.5,318.8 L481.5,310 L463.2,328.1 L481.5,346.2 L481.5,336.7 L501,336.7 Z" fill="#fff" stroke="#111" stroke-width="1.4" stroke-linejoin="miter"/>
<rect x="498.9" y="318.3" width="2.8" height="19" fill="#111"/><rect x="495.8" y="318.8" width="1.3" height="18" fill="#111"/>
<path d="M277.5,319.2 L257.5,319.2 L257.5,310 L239.3,328.1 L257.5,346.2 L257.5,337.1 L277.5,337.1 Z" fill="#fff" stroke="#111" stroke-width="1.4" stroke-linejoin="miter"/>
<rect x="274.8" y="318.7" width="2.9" height="19" fill="#111"/><rect x="272.3" y="319.2" width="1.3" height="18" fill="#111"/>
<path d="M590.4,227.5 L609,227.5 L609,247.6 L618.9,247.6 L600,266 L581.2,247.6 L590.4,247.6 Z" fill="#fff" stroke="#111" stroke-width="1.4"/>
<rect x="590" y="227.3" width="19.4" height="2.9" fill="#111"/><rect x="590.4" y="231.2" width="18.6" height="1.3" fill="#111"/>
<path d="M84,236.8 L84,216.2 L74.8,216.2 L92.9,198.3 L111.4,216.2 L101.8,216.2 L101.8,236.8 Z" fill="#fff" stroke="#111" stroke-width="1.4"/>
<rect x="83.6" y="233.6" width="18.6" height="3.3" fill="#111"/><rect x="84" y="231.2" width="17.8" height="1.2" fill="#111"/>
<rect x="537" y="87.3" width="123.5" height="123" fill="#f3f3f3" stroke="#6a6a6a" stroke-width="1"/>
<g stroke="#505050" stroke-width="1.25">
<line x1="552.6" y1="102.3" x2="578.8" y2="128.1"/>
<line x1="552.6" y1="193.8" x2="578.6" y2="168.6"/>
<line x1="552.5" y1="102.3" x2="578.8" y2="128.2"/>
<line x1="645.7" y1="102.3" x2="620.0" y2="128.0"/>
<line x1="558.8" y1="102.3" x2="580.3" y2="126.7"/>
<line x1="558.8" y1="193.8" x2="580.1" y2="170.1"/>
<line x1="552.5" y1="108.4" x2="577.4" y2="129.7"/>
<line x1="645.7" y1="108.4" x2="621.4" y2="129.5"/>
<line x1="565.0" y1="102.3" x2="582.1" y2="125.3"/>
<line x1="565.0" y1="193.8" x2="581.9" y2="171.6"/>
<line x1="552.5" y1="114.5" x2="576.0" y2="131.5"/>
<line x1="645.7" y1="114.5" x2="622.9" y2="131.3"/>
<line x1="571.2" y1="102.3" x2="584.4" y2="123.8"/>
<line x1="571.2" y1="193.8" x2="584.1" y2="173.1"/>
<line x1="552.5" y1="120.6" x2="574.6" y2="133.7"/>
<line x1="645.7" y1="120.6" x2="624.3" y2="133.5"/>
<line x1="577.4" y1="102.3" x2="587.0" y2="122.3"/>
<line x1="577.4" y1="193.8" x2="586.8" y2="174.6"/>
<line x1="552.5" y1="126.7" x2="573.2" y2="136.3"/>
<line x1="645.7" y1="126.7" x2="625.7" y2="136.1"/>
<line x1="583.6" y1="102.3" x2="590.1" y2="121.1"/>
<line x1="583.6" y1="193.8" x2="589.9" y2="175.9"/>
<line x1="552.5" y1="132.8" x2="572.0" y2="139.3"/>
<line x1="645.7" y1="132.8" x2="627.0" y2="139.2"/>
<line x1="589.8" y1="102.3" x2="593.5" y2="120.1"/>
<line x1="589.8" y1="193.8" x2="593.4" y2="176.9"/>
<line x1="552.5" y1="138.9" x2="571.1" y2="142.7"/>
<line x1="645.7" y1="138.9" x2="627.9" y2="142.6"/>
<line x1="596.0" y1="102.3" x2="597.3" y2="119.6"/>
<line x1="596.0" y1="193.8" x2="597.3" y2="177.4"/>
<line x1="552.5" y1="145.0" x2="570.6" y2="146.3"/>
<line x1="645.7" y1="145.0" x2="628.4" y2="146.3"/>
<line x1="602.2" y1="102.3" x2="601.2" y2="119.5"/>
<line x1="602.2" y1="193.8" x2="601.2" y2="177.4"/>
<line x1="552.5" y1="151.1" x2="570.5" y2="150.1"/>
<line x1="645.7" y1="151.1" x2="628.5" y2="150.1"/>
<line x1="608.4" y1="102.3" x2="605.0" y2="120.0"/>
<line x1="608.4" y1="193.8" x2="605.1" y2="177.0"/>
<line x1="552.5" y1="157.2" x2="571.0" y2="153.8"/>
<line x1="645.7" y1="157.2" x2="628.0" y2="153.9"/>
<line x1="614.6" y1="102.3" x2="608.5" y2="120.9"/>
<line x1="614.6" y1="193.8" x2="608.7" y2="176.0"/>
<line x1="552.5" y1="163.3" x2="571.8" y2="157.2"/>
<line x1="645.7" y1="163.3" x2="627.1" y2="157.3"/>
<line x1="620.8" y1="102.3" x2="611.6" y2="122.2"/>
<line x1="620.8" y1="193.8" x2="611.8" y2="174.7"/>
<line x1="552.5" y1="169.4" x2="573.0" y2="160.3"/>
<line x1="645.7" y1="169.4" x2="625.9" y2="160.4"/>
<line x1="627.0" y1="102.3" x2="614.3" y2="123.6"/>
<line x1="627.0" y1="193.8" x2="614.5" y2="173.3"/>
<line x1="552.5" y1="175.5" x2="574.3" y2="162.9"/>
<line x1="645.7" y1="175.5" x2="624.5" y2="163.1"/>
<line x1="633.2" y1="102.3" x2="616.6" y2="125.1"/>
<line x1="633.2" y1="193.8" x2="616.8" y2="171.8"/>
<line x1="552.5" y1="181.6" x2="575.8" y2="165.2"/>
<line x1="645.7" y1="181.6" x2="623.1" y2="165.4"/>
<line x1="639.4" y1="102.3" x2="618.5" y2="126.6"/>
<line x1="639.4" y1="193.8" x2="618.7" y2="170.3"/>
<line x1="552.5" y1="187.7" x2="577.2" y2="167.1"/>
<line x1="645.7" y1="187.7" x2="621.6" y2="167.3"/>
<line x1="645.6" y1="102.3" x2="620.0" y2="128.0"/>
<line x1="645.6" y1="193.8" x2="620.2" y2="168.8"/>
<line x1="552.5" y1="193.8" x2="578.6" y2="168.6"/>
<line x1="645.7" y1="193.8" x2="620.2" y2="168.8"/>
</g>
<circle cx="599.5" cy="148.5" r="29.5" fill="#f8f8f8" stroke="#707070" stroke-width="1"/>
<circle cx="599.5" cy="148.5" r="23" fill="#e4e4e4" stroke="#606060" stroke-width="1"/>
<g stroke="#555" stroke-width="0.8">
<line x1="622.0" y1="148.5" x2="615.5" y2="148.5"/>
<line x1="621.9" y1="150.9" x2="615.4" y2="150.2"/>
<line x1="621.5" y1="153.2" x2="615.2" y2="151.8"/>
<line x1="620.9" y1="155.5" x2="614.7" y2="153.4"/>
<line x1="620.1" y1="157.7" x2="614.1" y2="155.0"/>
<line x1="619.0" y1="159.7" x2="613.4" y2="156.5"/>
<line x1="617.7" y1="161.7" x2="612.4" y2="157.9"/>
<line x1="616.2" y1="163.6" x2="611.4" y2="159.2"/>
<line x1="614.6" y1="165.2" x2="610.2" y2="160.4"/>
<line x1="612.7" y1="166.7" x2="608.9" y2="161.4"/>
<line x1="610.8" y1="168.0" x2="607.5" y2="162.4"/>
<line x1="608.7" y1="169.1" x2="606.0" y2="163.1"/>
<line x1="606.5" y1="169.9" x2="604.4" y2="163.7"/>
<line x1="604.2" y1="170.5" x2="602.8" y2="164.2"/>
<line x1="601.9" y1="170.9" x2="601.2" y2="164.4"/>
<line x1="599.5" y1="171.0" x2="599.5" y2="164.5"/>
<line x1="597.1" y1="170.9" x2="597.8" y2="164.4"/>
<line x1="594.8" y1="170.5" x2="596.2" y2="164.2"/>
<line x1="592.5" y1="169.9" x2="594.6" y2="163.7"/>
<line x1="590.3" y1="169.1" x2="593.0" y2="163.1"/>
<line x1="588.3" y1="168.0" x2="591.5" y2="162.4"/>
<line x1="586.3" y1="166.7" x2="590.1" y2="161.4"/>
<line x1="584.4" y1="165.2" x2="588.8" y2="160.4"/>
<line x1="582.8" y1="163.6" x2="587.6" y2="159.2"/>
<line x1="581.3" y1="161.7" x2="586.6" y2="157.9"/>
<line x1="580.0" y1="159.8" x2="585.6" y2="156.5"/>
<line x1="578.9" y1="157.7" x2="584.9" y2="155.0"/>
<line x1="578.1" y1="155.5" x2="584.3" y2="153.4"/>
<line x1="577.5" y1="153.2" x2="583.8" y2="151.8"/>
<line x1="577.1" y1="150.9" x2="583.6" y2="150.2"/>
<line x1="577.0" y1="148.5" x2="583.5" y2="148.5"/>
<line x1="577.1" y1="146.2" x2="583.6" y2="146.8"/>
<line x1="577.5" y1="143.8" x2="583.8" y2="145.2"/>
<line x1="578.1" y1="141.5" x2="584.3" y2="143.6"/>
<line x1="578.9" y1="139.4" x2="584.9" y2="142.0"/>
<line x1="580.0" y1="137.3" x2="585.6" y2="140.5"/>
<line x1="581.3" y1="135.3" x2="586.6" y2="139.1"/>
<line x1="582.8" y1="133.4" x2="587.6" y2="137.8"/>
<line x1="584.4" y1="131.8" x2="588.8" y2="136.6"/>
<line x1="586.3" y1="130.3" x2="590.1" y2="135.6"/>
<line x1="588.2" y1="129.0" x2="591.5" y2="134.6"/>
<line x1="590.3" y1="127.9" x2="593.0" y2="133.9"/>
<line x1="592.5" y1="127.1" x2="594.6" y2="133.3"/>
<line x1="594.8" y1="126.5" x2="596.2" y2="132.9"/>
<line x1="597.1" y1="126.1" x2="597.8" y2="132.6"/>
<line x1="599.5" y1="126.0" x2="599.5" y2="132.5"/>
<line x1="601.8" y1="126.1" x2="601.2" y2="132.6"/>
<line x1="604.2" y1="126.5" x2="602.8" y2="132.8"/>
<line x1="606.4" y1="127.1" x2="604.4" y2="133.3"/>
<line x1="608.6" y1="127.9" x2="606.0" y2="133.9"/>
<line x1="610.7" y1="129.0" x2="607.5" y2="134.6"/>
<line x1="612.7" y1="130.3" x2="608.9" y2="135.6"/>
<line x1="614.6" y1="131.8" x2="610.2" y2="136.6"/>
<line x1="616.2" y1="133.4" x2="611.4" y2="137.8"/>
<line x1="617.7" y1="135.3" x2="612.4" y2="139.1"/>
<line x1="619.0" y1="137.2" x2="613.4" y2="140.5"/>
<line x1="620.1" y1="139.3" x2="614.1" y2="142.0"/>
<line x1="620.9" y1="141.5" x2="614.7" y2="143.6"/>
<line x1="621.5" y1="143.8" x2="615.1" y2="145.2"/>
<line x1="621.9" y1="146.1" x2="615.4" y2="146.8"/>
</g>
<g stroke="#b0b0b0" stroke-width="0.5">
<line x1="615.5" y1="148.5" x2="602.5" y2="148.5"/>
<line x1="615.3" y1="151.0" x2="602.5" y2="149.0"/>
<line x1="614.7" y1="153.4" x2="602.4" y2="149.4"/>
<line x1="613.8" y1="155.8" x2="602.2" y2="149.9"/>
<line x1="612.4" y1="157.9" x2="601.9" y2="150.3"/>
<line x1="610.8" y1="159.8" x2="601.6" y2="150.6"/>
<line x1="608.9" y1="161.4" x2="601.3" y2="150.9"/>
<line x1="606.8" y1="162.8" x2="600.9" y2="151.2"/>
<line x1="604.4" y1="163.7" x2="600.4" y2="151.4"/>
<line x1="602.0" y1="164.3" x2="600.0" y2="151.5"/>
<line x1="599.5" y1="164.5" x2="599.5" y2="151.5"/>
<line x1="597.0" y1="164.3" x2="599.0" y2="151.5"/>
<line x1="594.6" y1="163.7" x2="598.6" y2="151.4"/>
<line x1="592.2" y1="162.8" x2="598.1" y2="151.2"/>
<line x1="590.1" y1="161.4" x2="597.7" y2="150.9"/>
<line x1="588.2" y1="159.8" x2="597.4" y2="150.6"/>
<line x1="586.6" y1="157.9" x2="597.1" y2="150.3"/>
<line x1="585.2" y1="155.8" x2="596.8" y2="149.9"/>
<line x1="584.3" y1="153.4" x2="596.6" y2="149.4"/>
<line x1="583.7" y1="151.0" x2="596.5" y2="149.0"/>
<line x1="583.5" y1="148.5" x2="596.5" y2="148.5"/>
<line x1="583.7" y1="146.0" x2="596.5" y2="148.0"/>
<line x1="584.3" y1="143.6" x2="596.6" y2="147.6"/>
<line x1="585.2" y1="141.2" x2="596.8" y2="147.1"/>
<line x1="586.6" y1="139.1" x2="597.1" y2="146.7"/>
<line x1="588.2" y1="137.2" x2="597.4" y2="146.4"/>
<line x1="590.1" y1="135.6" x2="597.7" y2="146.1"/>
<line x1="592.2" y1="134.2" x2="598.1" y2="145.8"/>
<line x1="594.6" y1="133.3" x2="598.6" y2="145.6"/>
<line x1="597.0" y1="132.7" x2="599.0" y2="145.5"/>
<line x1="599.5" y1="132.5" x2="599.5" y2="145.5"/>
<line x1="602.0" y1="132.7" x2="600.0" y2="145.5"/>
<line x1="604.4" y1="133.3" x2="600.4" y2="145.6"/>
<line x1="606.8" y1="134.2" x2="600.9" y2="145.8"/>
<line x1="608.9" y1="135.6" x2="601.3" y2="146.1"/>
<line x1="610.8" y1="137.2" x2="601.6" y2="146.4"/>
<line x1="612.4" y1="139.1" x2="601.9" y2="146.7"/>
<line x1="613.8" y1="141.2" x2="602.2" y2="147.1"/>
<line x1="614.7" y1="143.6" x2="602.4" y2="147.6"/>
<line x1="615.3" y1="146.0" x2="602.5" y2="148.0"/>
</g>
<path d="M595.5,138.5 L603.5,158.5 M603.5,138.5 L595.5,158.5" stroke="#808080" stroke-width="1"/>
<line x1="577.5" y1="148.5" x2="621.5" y2="148.5" stroke="#fff" stroke-width="0.8"/>
<rect x="555" y="147" width="32" height="3" fill="#2a2a2a"/>
<g fill="#3a3a3a">
<rect x="549.5" y="99.3" width="4.8" height="5"/>
<rect x="549.5" y="191.8" width="4.8" height="5"/>
<rect x="549.5" y="99.3" width="5" height="4.8"/>
<rect x="643.7" y="99.3" width="5" height="4.8"/>
<rect x="555.8" y="99.3" width="4.8" height="5"/>
<rect x="555.8" y="191.8" width="4.8" height="5"/>
<rect x="549.5" y="105.5" width="5" height="4.8"/>
<rect x="643.7" y="105.5" width="5" height="4.8"/>
<rect x="562.1" y="99.3" width="4.8" height="5"/>
<rect x="562.1" y="191.8" width="4.8" height="5"/>
<rect x="549.5" y="111.7" width="5" height="4.8"/>
<rect x="643.7" y="111.7" width="5" height="4.8"/>
<rect x="568.4" y="99.3" width="4.8" height="5"/>
<rect x="568.4" y="191.8" width="4.8" height="5"/>
<rect x="549.5" y="117.8" width="5" height="4.8"/>
<rect x="643.7" y="117.8" width="5" height="4.8"/>
<rect x="574.7" y="99.3" width="4.8" height="5"/>
<rect x="574.7" y="191.8" width="4.8" height="5"/>
<rect x="549.5" y="124.0" width="5" height="4.8"/>
<rect x="643.7" y="124.0" width="5" height="4.8"/>
<rect x="581.0" y="99.3" width="4.8" height="5"/>
<rect x="581.0" y="191.8" width="4.8" height="5"/>
<rect x="549.5" y="130.2" width="5" height="4.8"/>
<rect x="643.7" y="130.2" width="5" height="4.8"/>
<rect x="587.3" y="99.3" width="4.8" height="5"/>
<rect x="587.3" y="191.8" width="4.8" height="5"/>
<rect x="549.5" y="136.4" width="5" height="4.8"/>
<rect x="643.7" y="136.4" width="5" height="4.8"/>
<rect x="593.6" y="99.3" width="4.8" height="5"/>
<rect x="593.6" y="191.8" width="4.8" height="5"/>
<rect x="549.5" y="142.6" width="5" height="4.8"/>
<rect x="643.7" y="142.6" width="5" height="4.8"/>
<rect x="599.8" y="99.3" width="4.8" height="5"/>
<rect x="599.8" y="191.8" width="4.8" height="5"/>
<rect x="549.5" y="148.7" width="5" height="4.8"/>
<rect x="643.7" y="148.7" width="5" height="4.8"/>
<rect x="606.1" y="99.3" width="4.8" height="5"/>
<rect x="606.1" y="191.8" width="4.8" height="5"/>
<rect x="549.5" y="154.9" width="5" height="4.8"/>
<rect x="643.7" y="154.9" width="5" height="4.8"/>
<rect x="612.4" y="99.3" width="4.8" height="5"/>
<rect x="612.4" y="191.8" width="4.8" height="5"/>
<rect x="549.5" y="161.1" width="5" height="4.8"/>
<rect x="643.7" y="161.1" width="5" height="4.8"/>
<rect x="618.7" y="99.3" width="4.8" height="5"/>
<rect x="618.7" y="191.8" width="4.8" height="5"/>
<rect x="549.5" y="167.3" width="5" height="4.8"/>
<rect x="643.7" y="167.3" width="5" height="4.8"/>
<rect x="625.0" y="99.3" width="4.8" height="5"/>
<rect x="625.0" y="191.8" width="4.8" height="5"/>
<rect x="549.5" y="173.5" width="5" height="4.8"/>
<rect x="643.7" y="173.5" width="5" height="4.8"/>
<rect x="631.3" y="99.3" width="4.8" height="5"/>
<rect x="631.3" y="191.8" width="4.8" height="5"/>
<rect x="549.5" y="179.6" width="5" height="4.8"/>
<rect x="643.7" y="179.6" width="5" height="4.8"/>
<rect x="637.6" y="99.3" width="4.8" height="5"/>
<rect x="637.6" y="191.8" width="4.8" height="5"/>
<rect x="549.5" y="185.8" width="5" height="4.8"/>
<rect x="643.7" y="185.8" width="5" height="4.8"/>
<rect x="643.9" y="99.3" width="4.8" height="5"/>
<rect x="643.9" y="191.8" width="4.8" height="5"/>
<rect x="549.5" y="192.0" width="5" height="4.8"/>
<rect x="643.7" y="192.0" width="5" height="4.8"/>
<rect x="595" y="89.3" width="8.5" height="7.5"/><rect x="595" y="199.5" width="8.5" height="7.5"/><rect x="540.5" y="144.3" width="8.5" height="7.5"/><rect x="649.5" y="144.3" width="8.5" height="7.5"/>
</g>
<rect x="524" y="276.5" width="155.5" height="106" fill="#ffffff"/>
<g>
<line x1="525" y1="278.5" x2="679" y2="278.5" stroke="#b0b0b0" stroke-width="0.7" stroke-dasharray="1.2 3.1 1.8 2.5 1.7 1.8 0.7 3.6 1.3 3.9 1.4 1.8 0.7 3.7 0.9 1.5 1.3 3.2 1.4 1.1" stroke-dashoffset="15.6"/>
<line x1="525" y1="280.9" x2="679" y2="280.9" stroke="#555" stroke-width="1.4" stroke-dasharray="13.6 0.6 8.9 0.5 6.3 0.8 11.3 0.3 11.3 0.6 13.0 0.7 6.5 0.4 11.6 0.6 14.0 0.7 16.6 0.3" stroke-dashoffset="17.0"/>
<line x1="525" y1="283.6" x2="679" y2="283.6" stroke="#8a8a8a" stroke-width="1.2" stroke-dasharray="1.9 0.8 2.7 0.7 3.9 1.0 2.1 1.0 2.5 0.6 2.7 1.3 1.2 0.6 3.2 0.8 3.4 0.4 2.8 0.8 2.9 0.5 1.7 0.7" stroke-dashoffset="8.5"/>
<line x1="525" y1="285.9" x2="679" y2="285.9" stroke="#666" stroke-width="1.1" stroke-dasharray="4.8 0.4 8.8 0.6 13.5 0.4 14.8 0.6 16.5 0.4 7.7 0.4 4.7 0.5 5.1 0.4 8.6 0.4 12.0 0.5" stroke-dashoffset="6.8"/>
<line x1="525" y1="287.5" x2="679" y2="287.5" stroke="#555" stroke-width="1.1" stroke-dasharray="13.9 0.3 14.9 0.4 9.0 0.6 4.1 0.5 13.2 0.8 16.8 0.6 13.8 0.3 8.1 0.3 6.7 0.4 7.7 0.4" stroke-dashoffset="12.7"/>
<line x1="525" y1="289.2" x2="679" y2="289.2" stroke="#7a7a7a" stroke-width="1.2" stroke-dasharray="3.5 0.8 1.2 0.9 2.9 0.8 3.2 0.7 3.4 1.4 3.5 0.5 2.3 1.0 2.1 0.6 2.8 0.5 1.5 0.9 4.0 0.8 3.9 1.1" stroke-dashoffset="12.9"/>
<line x1="525" y1="291.9" x2="679" y2="291.9" stroke="#9a9a9a" stroke-width="1.0" stroke-dasharray="2.4 1.3 3.6 0.4 3.8 0.4 2.9 0.5 3.3 0.9 1.4 1.3 1.7 1.4 2.2 1.0 2.3 1.2 2.1 1.0 1.7 0.8 1.3 0.7" stroke-dashoffset="5.6"/>
<line x1="525" y1="294.3" x2="679" y2="294.3" stroke="#555" stroke-width="1.1" stroke-dasharray="17.6 0.6 5.2 0.7 14.6 0.6 17.5 0.6 5.9 0.3 5.3 0.5 11.7 0.7 5.0 0.3 5.3 0.5 17.1 0.7" stroke-dashoffset="0.9"/>
<line x1="525" y1="296.6" x2="679" y2="296.6" stroke="#555" stroke-width="1.1" stroke-dasharray="8.5 0.4 8.1 0.4 8.8 0.6 11.9 0.7 7.9 0.3 12.0 0.5 6.9 0.5 17.2 0.6 14.0 0.3 11.6 0.6" stroke-dashoffset="17.3"/>
<line x1="525" y1="299.2" x2="679" y2="299.2" stroke="#555" stroke-width="1.1" stroke-dasharray="14.8 0.5 17.0 0.8 14.5 0.3 13.1 0.4 9.9 0.4 8.2 0.3 11.6 0.3 7.4 0.7 8.1 0.6 16.1 0.6" stroke-dashoffset="16.4"/>
<line x1="525" y1="301.9" x2="679" y2="301.9" stroke="#555" stroke-width="1.4" stroke-dasharray="17.9 0.8 8.5 0.8 5.2 0.4 16.1 0.4 16.1 0.4 14.8 0.4 11.0 0.6 11.8 0.7 4.5 0.7 15.9 0.6" stroke-dashoffset="4.7"/>
<line x1="525" y1="304.4" x2="679" y2="304.4" stroke="#666" stroke-width="1.1" stroke-dasharray="14.8 0.7 15.5 0.5 4.2 0.3 11.7 0.3 12.7 0.4 14.9 0.3 13.7 0.4 18.0 0.5 11.2 0.7 8.0 0.8" stroke-dashoffset="5.9"/>
<line x1="525" y1="306.1" x2="679" y2="306.1" stroke="#666" stroke-width="1.7" stroke-dasharray="12.4 0.3 16.7 0.7 14.4 0.8 4.7 0.6 16.0 0.4 9.8 0.4 17.0 0.5 15.6 0.4 12.4 0.7 8.8 0.4" stroke-dashoffset="1.7"/>
<line x1="525" y1="308.4" x2="679" y2="308.4" stroke="#555" stroke-width="1.4" stroke-dasharray="12.0 0.6 5.7 0.7 10.8 0.6 7.3 0.7 13.2 0.5 15.1 0.5 16.4 0.4 12.3 0.5 12.9 0.5 5.1 0.5" stroke-dashoffset="9.4"/>
<line x1="525" y1="310.2" x2="679" y2="310.2" stroke="#666" stroke-width="1.7" stroke-dasharray="16.3 0.8 7.6 0.4 12.0 0.3 5.4 0.3 8.2 0.5 6.7 0.6 14.6 0.7 11.6 0.7 15.1 0.7 8.4 0.6" stroke-dashoffset="16.5"/>
<line x1="525" y1="312.1" x2="679" y2="312.1" stroke="#555" stroke-width="1.1" stroke-dasharray="12.4 0.4 10.2 0.4 5.6 0.7 8.6 0.8 14.3 0.6 10.8 0.6 15.4 0.4 11.6 0.4 6.6 0.4 15.0 0.8" stroke-dashoffset="8.7"/>
<line x1="525" y1="313.9" x2="679" y2="313.9" stroke="#666" stroke-width="1.7" stroke-dasharray="9.2 0.7 11.4 0.5 12.8 0.4 9.2 0.5 4.9 0.5 12.0 0.6 7.7 0.3 12.0 0.4 4.1 0.8 14.2 0.8" stroke-dashoffset="6.4"/>
<line x1="525" y1="316.4" x2="679" y2="316.4" stroke="#b0b0b0" stroke-width="0.7" stroke-dasharray="1.4 1.1 0.9 2.1 1.2 2.7 0.8 1.7 0.5 2.2 0.7 1.7 0.5 3.5 0.8 2.5 1.4 1.1 1.3 3.4" stroke-dashoffset="4.8"/>
<line x1="525" y1="318.8" x2="679" y2="318.8" stroke="#9a9a9a" stroke-width="1.2" stroke-dasharray="2.1 1.0 3.0 0.9 3.2 1.2 3.3 0.9 1.4 0.6 1.9 1.0 1.2 0.7 1.4 1.0 1.6 1.3 1.2 0.8 3.2 1.3 2.2 1.4" stroke-dashoffset="17.6"/>
<line x1="525" y1="321.0" x2="679" y2="321.0" stroke="#555" stroke-width="1.1" stroke-dasharray="13.6 0.3 13.1 0.4 6.6 0.6 9.5 0.3 6.1 0.7 9.4 0.7 12.7 0.3 8.8 0.6 7.4 0.4 18.0 0.5" stroke-dashoffset="13.2"/>
<line x1="525" y1="323.2" x2="679" y2="323.2" stroke="#b0b0b0" stroke-width="0.7" stroke-dasharray="0.8 1.1 1.5 3.1 1.8 1.3 0.8 2.4 0.9 1.4 0.7 1.1 1.1 1.4 0.5 1.3 1.6 2.9 1.0 3.4" stroke-dashoffset="0.9"/>
<line x1="525" y1="325.3" x2="679" y2="325.3" stroke="#b0b0b0" stroke-width="0.7" stroke-dasharray="0.6 1.4 1.2 2.1 0.6 3.5 1.7 2.8 1.1 2.7 1.3 2.7 1.0 3.4 1.3 1.7 1.4 3.3 1.2 2.0" stroke-dashoffset="10.9"/>
<line x1="525" y1="327.7" x2="679" y2="327.7" stroke="#707070" stroke-width="1.4" stroke-dasharray="9.7 0.5 10.6 0.4 5.7 0.7 6.3 0.4 15.5 0.6 9.4 0.5 7.7 0.6 15.0 0.7 7.7 0.5 8.4 0.4" stroke-dashoffset="6.2"/>
<line x1="525" y1="329.3" x2="679" y2="329.3" stroke="#9a9a9a" stroke-width="1.2" stroke-dasharray="1.1 0.5 3.9 1.2 3.1 0.6 3.9 1.0 1.4 0.9 2.3 0.4 1.1 1.1 3.2 1.1 2.6 0.8 3.0 1.3 1.1 1.3 3.2 0.4" stroke-dashoffset="4.1"/>
<line x1="525" y1="330.9" x2="679" y2="330.9" stroke="#666" stroke-width="1.7" stroke-dasharray="7.7 0.6 9.6 0.4 17.6 0.4 5.2 0.5 15.5 0.7 10.4 0.5 6.0 0.7 14.6 0.4 13.4 0.7 9.0 0.4" stroke-dashoffset="14.9"/>
<line x1="525" y1="333.3" x2="679" y2="333.3" stroke="#555" stroke-width="1.4" stroke-dasharray="14.1 0.8 6.7 0.6 6.2 0.7 17.3 0.7 14.8 0.6 4.6 0.4 16.4 0.4 16.9 0.8 11.3 0.8 16.9 0.7" stroke-dashoffset="8.4"/>
<line x1="525" y1="335.4" x2="679" y2="335.4" stroke="#666" stroke-width="1.4" stroke-dasharray="13.7 0.6 7.2 0.3 16.2 0.5 15.5 0.7 16.0 0.7 14.2 0.7 17.2 0.8 16.3 0.5 16.9 0.3 6.6 0.7" stroke-dashoffset="10.9"/>
<line x1="525" y1="338.2" x2="679" y2="338.2" stroke="#555" stroke-width="1.1" stroke-dasharray="10.6 0.6 17.9 0.5 17.4 0.4 8.3 0.5 9.5 0.6 11.9 0.8 8.8 0.4 5.9 0.3 16.3 0.5 9.1 0.4" stroke-dashoffset="0.2"/>
<line x1="525" y1="340.2" x2="679" y2="340.2" stroke="#707070" stroke-width="1.7" stroke-dasharray="6.4 0.7 10.6 0.8 13.9 0.8 9.8 0.5 7.5 0.4 8.4 0.4 12.8 0.6 14.3 0.7 17.6 0.6 12.6 0.6" stroke-dashoffset="9.5"/>
<line x1="525" y1="342.2" x2="679" y2="342.2" stroke="#666" stroke-width="1.7" stroke-dasharray="15.7 0.7 11.2 0.6 15.3 0.6 15.3 0.6 17.6 0.3 15.9 0.7 12.0 0.6 15.8 0.7 10.8 0.5 4.6 0.6" stroke-dashoffset="9.5"/>
<line x1="525" y1="344.5" x2="679" y2="344.5" stroke="#707070" stroke-width="1.7" stroke-dasharray="12.2 0.4 14.9 0.8 15.4 0.4 12.5 0.4 5.4 0.6 13.4 0.4 8.8 0.5 17.3 0.5 5.3 0.4 13.7 0.6" stroke-dashoffset="3.1"/>
<line x1="525" y1="347.1" x2="679" y2="347.1" stroke="#8a8a8a" stroke-width="1.0" stroke-dasharray="2.3 0.5 3.8 0.6 1.9 1.1 1.9 0.8 3.3 1.1 2.5 1.3 4.0 1.0 2.0 1.3 2.9 0.7 3.7 1.2 3.9 0.6 3.0 0.8" stroke-dashoffset="3.1"/>
<line x1="525" y1="348.9" x2="679" y2="348.9" stroke="#b0b0b0" stroke-width="0.7" stroke-dasharray="0.8 3.1 1.3 2.7 1.8 2.5 1.8 2.3 1.5 2.3 2.0 2.1 0.8 1.8 1.2 1.9 1.7 1.6 1.2 2.8" stroke-dashoffset="0.2"/>
<line x1="525" y1="351.6" x2="679" y2="351.6" stroke="#666" stroke-width="1.4" stroke-dasharray="16.3 0.4 13.6 0.6 7.7 0.6 5.6 0.7 5.8 0.4 8.2 0.4 6.6 0.5 13.0 0.7 8.0 0.5 15.3 0.5" stroke-dashoffset="14.0"/>
<line x1="525" y1="354.3" x2="679" y2="354.3" stroke="#666" stroke-width="1.7" stroke-dasharray="15.1 0.8 4.1 0.8 9.8 0.7 6.9 0.6 14.5 0.7 13.7 0.3 16.8 0.3 15.5 0.6 12.7 0.4 15.0 0.7" stroke-dashoffset="5.0"/>
<line x1="525" y1="357.0" x2="679" y2="357.0" stroke="#555" stroke-width="1.1" stroke-dasharray="7.6 0.5 9.5 0.5 12.0 0.7 9.3 0.7 6.8 0.8 16.4 0.7 16.3 0.6 9.0 0.5 15.3 0.8 12.5 0.7" stroke-dashoffset="19.3"/>
<line x1="525" y1="358.6" x2="679" y2="358.6" stroke="#7a7a7a" stroke-width="1.0" stroke-dasharray="2.5 0.9 2.1 0.5 2.9 0.8 3.7 0.7 3.4 0.5 3.5 1.4 2.9 1.2 3.0 1.0 2.5 1.4 1.8 0.8 2.8 1.4 1.1 1.3" stroke-dashoffset="15.2"/>
<line x1="525" y1="361.2" x2="679" y2="361.2" stroke="#707070" stroke-width="1.4" stroke-dasharray="4.2 0.4 12.7 0.5 5.2 0.5 7.9 0.7 7.4 0.6 13.4 0.5 4.6 0.6 5.5 0.4 16.9 0.4 17.4 0.4" stroke-dashoffset="0.6"/>
<line x1="525" y1="362.8" x2="679" y2="362.8" stroke="#b0b0b0" stroke-width="0.7" stroke-dasharray="1.8 1.8 1.0 2.0 1.5 1.9 1.2 3.0 0.9 1.4 1.5 3.0 0.5 2.3 1.8 2.8 1.5 3.9 0.8 2.2" stroke-dashoffset="3.0"/>
<line x1="525" y1="365.5" x2="679" y2="365.5" stroke="#7a7a7a" stroke-width="1.2" stroke-dasharray="2.8 1.1 1.4 0.5 3.0 0.8 1.5 0.7 3.5 1.4 2.7 0.4 3.8 0.7 3.3 0.9 1.7 1.2 1.4 0.9 3.0 1.2 2.3 0.6" stroke-dashoffset="9.0"/>
<line x1="525" y1="367.8" x2="679" y2="367.8" stroke="#555" stroke-width="1.1" stroke-dasharray="4.8 0.5 8.8 0.5 7.6 0.7 10.4 0.6 5.6 0.6 12.9 0.4 8.7 0.4 11.7 0.3 17.8 0.5 17.0 0.3" stroke-dashoffset="15.0"/>
<line x1="525" y1="370.5" x2="679" y2="370.5" stroke="#666" stroke-width="1.4" stroke-dasharray="12.7 0.5 7.4 0.8 13.0 0.5 10.4 0.7 14.4 0.4 8.4 0.5 4.8 0.5 5.6 0.6 8.7 0.5 7.1 0.4" stroke-dashoffset="4.6"/>
</g>
<line x1="526" y1="277" x2="526" y2="380" stroke="#8080c0" stroke-width="1" stroke-dasharray="2 2"/>
<path d="M526.6,377 L527.4,360 L527.6,288 L529.6,288 L529.9,355 L531.1,368 L534.6,377 Z" fill="#111"/>
<path d="M541.2,377 L542.0,360 L542.2,281.5 L544.2,281.5 L544.5,355 L545.7,368 L549.2,377 Z" fill="#111"/>
<path d="M564.1,377 L564.9,360 L565.1,284 L567.1,284 L567.4,355 L568.6,368 L572.1,377 Z" fill="#111"/>
<path d="M600.8,377 L601.5999999999999,360 L601.8,278 L603.8,278 L604.0999999999999,355 L605.3,368 L608.8,377 Z" fill="#111"/>
<path d="M633.5,377 L634.3,360 L634.5,279 L636.5,279 L636.8,355 L638.0,368 L641.5,377 Z" fill="#111"/>
<path d="M646,377 L646.8,360 L647,281.5 L649,281.5 L649.3,355 L650.5,368 L654,377 Z" fill="#111"/>
<path d="M660,377 L660.8,360 L661,281.5 L663,281.5 L663.3,355 L664.5,368 L668,377 Z" fill="#111"/>
<path d="M524.5,374.5 L525.5,375.0 L526.5,373.9 L527.5,376.8 L528.5,375.2 L529.5,373.3 L530.5,375.6 L531.5,372.5 L532.5,377.0 L533.5,375.8 L534.5,373.5 L535.5,374.4 L536.5,376.6 L537.5,376.0 L538.5,376.0 L539.5,375.1 L540.5,373.4 L541.5,375.4 L542.5,375.1 L543.5,373.2 L544.5,372.8 L545.5,374.9 L546.5,376.6 L547.5,374.0 L548.5,375.4 L549.5,373.0 L550.5,376.5 L551.5,376.5 L552.5,373.9 L553.5,375.7 L554.5,375.8 L555.5,374.4 L556.5,376.5 L557.5,372.7 L558.5,373.8 L559.5,373.0 L560.5,376.2 L561.5,375.8 L562.5,373.5 L563.5,375.5 L564.5,374.8 L565.5,375.1 L566.5,374.4 L567.5,375.0 L568.5,375.0 L569.5,373.9 L570.5,374.2 L571.5,373.2 L572.5,375.3 L573.5,376.2 L574.5,373.5 L575.5,375.1 L576.5,374.3 L577.5,373.3 L578.5,372.8 L579.5,372.7 L580.5,375.8 L581.5,373.1 L582.5,373.8 L583.5,374.8 L584.5,373.4 L585.5,375.1 L586.5,374.6 L587.5,373.5 L588.5,375.6 L589.5,375.4 L590.5,376.8 L591.5,374.0 L592.5,376.0 L593.5,375.3 L594.5,375.1 L595.5,372.7 L596.5,373.9 L597.5,374.4 L598.5,372.7 L599.5,372.9 L600.5,376.2 L601.5,373.0 L602.5,375.0 L603.5,373.6 L604.5,374.9 L605.5,374.3 L606.5,373.7 L607.5,374.6 L608.5,373.8 L609.5,376.8 L610.5,374.6 L611.5,373.1 L612.5,375.8 L613.5,373.2 L614.5,375.8 L615.5,376.0 L616.5,376.7 L617.5,374.8 L618.5,375.9 L619.5,376.1 L620.5,376.2 L621.5,375.2 L622.5,376.5 L623.5,375.9 L624.5,374.2 L625.5,374.2 L626.5,376.3 L627.5,376.7 L628.5,374.2 L629.5,376.7 L630.5,376.1 L631.5,375.6 L632.5,374.0 L633.5,373.7 L634.5,373.8 L635.5,375.6 L636.5,374.6 L637.5,373.5 L638.5,373.2 L639.5,376.1 L640.5,373.4 L641.5,373.3 L642.5,374.9 L643.5,372.7 L644.5,374.3 L645.5,373.4 L646.5,376.4 L647.5,375.0 L648.5,374.7 L649.5,374.6 L650.5,372.6 L651.5,376.3 L652.5,376.8 L653.5,372.5 L654.5,375.0 L655.5,376.0 L656.5,376.3 L657.5,376.8 L658.5,376.6 L659.5,376.5 L660.5,373.2 L661.5,377.0 L662.5,376.9 L663.5,375.4 L664.5,376.5 L665.5,373.7 L666.5,374.4 L667.5,373.0 L668.5,374.6 L669.5,377.0 L670.5,375.7 L671.5,374.6 L672.5,373.9 L673.5,373.5 L674.5,374.4 L675.5,373.8 L676.5,374.7 L677.5,375.1 L678.5,374.3 L679,382 L524.5,382 Z" fill="#151515"/>
<path d="M641.3,377 L642.5,357.8 L643.7,377Z" fill="#151515"/>
<path d="M664.6999999999999,377 L665.9,371 L667.1,377Z" fill="#151515"/>
<path d="M630,377 L631,365 L632,377Z" fill="#151515"/>
<rect x="524" y="276.5" width="155" height="106" fill="none" stroke="#3a40b8" stroke-width="1.5"/>
<line x1="525" y1="269.5" x2="551.4" y2="269.5" stroke="#222" stroke-width="1.5"/>
<text x="538.7" y="266.9" font-family="Liberation Sans, sans-serif" font-size="8.5" fill="#222" text-anchor="middle" textLength="15.3" lengthAdjust="spacingAndGlyphs" >10 s</text>
<rect x="330.2" y="281.2" width="37.8" height="36.8" fill="#4a6fcb" stroke="#2a3a70" stroke-width="0.6"/>
<rect x="373.7" y="281.2" width="37.4" height="36.8" fill="#e03e92" stroke="#5a2a50" stroke-width="0.6"/>
<rect x="330.2" y="324.3" width="37.8" height="36.8" fill="#3aaa3e" stroke="#2a5030" stroke-width="0.6"/>
<rect x="373.7" y="324.3" width="37.4" height="36.8" fill="#f07e32" stroke="#704020" stroke-width="0.6"/>
<line x1="371.1" y1="279.6" x2="371.1" y2="362.7" stroke="#111" stroke-width="1.7"/>
<line x1="326.4" y1="320.8" x2="416" y2="320.8" stroke="#111" stroke-width="1.7"/>
<path d="M387.4,303.2 A24.6,24.6 0 1 0 389.6,338.8" fill="none" stroke="#15163a" stroke-width="3.4"/>
<path d="M395,300 L380.5,306.5 L393,311 Z" fill="#15163a" stroke="#15163a" stroke-width="1" stroke-linejoin="round"/>
<path d="M364.8,249.5 C364.3,242 368.5,238.5 373.5,238.5 C379.5,238.5 382.3,242 382.3,246 C382.3,251 377,253 374.5,255.5 C372.5,257.5 372,259.5 372,262.5" fill="none" stroke="#c0223e" stroke-width="6.4" stroke-linecap="round" stroke-linejoin="round"/>
<circle cx="371.8" cy="269.8" r="3.7" fill="#c0223e"/>
<rect x="26" y="343" width="120" height="32" fill="url(#hg)" mask="url(#mv)"/>
<clipPath id="cbc"><path d="M39.4,337.3 C39.8,334.3 41.2,330.1 43.0,326.5 C44.8,322.9 48.0,319.6 50.2,315.8 C52.4,312.0 53.6,307.4 56.2,303.8 C58.8,300.2 62.2,296.8 65.8,294.2 C69.4,291.6 72.5,289.6 77.7,288.2 C82.9,286.8 90.5,286.0 96.9,285.8 C103.3,285.6 110.5,286.2 116.1,287.0 C121.7,287.8 126.1,288.8 130.5,290.6 C134.9,292.4 139.1,295.0 142.5,297.8 C145.9,300.6 148.7,304.0 150.9,307.4 C153.1,310.8 154.9,315.0 155.7,318.2 C156.5,321.4 157.1,324.1 155.7,326.5 C154.3,328.9 150.7,330.7 147.3,332.5 C143.9,334.3 138.9,335.7 135.3,337.3 C131.7,338.9 128.9,339.7 125.7,342.1 C122.5,344.5 119.7,348.9 116.1,351.7 C112.5,354.5 107.7,356.9 104.1,358.9 C100.5,360.9 96.7,361.7 94.5,363.7 C92.3,365.7 92.3,370.7 90.9,370.9 C89.5,371.1 89.1,366.7 86.1,364.9 C83.1,363.1 78.0,361.5 73.0,360.1 C68.0,358.7 60.6,358.1 56.2,356.5 C51.8,354.9 49.2,352.5 46.6,350.5 C44.0,348.5 41.8,346.7 40.6,344.5 C39.4,342.3 39.0,340.3 39.4,337.3Z"/></clipPath>
<path d="M39.4,337.3 C39.8,334.3 41.2,330.1 43.0,326.5 C44.8,322.9 48.0,319.6 50.2,315.8 C52.4,312.0 53.6,307.4 56.2,303.8 C58.8,300.2 62.2,296.8 65.8,294.2 C69.4,291.6 72.5,289.6 77.7,288.2 C82.9,286.8 90.5,286.0 96.9,285.8 C103.3,285.6 110.5,286.2 116.1,287.0 C121.7,287.8 126.1,288.8 130.5,290.6 C134.9,292.4 139.1,295.0 142.5,297.8 C145.9,300.6 148.7,304.0 150.9,307.4 C153.1,310.8 154.9,315.0 155.7,318.2 C156.5,321.4 157.1,324.1 155.7,326.5 C154.3,328.9 150.7,330.7 147.3,332.5 C143.9,334.3 138.9,335.7 135.3,337.3 C131.7,338.9 128.9,339.7 125.7,342.1 C122.5,344.5 119.7,348.9 116.1,351.7 C112.5,354.5 107.7,356.9 104.1,358.9 C100.5,360.9 96.7,361.7 94.5,363.7 C92.3,365.7 92.3,370.7 90.9,370.9 C89.5,371.1 89.1,366.7 86.1,364.9 C83.1,363.1 78.0,361.5 73.0,360.1 C68.0,358.7 60.6,358.1 56.2,356.5 C51.8,354.9 49.2,352.5 46.6,350.5 C44.0,348.5 41.8,346.7 40.6,344.5 C39.4,342.3 39.0,340.3 39.4,337.3Z" fill="#151515" stroke="#b0b0b0" stroke-width="1.4"/>
<g clip-path="url(#cbc)" fill="none">
<path d="M40.7 286h8.4l0 0h3.1M84.8 304.1h10.5l0 0h6.7M80.9 307.1v4.4h7.4M40.9 320h11.6l6 -6h4.2M38.3 341.8h15l0 0h5.6M116.4 341.8h13.1l3 3h3.1M116.1 356.3h7.5l6 6h7.6M134.5 356.3v5.2h7.2M58.6 359.5h15.7l6 -6h4.2M158.2 362.8h7.5l0 0h7.3M74 365.6h9.4l3 -3h4.1" fill="none" stroke="#808080" stroke-width="0.7" />
<path d="M56.1 286h6l0 0h5.2M58.4 289h8.9l0 0h5.5M95.3 289h3.1l3 3h4.3M93 298.6h15.2l3 -3h5.3M137.3 301.5h8.6l6 6h2.2M43.5 307.1v5.2h5.6M146 307.1h13l6 -6h4.4M58.6 309.6h14.7l0 0h3.8M82.6 309.6h5.1l3 3h2.7M98.4 322.4h9.1l3 -3h7.4M139.2 322.4h15.4l6 -6h5M36.2 325.1h15.2l6 6h7.1M84.9 334.7h12.6l0 0h4.4M86.2 338.1h11.9l0 0h4.2M141.7 344.7h6.1l0 0h4.7M84.9 350.2h15l6 6h6.5M39.4 365.6h12.1l3 3h5.8M135.2 365.6h15.2l6 6h3.4" fill="none" stroke="#b0b0b0" stroke-width="0.7" />
<path d="M70.2 286h8.9l3 -3h2.9M152.9 292.6h8.1l6 6h3.7M114.3 309.6h12.3l6 -6h7.3M64.1 322.4h6.9l3 -3h7.3M62.9 331.1v-4.5h3.9M36.5 334.7h9.7l0 0h3.4M103.7 338.1h3.5l6 6h6.4M38.3 344.7h16l0 0h3.6M158.4 344.7h7.5l0 0h7.8" fill="none" stroke="#b0b0b0" stroke-width="1.1" />
<path d="M88.4 286h15.5l3 3h3M76.6 292.6h15.7l3 3h3M73.2 295.8h15.3l6 6h2.5M95.6 295.8h7l6 -6h7.5M105.8 304.1h11.2l0 0h4.3M92.1 312.8h9.7l3 -3h6M39 316.4h14.3l0 0h7.9M88.6 316.4h14.8l3 3h5.6M117.5 320h9.1l6 -6h2.5M57.6 328.4h7.1l6 -6h5.8M70.7 334.7h7.2l3 -3h6.3M127.2 334.7h7.4l3 3h7.3M75.7 341.8h9.7l0 0h7.3M134.7 341.8v4.4h5.2M81.4 344.7h8.2l6 -6h5.7M92.5 359.5h9.4l6 6h6.4M138.8 359.5h5.4l6 6h3.7M81.7 362.8v-6.4h4.3" fill="none" stroke="#e0e0e0" stroke-width="0.7" />
<path d="M111.7 286h11.3l0 0h6M42.6 289h11.6l0 0h2.6M113.7 289v3.5h5.9M72.3 301.5v7.6h5.1M91.6 301.5h8.6l6 6h3.5M143.9 304.1h14.4l3 3h3.8M132 309.6h15.3l6 -6h3.5M108.6 312.8v-7h4.1M159.4 312.8v7.4h5.6M62.6 316.4h3.1l3 3h2.7M80.4 320h14.6l6 -6h5.3M103.5 320h8.5l6 6h2.2M40.3 331.1h15.1l0 0h2.5M56.5 334.7v7.4h4M111.4 347.4h5.4l3 -3h3.3M71.8 350.2h5.6l3 3h5.6M110.9 350.2v-7.4h2.6M123.9 350.2h11l0 0h3.4M37.5 356.3h9l6 -6h3.7M108.7 365.6h5.8l0 0h3.4M76 368.9h9.6l6 -6h6.7" fill="none" stroke="#b0b0b0" stroke-width="0.9" />
<path d="M127.1 286v7.2h6M144.7 289h6l0 0h4.2M59 295.8h4.2l3 -3h3.6M153.4 295.8v7h3.7M115.7 298.6h5.7l6 -6h4.3M102.5 307.1v-5.6h7.7M80.8 325.1h14.3l3 3h5.5M87.5 347.4h3.1l3 -3h6.9M37.5 359.5h14.1l0 0h2.7M155.1 359.5h5.8l0 0h5.3M138.4 362.8h14.6l0 0h7.8M90.6 365.6v7.2h3.6M119.1 365.6h6.8l0 0h7.3" fill="none" stroke="#808080" stroke-width="1.1" />
<path d="M147.8 286h3.3l3 -3h4.2M102.6 289h4.9l6 -6h5.5M110.3 292.6h12.9l3 -3h5.6M54.1 312.8h11l3 -3h5.3M139.7 316.4v3.9h6.6M80 322.4h14.2l3 3h4M142.1 331.1h6.7l6 6h5.3M60.8 344.7h13.8l0 0h7.3M100.4 347.4h6.3l3 -3h5.3M151.7 352.9v-5.7h7.4" fill="none" stroke="#c8c8c8" stroke-width="0.9" />
<path d="M155.7 286v3.1h7.7M129.5 289v-7.1h5.2M126 301.5h7l0 0h4.3M123.4 304.1h14l3 3h7M125.3 316.4h9.5l0 0h3.2M102 325.1h15l0 0h3.8M75.2 328.4h9.9l3 -3h4.4M91.2 328.4h15.5l6 6h7.4M41.2 338.1h11.8l6 6h7.7M140.5 350.2h15.4l6 6h2.2M113.6 352.9h4.8l0 0h7.4M154.6 356.3h7.5l6 6h2.1M43 368.9h7.4l6 -6h7.3" fill="none" stroke="#c8c8c8" stroke-width="0.7" />
<path d="M76 289h9.5l0 0h7M100.6 292.6h5.1l6 6h8M133 292.6h12l0 0h7.1M132 298.6h10.3l3 -3h3.4M40.8 301.5h6.1l0 0h3.8M111 301.5h11l3 -3h6M75 312.8h8.7l6 -6h6M126 312.8h12.7l6 -6h4.3M57.7 320h15.4l6 6h5M39.5 322.4h4.3l0 0h3.4M114.6 328.4h7.2l0 0h2.4M80.5 331.1v-4.2h4.7M103.8 334.7h7.9l0 0h5.3M57.4 341.8v4.8h3.7M95.8 341.8h14l0 0h2.3M77.5 352.9h14.3l0 0h2.5M83.7 356.3h3.2l3 -3h6.5M62.2 362.8h10.2l3 -3h5.1M119.1 362.8h15.2l6 -6h3.5M90.6 368.9h5.4l6 6h6.3M124.5 368.9v-6.3h5.1" fill="none" stroke="#808080" stroke-width="0.9" />
<path d="M158.2 289h14.9l3 -3h2.6M155.9 309.6h3.6l6 -6h2.2M42.1 312.8h4.6l0 0h2.4M59 325.1h16l0 0h7.8M154.5 328.4h11.1l3 -3h2.8M111 331.1h7.8l0 0h3.3M98.5 362.8v7.8h5.9" fill="none" stroke="#9a9a9a" stroke-width="0.9" />
<path d="M39.6 292.6h10.9l0 0h4.5M73.1 298.6h12.4l3 3h7.2M155.5 301.5h4.1l6 6h3M123.6 307.1h11.5l6 6h7.9M148.4 312.8h4.6l0 0h2.9M54.3 322.4v7.9h2.9M144.5 325.1h8.5l0 0h3.6M139.4 334.7h6.9l3 3h8M96.5 344.7h15.2l3 3h7.9M120.5 344.7h11.3l0 0h3.7M36.3 347.4h8.9l3 -3h3.8M57.8 368.9v-4.7h6.5" fill="none" stroke="#9a9a9a" stroke-width="1.1" />
<path d="M55.4 292.6h10.8l0 0h2.3M41.5 295.8h11.8l0 0h4.2M52 301.5h10.6l3 -3h6.4M61.9 307.1h8.3l0 0h5.3M70.2 316.4h13.3l6 -6h5.6M112.8 316.4h7.3l3 -3h5.4M132.6 320h14.9l6 -6h4.6M152.6 334.7h8.8l3 3h7.2M69.1 347.4h11.5l3 -3h4.8M129 352.9v-7.8h6.2M71 356.3h3.6l3 -3h6.6M107.4 359.5h5.5l6 6h6.9M51.5 362.8v7.4h3.1M141.5 368.9v-3.7h1.8" fill="none" stroke="#e0e0e0" stroke-width="0.9" />
<path d="M112.4 295.8v7.1h7.3M133.8 295.8h13.4l6 -6h7.3M95.2 309.6h12.5l3 3h6M126.3 325.1h10l0 0h7.9M128.9 328.4h7.5l3 -3h4.1M143.4 328.4h5.8l6 6h6.1M94.4 331.1h9.9l6 -6h4.7M155.3 331.1h10.5l3 3h3.2M61.8 338.1h9.4l3 3h7.9M76.1 338.1h5.5l0 0h6.2M151.8 338.1h10.1l3 -3h4.1M54.9 347.4h7.1l0 0h4.6M101.5 352.9h4.1l3 3h3.8M56.5 356.3h9l0 0h6.9M96.3 356.3h14.6l6 -6h4.5M79.5 359.5h8.4l6 -6h2.2M118.2 359.5v7.6h5.4M39.5 362.8h4.5l6 6h4.6M101.9 368.9h12.3l3 3h6.3" fill="none" stroke="#c8c8c8" stroke-width="1.1" />
<path d="M38.2 298.6v-7h6.4M36.8 304.1h14l3 -3h6M38.7 328.4v-6.8h6.2M117.2 334.7h3.5l6 6h7.9M134.4 338.1h11.8l6 6h2.4M151.7 347.4h8.1l0 0h5.3M54.3 352.9h14.6l0 0h4.7M150.2 368.9h15l3 -3h5.8" fill="none" stroke="#9a9a9a" stroke-width="0.7" />
<path d="M56.8 298.6h5.8l3 -3h4.2M152.3 298.6h5.6l3 -3h6.6M59.9 304.1h15.6l6 -6h6.3M38.5 309.6h10.9l0 0h5.3M158.4 320h13l3 -3h3.3M114.1 322.4h15.6l6 -6h6.1M123.4 331.1h13.2l6 -6h3.5M116.2 338.1h8.6l6 6h7.9M152.4 341.8v-4.4h2.6M121 347.4v3.2h2M134.1 347.4h7.3l0 0h6M36.8 350.2h13.9l3 3h5.4M58.1 350.2v-3.7h2M40.8 352.9h5.9l6 6h4.5M61.3 365.6h6.1l6 6h6" fill="none" stroke="#e0e0e0" stroke-width="1.1" />
<path d="M87.5 285.1h1.8v1.8h-1.8zM126.2 285.1h1.8v1.8h-1.8zM146.9 285.1h1.8v1.8h-1.8zM154.8 285.1h1.8v1.8h-1.8zM94.4 288.1h1.8v1.8h-1.8zM101.7 288.1h1.8v1.8h-1.8zM157.3 288.1h1.8v1.8h-1.8zM38.7 291.7h1.8v1.8h-1.8zM54.5 291.7h1.8v1.8h-1.8zM75.7 291.7h1.8v1.8h-1.8zM99.7 291.7h1.8v1.8h-1.8zM132.1 291.7h1.8v1.8h-1.8zM37.3 297.7h1.8v1.8h-1.8zM55.9 297.7h1.8v1.8h-1.8zM114.8 297.7h1.8v1.8h-1.8zM131.1 297.7h1.8v1.8h-1.8zM51.1 300.6h1.8v1.8h-1.8zM90.7 300.6h1.8v1.8h-1.8zM125.1 300.6h1.8v1.8h-1.8zM154.6 300.6h1.8v1.8h-1.8zM35.9 303.2h1.8v1.8h-1.8zM143 303.2h1.8v1.8h-1.8zM101.6 306.2h1.8v1.8h-1.8zM145.1 306.2h1.8v1.8h-1.8zM37.6 308.7h1.8v1.8h-1.8zM94.3 308.7h1.8v1.8h-1.8zM113.4 308.7h1.8v1.8h-1.8zM131.1 308.7h1.8v1.8h-1.8zM147.5 311.9h1.8v1.8h-1.8zM158.5 311.9h1.8v1.8h-1.8zM61.7 315.5h1.8v1.8h-1.8zM124.4 315.5h1.8v1.8h-1.8zM40 319.1h1.8v1.8h-1.8zM56.8 319.1h1.8v1.8h-1.8zM102.6 319.1h1.8v1.8h-1.8zM116.6 319.1h1.8v1.8h-1.8zM97.5 321.5h1.8v1.8h-1.8zM113.2 321.5h1.8v1.8h-1.8zM79.9 324.2h1.8v1.8h-1.8zM101.1 324.2h1.8v1.8h-1.8zM56.7 327.5h1.8v1.8h-1.8zM74.3 327.5h1.8v1.8h-1.8zM142.5 327.5h1.8v1.8h-1.8zM153.6 327.5h1.8v1.8h-1.8zM84 333.8h1.8v1.8h-1.8zM102.9 333.8h1.8v1.8h-1.8zM151.7 333.8h1.8v1.8h-1.8zM115.3 337.2h1.8v1.8h-1.8zM56.5 340.9h1.8v1.8h-1.8zM94.9 340.9h1.8v1.8h-1.8zM37.4 343.8h1.8v1.8h-1.8zM59.9 343.8h1.8v1.8h-1.8zM119.6 343.8h1.8v1.8h-1.8zM140.8 343.8h1.8v1.8h-1.8zM54 346.5h1.8v1.8h-1.8zM68.2 346.5h1.8v1.8h-1.8zM110.5 346.5h1.8v1.8h-1.8zM120.1 346.5h1.8v1.8h-1.8zM150.8 346.5h1.8v1.8h-1.8zM57.2 349.3h1.8v1.8h-1.8zM84 349.3h1.8v1.8h-1.8zM123 349.3h1.8v1.8h-1.8zM76.6 352h1.8v1.8h-1.8zM100.6 352h1.8v1.8h-1.8zM55.6 355.4h1.8v1.8h-1.8zM70.1 355.4h1.8v1.8h-1.8zM82.8 355.4h1.8v1.8h-1.8zM95.4 355.4h1.8v1.8h-1.8zM115.2 355.4h1.8v1.8h-1.8zM36.6 358.6h1.8v1.8h-1.8zM78.6 358.6h1.8v1.8h-1.8zM91.6 358.6h1.8v1.8h-1.8zM97.6 361.9h1.8v1.8h-1.8zM137.5 361.9h1.8v1.8h-1.8zM60.4 364.7h1.8v1.8h-1.8zM89.7 364.7h1.8v1.8h-1.8zM118.2 364.7h1.8v1.8h-1.8zM42.1 368h1.8v1.8h-1.8zM56.9 368h1.8v1.8h-1.8zM123.6 368h1.8v1.8h-1.8z" fill="#fff"/>
<path d="M40,343 L75,343 L85,335 L110,335" stroke="#a0a0a0" stroke-width="2.5"/>
<path d="M95,330 L120,330 L135,318" stroke="#b0b0b0" stroke-width="2"/>
<path d="M39.4,337.3 C39.8,334.3 41.2,330.1 43.0,326.5 C44.8,322.9 48.0,319.6 50.2,315.8 C52.4,312.0 53.6,307.4 56.2,303.8 C58.8,300.2 62.2,296.8 65.8,294.2 C69.4,291.6 72.5,289.6 77.7,288.2 C82.9,286.8 90.5,286.0 96.9,285.8 C103.3,285.6 110.5,286.2 116.1,287.0 C121.7,287.8 126.1,288.8 130.5,290.6 C134.9,292.4 139.1,295.0 142.5,297.8 C145.9,300.6 148.7,304.0 150.9,307.4 C153.1,310.8 154.9,315.0 155.7,318.2 C156.5,321.4 157.1,324.1 155.7,326.5 C154.3,328.9 150.7,330.7 147.3,332.5 C143.9,334.3 138.9,335.7 135.3,337.3 C131.7,338.9 128.9,339.7 125.7,342.1 C122.5,344.5 119.7,348.9 116.1,351.7 C112.5,354.5 107.7,356.9 104.1,358.9 C100.5,360.9 96.7,361.7 94.5,363.7 C92.3,365.7 92.3,370.7 90.9,370.9 C89.5,371.1 89.1,366.7 86.1,364.9 C83.1,363.1 78.0,361.5 73.0,360.1 C68.0,358.7 60.6,358.1 56.2,356.5 C51.8,354.9 49.2,352.5 46.6,350.5 C44.0,348.5 41.8,346.7 40.6,344.5 C39.4,342.3 39.0,340.3 39.4,337.3Z" stroke="#e8e8e8" stroke-width="4" opacity="0.7" filter="url(#blur1)"/>
</g>
<rect x="100" y="298.8" width="45.5" height="30" rx="4.5" fill="none" stroke="#d82828" stroke-width="2.6"/>
<text x="84.3" y="82.7" font-family="Liberation Sans, sans-serif" font-size="11.3" fill="#222222" text-anchor="middle" textLength="70" lengthAdjust="spacingAndGlyphs" >Cortical areas</text>
<text x="177.8" y="45.7" font-family="Liberation Sans, sans-serif" font-size="11.3" fill="#222222" text-anchor="middle" textLength="77.6" lengthAdjust="spacingAndGlyphs" >Single neuronal</text>
<text x="178.4" y="58.7" font-family="Liberation Sans, sans-serif" font-size="11.3" fill="#222222" text-anchor="middle" textLength="44.2" lengthAdjust="spacingAndGlyphs" >networks</text>
<text x="264.2" y="67.9" font-family="Liberation Sans, sans-serif" font-size="11.3" fill="#222222" text-anchor="middle" textLength="73.6" lengthAdjust="spacingAndGlyphs" >Interconnected</text>
<text x="264.4" y="80.3" font-family="Liberation Sans, sans-serif" font-size="11.3" fill="#222222" text-anchor="middle" textLength="90.8" lengthAdjust="spacingAndGlyphs" >neuronal networks</text>
<text x="598.8" y="68.9" font-family="Liberation Sans, sans-serif" font-size="11.3" fill="#9a2a32" text-anchor="middle" textLength="106.3" lengthAdjust="spacingAndGlyphs" >Micro-electrode array</text>
<text x="599" y="81.1" font-family="Liberation Sans, sans-serif" font-size="11.3" fill="#9a2a32" text-anchor="middle" textLength="130.7" lengthAdjust="spacingAndGlyphs">(MEA)-based <tspan font-style="italic">in vitro</tspan> brain</text>
<text x="96" y="251.5" font-family="Liberation Sans, sans-serif" font-size="11.3" fill="#9a2a32" text-anchor="middle" textLength="130" lengthAdjust="spacingAndGlyphs" >Developing computational</text>
<text x="96" y="265.4" font-family="Liberation Sans, sans-serif" font-size="11.3" fill="#9a2a32" text-anchor="middle" textLength="124.6" lengthAdjust="spacingAndGlyphs" >simulations for predicting</text>
<text x="96.7" y="278.2" font-family="Liberation Sans, sans-serif" font-size="11.3" fill="#9a2a32" text-anchor="middle" textLength="114.3" lengthAdjust="spacingAndGlyphs" >brain network behavior</text>
<text x="192.1" y="364.3" font-family="Liberation Sans, sans-serif" font-size="11.3" fill="#222222" text-anchor="middle" textLength="108.8" lengthAdjust="spacingAndGlyphs" >In silico Brain network</text>
<text x="191.9" y="378" font-family="Liberation Sans, sans-serif" font-size="11.3" fill="#222222" text-anchor="middle" textLength="50.8" lengthAdjust="spacingAndGlyphs" >simulation</text>
<text x="375.6" y="387.9" font-family="Liberation Sans, sans-serif" font-size="11.3" fill="#9a2a32" text-anchor="middle" textLength="157.3" lengthAdjust="spacingAndGlyphs" >Decoding dominant pacemaker</text>
<text x="375.3" y="401.4" font-family="Liberation Sans, sans-serif" font-size="11.3" fill="#9a2a32" text-anchor="middle" textLength="38.6" lengthAdjust="spacingAndGlyphs" >clusters</text>
<text x="375.9" y="414.8" font-family="Liberation Sans, sans-serif" font-size="11.3" fill="#9a2a32" text-anchor="middle" textLength="102" lengthAdjust="spacingAndGlyphs" >&amp; High-order activity</text>
<text x="598.8" y="404.4" font-family="Liberation Sans, sans-serif" font-size="11.3" fill="#9a2a32" text-anchor="middle" textLength="106.4" lengthAdjust="spacingAndGlyphs" >Firing rate profile and</text>
<text x="599.2" y="417.9" font-family="Liberation Sans, sans-serif" font-size="11.3" fill="#9a2a32" text-anchor="middle" textLength="137.5" lengthAdjust="spacingAndGlyphs" >Electrophysiological activity</text>
</svg></body></html>
